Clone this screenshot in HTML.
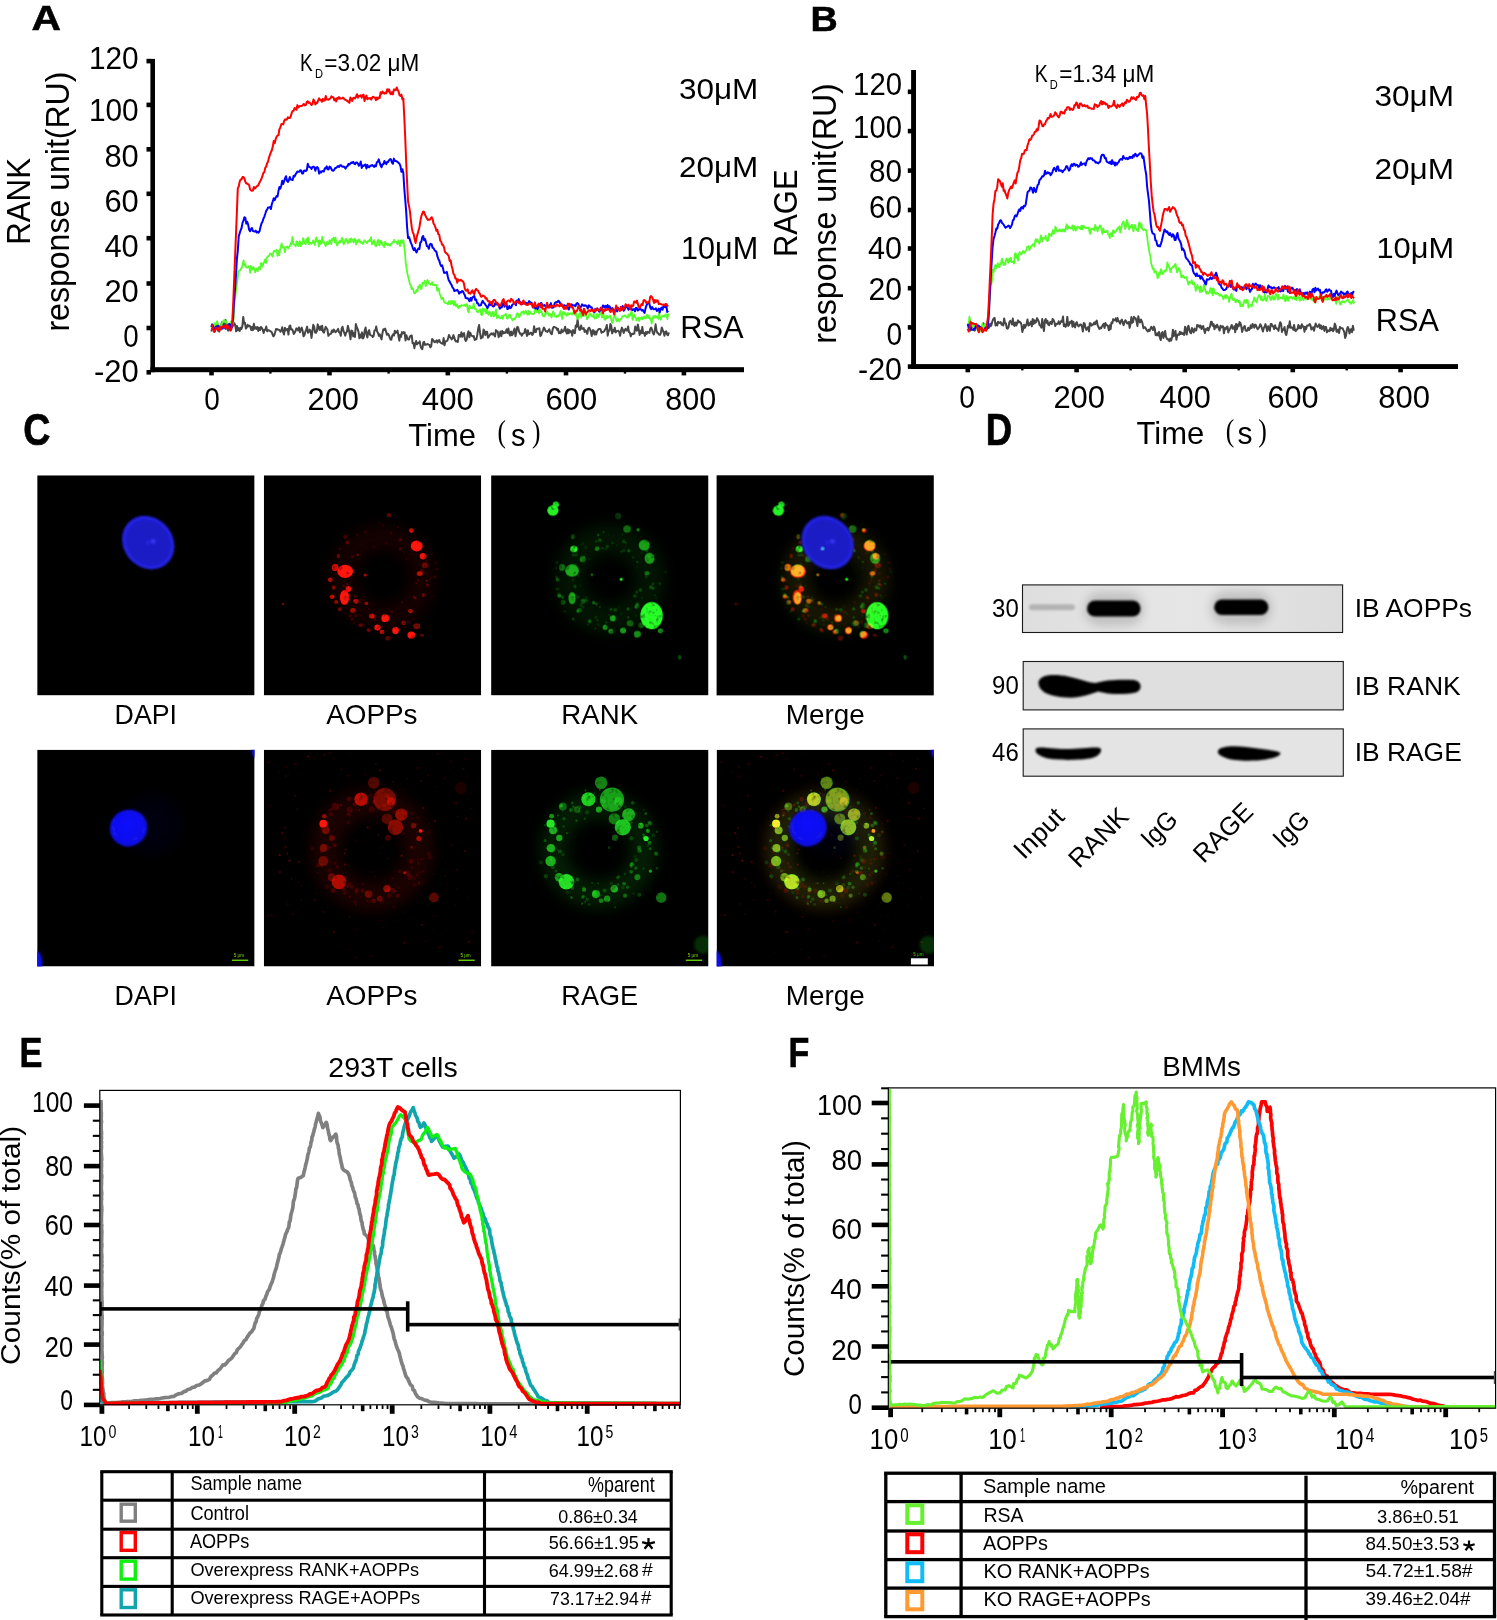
<!DOCTYPE html><html><head><meta charset="utf-8"><title>Figure</title><style>html,body{margin:0;padding:0;background:#fff}svg{display:block}body>svg{will-change:transform}text{white-space:pre}</style></head><body>
<svg width="1497" height="1620" viewBox="0 0 1497 1620" font-family="Liberation Sans, sans-serif">
<rect width="1497" height="1620" fill="#fff"/>
<defs>
<filter id="b1" x="-5%" y="-5%" width="110%" height="110%"><feGaussianBlur stdDeviation="0.7" result="bl"/><feTurbulence type="fractalNoise" baseFrequency="0.2" numOctaves="2" seed="4" result="tn"/><feColorMatrix in="tn" type="matrix" values="0 0 0 0 1 0 0 0 0 1 0 0 0 0 1 1.5 0 0 0 0.3" result="tm"/><feComposite in="bl" in2="tm" operator="in"/><feGaussianBlur stdDeviation="0.55"/></filter>
<filter id="b0" x="-30%" y="-30%" width="160%" height="160%"><feGaussianBlur stdDeviation="0.8"/></filter>
<filter id="b2" x="-50%" y="-50%" width="200%" height="200%"><feGaussianBlur stdDeviation="1.6"/></filter>
<filter id="b6" x="-50%" y="-50%" width="200%" height="200%"><feGaussianBlur stdDeviation="7"/></filter>
<filter id="bb" x="-20%" y="-40%" width="140%" height="180%"><feGaussianBlur stdDeviation="1.3"/></filter>
<filter id="bh" x="-30%" y="-80%" width="160%" height="260%"><feGaussianBlur stdDeviation="4"/></filter>
<radialGradient id="nu1" cx="50%" cy="50%" r="50%"><stop offset="0" stop-color="#2a2ae6"/><stop offset="0.12" stop-color="#1c1cc8"/><stop offset="0.8" stop-color="#1a1ac4"/><stop offset="0.95" stop-color="#2626ee"/><stop offset="1" stop-color="#1c1cd0"/></radialGradient>
<radialGradient id="nu2" cx="55%" cy="42%" r="60%"><stop offset="0" stop-color="#0a0aff"/><stop offset="0.7" stop-color="#1212f0"/><stop offset="1" stop-color="#1010e0"/></radialGradient>
<g id="r1c">
<circle cx="119" cy="102" r="40" fill="none" stroke="#ff1408" stroke-width="26" opacity="0.08" filter="url(#b6)"/>
<g filter="url(#b1)">
<ellipse cx="81.4" cy="96" rx="7.9" ry="6.6" fill="#ff1408" opacity="1"/>
<ellipse cx="71.4" cy="92.2" rx="3.4" ry="3.6" fill="#ff1408" opacity="0.8"/>
<ellipse cx="152.9" cy="70.7" rx="6" ry="5.4" fill="#ff1408" opacity="1"/>
<ellipse cx="159.3" cy="81" rx="3.4" ry="3.2" fill="#ff1408" opacity="0.95"/>
<ellipse cx="147.5" cy="55.3" rx="2.3" ry="2.3" fill="#ff1408" opacity="0.8"/>
<ellipse cx="125.2" cy="39.9" rx="2.3" ry="2.3" fill="#ff1408" opacity="0.35"/>
<ellipse cx="155.9" cy="98.3" rx="3" ry="2.4" fill="#ff1408" opacity="0.75"/>
<ellipse cx="80.7" cy="122.1" rx="4.6" ry="7.4" fill="#ff1408" opacity="1"/>
<ellipse cx="84.5" cy="113.7" rx="2.9" ry="2.9" fill="#ff1408" opacity="0.9"/>
<ellipse cx="66.5" cy="104.5" rx="2.3" ry="2.3" fill="#ff1408" opacity="0.75"/>
<ellipse cx="68.4" cy="121.4" rx="2.4" ry="2.2" fill="#ff1408" opacity="0.75"/>
<ellipse cx="72.2" cy="126.7" rx="2.2" ry="2" fill="#ff1408" opacity="0.6"/>
<ellipse cx="92.2" cy="126" rx="2.6" ry="2.4" fill="#ff1408" opacity="0.75"/>
<ellipse cx="89.1" cy="135.2" rx="2.7" ry="2.5" fill="#ff1408" opacity="0.65"/>
<ellipse cx="102.5" cy="128" rx="1.9" ry="1.9" fill="#ff1408" opacity="0.6"/>
<ellipse cx="101.4" cy="99.6" rx="1.5" ry="1.5" fill="#ff1408" opacity="0.8"/>
<ellipse cx="108" cy="140.6" rx="2.9" ry="2.5" fill="#ff1408" opacity="0.8"/>
<ellipse cx="121.4" cy="142.9" rx="3.9" ry="3.9" fill="#ff1408" opacity="1"/>
<ellipse cx="113.7" cy="152.1" rx="3.2" ry="3" fill="#ff1408" opacity="0.95"/>
<ellipse cx="118.3" cy="156.7" rx="2.3" ry="2.3" fill="#ff1408" opacity="0.8"/>
<ellipse cx="131.7" cy="155.2" rx="3.3" ry="3.7" fill="#ff1408" opacity="1"/>
<ellipse cx="147.5" cy="159.8" rx="3.9" ry="3.7" fill="#ff1408" opacity="1"/>
<ellipse cx="146.7" cy="135.7" rx="2.3" ry="2.3" fill="#ff1408" opacity="0.8"/>
<ellipse cx="139.8" cy="147.5" rx="2.4" ry="2.4" fill="#ff1408" opacity="0.45"/>
<ellipse cx="159.8" cy="119.8" rx="2" ry="2" fill="#ff1408" opacity="0.35"/>
<ellipse cx="163.6" cy="109.8" rx="1.7" ry="1.7" fill="#ff1408" opacity="0.3"/>
<ellipse cx="19.2" cy="128.6" rx="1.4" ry="1" fill="#ff1408" opacity="0.5"/>
<ellipse cx="74.5" cy="80.7" rx="1.7" ry="2.2" fill="#ff1408" opacity="0.35"/>
<ellipse cx="81.4" cy="61.5" rx="2" ry="2.4" fill="#ff1408" opacity="0.25"/>
<ellipse cx="153" cy="151" rx="3.5" ry="3" fill="#ff1408" opacity="0.45"/>
<ellipse cx="158" cy="160" rx="2.2" ry="1.8" fill="#ff1408" opacity="0.4"/>
<ellipse cx="70" cy="112" rx="2" ry="2" fill="#ff1408" opacity="0.45"/>
<ellipse cx="76" cy="134" rx="2" ry="2" fill="#ff1408" opacity="0.4"/>
<ellipse cx="97" cy="150" rx="2.5" ry="2" fill="#ff1408" opacity="0.3"/>
<ellipse cx="105" cy="155" rx="2" ry="2" fill="#ff1408" opacity="0.25"/>
<ellipse cx="124" cy="163" rx="3" ry="2.5" fill="#ff1408" opacity="0.3"/>
<ellipse cx="161" cy="90" rx="3" ry="3" fill="#ff1408" opacity="0.35"/>
<circle cx="83.69" cy="67.62" r="1.6" fill="#ff1408" opacity="0.24"/>
<circle cx="115.57" cy="48.13" r="0.83" fill="#ff1408" opacity="0.16"/>
<circle cx="162.93" cy="85.66" r="1.7" fill="#ff1408" opacity="0.1"/>
<circle cx="83.28" cy="109.03" r="1.34" fill="#ff1408" opacity="0.18"/>
<circle cx="154.51" cy="104.93" r="1.08" fill="#ff1408" opacity="0.24"/>
<circle cx="122.36" cy="68.02" r="1.6" fill="#ff1408" opacity="0.1"/>
<circle cx="94.37" cy="79.6" r="0.8" fill="#ff1408" opacity="0.23"/>
<circle cx="127.97" cy="136.45" r="1.78" fill="#ff1408" opacity="0.23"/>
<circle cx="105.56" cy="155.33" r="1.34" fill="#ff1408" opacity="0.2"/>
<circle cx="134.27" cy="154.28" r="1.49" fill="#ff1408" opacity="0.24"/>
<circle cx="148.66" cy="78.61" r="1.16" fill="#ff1408" opacity="0.11"/>
<circle cx="138.32" cy="127.13" r="1.1" fill="#ff1408" opacity="0.18"/>
<circle cx="166.62" cy="103.01" r="1.14" fill="#ff1408" opacity="0.13"/>
<circle cx="136.73" cy="63.38" r="1.12" fill="#ff1408" opacity="0.16"/>
<circle cx="110.15" cy="71.79" r="1.78" fill="#ff1408" opacity="0.08"/>
<circle cx="118.93" cy="50.03" r="0.82" fill="#ff1408" opacity="0.21"/>
<circle cx="88.97" cy="135.57" r="0.81" fill="#ff1408" opacity="0.09"/>
<circle cx="142.06" cy="151.75" r="1" fill="#ff1408" opacity="0.21"/>
<circle cx="168.25" cy="78.68" r="1.14" fill="#ff1408" opacity="0.14"/>
<circle cx="69.44" cy="94.25" r="0.91" fill="#ff1408" opacity="0.21"/>
<circle cx="134.3" cy="51.93" r="0.84" fill="#ff1408" opacity="0.24"/>
<circle cx="151.66" cy="123.06" r="1.41" fill="#ff1408" opacity="0.24"/>
<circle cx="90.06" cy="147.63" r="1.35" fill="#ff1408" opacity="0.13"/>
<circle cx="104.9" cy="133.61" r="0.88" fill="#ff1408" opacity="0.11"/>
<circle cx="98.14" cy="50.12" r="0.96" fill="#ff1408" opacity="0.09"/>
<circle cx="162.72" cy="98.33" r="1.21" fill="#ff1408" opacity="0.12"/>
<circle cx="76.23" cy="73.35" r="1.26" fill="#ff1408" opacity="0.15"/>
<circle cx="169.55" cy="120.45" r="0.83" fill="#ff1408" opacity="0.16"/>
<circle cx="136.61" cy="73.63" r="1.53" fill="#ff1408" opacity="0.24"/>
<circle cx="84.53" cy="65.11" r="0.91" fill="#ff1408" opacity="0.15"/>
<circle cx="149.74" cy="143.89" r="1.09" fill="#ff1408" opacity="0.16"/>
<circle cx="171.16" cy="101.76" r="1.78" fill="#ff1408" opacity="0.16"/>
<circle cx="70.17" cy="105.64" r="1.28" fill="#ff1408" opacity="0.13"/>
<circle cx="91.18" cy="121.22" r="1.18" fill="#ff1408" opacity="0.25"/>
<circle cx="163.83" cy="90.43" r="1.3" fill="#ff1408" opacity="0.14"/>
<circle cx="150.42" cy="121.7" r="1.58" fill="#ff1408" opacity="0.23"/>
<circle cx="86.53" cy="140.59" r="1.57" fill="#ff1408" opacity="0.2"/>
<circle cx="93.41" cy="59.34" r="1.16" fill="#ff1408" opacity="0.2"/>
<circle cx="110.79" cy="143.83" r="1.57" fill="#ff1408" opacity="0.2"/>
<circle cx="104.15" cy="154.53" r="1.45" fill="#ff1408" opacity="0.18"/>
<circle cx="163.1" cy="105.21" r="1.05" fill="#ff1408" opacity="0.19"/>
<circle cx="69.15" cy="113.83" r="1.45" fill="#ff1408" opacity="0.22"/>
<circle cx="92.03" cy="140.18" r="1.54" fill="#ff1408" opacity="0.22"/>
<circle cx="88.48" cy="143.99" r="1.67" fill="#ff1408" opacity="0.2"/>
<circle cx="173.25" cy="93.79" r="1.32" fill="#ff1408" opacity="0.17"/>
<circle cx="145.02" cy="146.74" r="1.74" fill="#ff1408" opacity="0.16"/>
<circle cx="101.47" cy="56.55" r="1.53" fill="#ff1408" opacity="0.11"/>
<circle cx="127.55" cy="57.72" r="1.47" fill="#ff1408" opacity="0.15"/>
<circle cx="83.26" cy="66.83" r="1.44" fill="#ff1408" opacity="0.2"/>
<circle cx="152.65" cy="107.9" r="1.24" fill="#ff1408" opacity="0.19"/>
<circle cx="128.25" cy="148.93" r="1.43" fill="#ff1408" opacity="0.09"/>
<circle cx="83.69" cy="108.38" r="0.85" fill="#ff1408" opacity="0.1"/>
<circle cx="104.74" cy="133.66" r="0.99" fill="#ff1408" opacity="0.09"/>
<circle cx="80.06" cy="110.62" r="1.41" fill="#ff1408" opacity="0.18"/>
<circle cx="123.08" cy="155.33" r="0.8" fill="#ff1408" opacity="0.15"/>
<circle cx="111.75" cy="142.01" r="0.92" fill="#ff1408" opacity="0.22"/>
<circle cx="97.28" cy="124.03" r="1.41" fill="#ff1408" opacity="0.1"/>
<circle cx="81.73" cy="91.12" r="1.38" fill="#ff1408" opacity="0.24"/>
<circle cx="136.06" cy="64.83" r="1.61" fill="#ff1408" opacity="0.19"/>
<circle cx="96.02" cy="126.64" r="1.4" fill="#ff1408" opacity="0.18"/>
<circle cx="172.18" cy="87.34" r="1.41" fill="#ff1408" opacity="0.14"/>
<circle cx="142.54" cy="83.37" r="0.91" fill="#ff1408" opacity="0.18"/>
<circle cx="93.77" cy="79.72" r="1.43" fill="#ff1408" opacity="0.23"/>
<circle cx="89.7" cy="131" r="1.03" fill="#ff1408" opacity="0.13"/>
<circle cx="158.28" cy="95.13" r="1.76" fill="#ff1408" opacity="0.24"/>
<circle cx="88.7" cy="81.19" r="1.78" fill="#ff1408" opacity="0.16"/>
<circle cx="85.98" cy="121.4" r="1.78" fill="#ff1408" opacity="0.16"/>
<circle cx="109.39" cy="143.3" r="0.92" fill="#ff1408" opacity="0.19"/>
<circle cx="83.73" cy="115.09" r="1.58" fill="#ff1408" opacity="0.22"/>
<circle cx="162.7" cy="105.63" r="1.07" fill="#ff1408" opacity="0.24"/>
</g></g>
<g id="g1c">
<circle cx="119" cy="104" r="40" fill="none" stroke="#28ff28" stroke-width="30" opacity="0.08" filter="url(#b6)"/>
<g filter="url(#b1)">
<ellipse cx="160.5" cy="140.3" rx="11.2" ry="13.6" fill="#28ff28" opacity="1"/>
<ellipse cx="61.8" cy="35.3" rx="5.6" ry="5.4" fill="#28ff28" opacity="0.95"/>
<ellipse cx="64.8" cy="29.2" rx="3.2" ry="3" fill="#28ff28" opacity="0.85"/>
<ellipse cx="82.8" cy="73.7" rx="3.6" ry="3.3" fill="#28ff28" opacity="0.95"/>
<ellipse cx="81" cy="95.3" rx="6.8" ry="6.2" fill="#28ff28" opacity="0.65"/>
<ellipse cx="71" cy="92.2" rx="3" ry="3.4" fill="#28ff28" opacity="0.4"/>
<ellipse cx="153.2" cy="69.9" rx="5.6" ry="5.4" fill="#28ff28" opacity="0.6"/>
<ellipse cx="158.5" cy="83" rx="5" ry="5.6" fill="#28ff28" opacity="0.6"/>
<ellipse cx="136" cy="53.8" rx="3.8" ry="3.8" fill="#28ff28" opacity="0.4"/>
<ellipse cx="147" cy="54.5" rx="1.7" ry="1.7" fill="#28ff28" opacity="0.45"/>
<ellipse cx="105.9" cy="73.3" rx="2.4" ry="2.4" fill="#28ff28" opacity="0.45"/>
<ellipse cx="130.1" cy="104" rx="1.6" ry="1.6" fill="#28ff28" opacity="0.95"/>
<ellipse cx="100.9" cy="99.4" rx="1.2" ry="1.2" fill="#28ff28" opacity="0.6"/>
<ellipse cx="91.7" cy="83.7" rx="3" ry="3.2" fill="#28ff28" opacity="0.35"/>
<ellipse cx="81" cy="122.9" rx="3.6" ry="6.2" fill="#28ff28" opacity="0.6"/>
<ellipse cx="68.4" cy="120.6" rx="2" ry="2" fill="#28ff28" opacity="0.4"/>
<ellipse cx="66.4" cy="104.5" rx="1.8" ry="1.8" fill="#28ff28" opacity="0.35"/>
<ellipse cx="121.7" cy="142.9" rx="3" ry="3" fill="#28ff28" opacity="0.6"/>
<ellipse cx="114" cy="152.1" rx="2.5" ry="2.5" fill="#28ff28" opacity="0.6"/>
<ellipse cx="119.7" cy="155.9" rx="2.5" ry="2.5" fill="#28ff28" opacity="0.55"/>
<ellipse cx="132" cy="155.2" rx="3" ry="3" fill="#28ff28" opacity="0.6"/>
<ellipse cx="146.3" cy="159" rx="3.6" ry="3.6" fill="#28ff28" opacity="0.55"/>
<ellipse cx="169.3" cy="155.6" rx="2.6" ry="2.4" fill="#28ff28" opacity="0.6"/>
<ellipse cx="155.9" cy="97.9" rx="2.6" ry="2.2" fill="#28ff28" opacity="0.4"/>
<ellipse cx="102.5" cy="127.5" rx="1.7" ry="1.7" fill="#28ff28" opacity="0.4"/>
<ellipse cx="88.3" cy="135.2" rx="2.4" ry="2.4" fill="#28ff28" opacity="0.3"/>
<ellipse cx="98.6" cy="146" rx="2" ry="2" fill="#28ff28" opacity="0.3"/>
<ellipse cx="81.7" cy="61.5" rx="2" ry="2.4" fill="#28ff28" opacity="0.3"/>
<ellipse cx="127" cy="40.7" rx="3.2" ry="3.2" fill="#28ff28" opacity="0.2"/>
<ellipse cx="188.5" cy="182" rx="1.8" ry="2.6" fill="#28ff28" opacity="0.3"/>
<ellipse cx="139" cy="148" rx="3.5" ry="3" fill="#28ff28" opacity="0.35"/>
<ellipse cx="150" cy="150" rx="3" ry="3" fill="#28ff28" opacity="0.3"/>
<ellipse cx="72" cy="127" rx="2.5" ry="2.5" fill="#28ff28" opacity="0.3"/>
<ellipse cx="92" cy="126" rx="2.5" ry="2.5" fill="#28ff28" opacity="0.3"/>
<ellipse cx="160" cy="112" rx="2" ry="2" fill="#28ff28" opacity="0.25"/>
<ellipse cx="146" cy="131" rx="2.5" ry="2.5" fill="#28ff28" opacity="0.25"/>
<circle cx="125.94" cy="69.82" r="1.12" fill="#28ff28" opacity="0.11"/>
<circle cx="155.12" cy="101.45" r="1.53" fill="#28ff28" opacity="0.17"/>
<circle cx="91.44" cy="68.54" r="1.69" fill="#28ff28" opacity="0.1"/>
<circle cx="121.37" cy="67.66" r="1.44" fill="#28ff28" opacity="0.15"/>
<circle cx="106.58" cy="145" r="1.36" fill="#28ff28" opacity="0.15"/>
<circle cx="117.6" cy="59.48" r="0.84" fill="#28ff28" opacity="0.13"/>
<circle cx="67.41" cy="118.78" r="1.87" fill="#28ff28" opacity="0.19"/>
<circle cx="168.59" cy="108.55" r="1.31" fill="#28ff28" opacity="0.2"/>
<circle cx="107.12" cy="59.87" r="1.38" fill="#28ff28" opacity="0.26"/>
<circle cx="89.69" cy="129.69" r="1.82" fill="#28ff28" opacity="0.12"/>
<circle cx="104.26" cy="153.07" r="0.88" fill="#28ff28" opacity="0.25"/>
<circle cx="105.32" cy="66.29" r="1.14" fill="#28ff28" opacity="0.24"/>
<circle cx="146.08" cy="86.97" r="1.37" fill="#28ff28" opacity="0.19"/>
<circle cx="81.74" cy="104.55" r="0.98" fill="#28ff28" opacity="0.2"/>
<circle cx="130.33" cy="76.31" r="1.08" fill="#28ff28" opacity="0.24"/>
<circle cx="131.07" cy="59.01" r="0.83" fill="#28ff28" opacity="0.22"/>
<circle cx="174.45" cy="96.52" r="1.64" fill="#28ff28" opacity="0.09"/>
<circle cx="137.66" cy="75.41" r="1.57" fill="#28ff28" opacity="0.27"/>
<circle cx="111.57" cy="73.11" r="1.15" fill="#28ff28" opacity="0.26"/>
<circle cx="145.57" cy="140.44" r="1.3" fill="#28ff28" opacity="0.11"/>
<circle cx="98" cy="83.68" r="0.93" fill="#28ff28" opacity="0.16"/>
<circle cx="145.63" cy="116.94" r="1.49" fill="#28ff28" opacity="0.23"/>
<circle cx="141.94" cy="82.03" r="1.32" fill="#28ff28" opacity="0.14"/>
<circle cx="85.29" cy="79.44" r="1.93" fill="#28ff28" opacity="0.15"/>
<circle cx="163.64" cy="120.31" r="0.98" fill="#28ff28" opacity="0.21"/>
<circle cx="65.54" cy="102.04" r="1.47" fill="#28ff28" opacity="0.2"/>
<circle cx="115.39" cy="147.3" r="1.11" fill="#28ff28" opacity="0.23"/>
<circle cx="87.43" cy="100.62" r="1.08" fill="#28ff28" opacity="0.15"/>
<circle cx="116.25" cy="71.09" r="1.66" fill="#28ff28" opacity="0.21"/>
<circle cx="159.16" cy="127.83" r="0.91" fill="#28ff28" opacity="0.1"/>
<circle cx="90.19" cy="84.7" r="1.85" fill="#28ff28" opacity="0.18"/>
<circle cx="96.65" cy="149.06" r="0.84" fill="#28ff28" opacity="0.23"/>
<circle cx="149.41" cy="114.66" r="1.94" fill="#28ff28" opacity="0.22"/>
<circle cx="124.26" cy="134.8" r="1.97" fill="#28ff28" opacity="0.21"/>
<circle cx="132.69" cy="75.17" r="1.55" fill="#28ff28" opacity="0.15"/>
<circle cx="122.51" cy="141.17" r="1.54" fill="#28ff28" opacity="0.15"/>
<circle cx="95.03" cy="124.93" r="1.8" fill="#28ff28" opacity="0.21"/>
<circle cx="132.47" cy="66.19" r="1.82" fill="#28ff28" opacity="0.18"/>
<circle cx="82.2" cy="79.79" r="1.69" fill="#28ff28" opacity="0.16"/>
<circle cx="142.72" cy="120.56" r="1.04" fill="#28ff28" opacity="0.09"/>
<circle cx="150.82" cy="77.41" r="1.71" fill="#28ff28" opacity="0.08"/>
<circle cx="67.01" cy="113.86" r="1.54" fill="#28ff28" opacity="0.17"/>
<circle cx="88.93" cy="110.61" r="0.99" fill="#28ff28" opacity="0.11"/>
<circle cx="91.63" cy="131.5" r="1.86" fill="#28ff28" opacity="0.11"/>
<circle cx="118.09" cy="139.76" r="0.99" fill="#28ff28" opacity="0.14"/>
<circle cx="122.86" cy="145.32" r="0.84" fill="#28ff28" opacity="0.26"/>
<circle cx="82.11" cy="143.8" r="1.63" fill="#28ff28" opacity="0.21"/>
<circle cx="65.39" cy="113.63" r="0.94" fill="#28ff28" opacity="0.21"/>
<circle cx="107.03" cy="149.33" r="1.68" fill="#28ff28" opacity="0.11"/>
<circle cx="127.69" cy="131.35" r="1.08" fill="#28ff28" opacity="0.1"/>
<circle cx="74.08" cy="136.18" r="1.24" fill="#28ff28" opacity="0.14"/>
<circle cx="83.79" cy="111.17" r="1.68" fill="#28ff28" opacity="0.22"/>
<circle cx="136.99" cy="133.71" r="1.61" fill="#28ff28" opacity="0.27"/>
<circle cx="94.62" cy="72.22" r="1.97" fill="#28ff28" opacity="0.08"/>
<circle cx="165.22" cy="122.59" r="1.29" fill="#28ff28" opacity="0.09"/>
<circle cx="65.85" cy="87.32" r="1.42" fill="#28ff28" opacity="0.15"/>
<circle cx="143.93" cy="120.67" r="1.88" fill="#28ff28" opacity="0.18"/>
<circle cx="146.13" cy="92.4" r="1.09" fill="#28ff28" opacity="0.09"/>
<circle cx="95.28" cy="121.85" r="1.11" fill="#28ff28" opacity="0.16"/>
<circle cx="108.86" cy="131.64" r="0.85" fill="#28ff28" opacity="0.27"/>
<circle cx="137.13" cy="142.15" r="1.28" fill="#28ff28" opacity="0.19"/>
<circle cx="150.74" cy="122.6" r="0.93" fill="#28ff28" opacity="0.19"/>
<circle cx="158.39" cy="82.76" r="1.83" fill="#28ff28" opacity="0.12"/>
<circle cx="161.85" cy="108.71" r="1.38" fill="#28ff28" opacity="0.19"/>
<circle cx="86.5" cy="135.85" r="1.67" fill="#28ff28" opacity="0.26"/>
<circle cx="104.63" cy="141.94" r="1.79" fill="#28ff28" opacity="0.12"/>
<circle cx="146.45" cy="128.41" r="0.91" fill="#28ff28" opacity="0.23"/>
<circle cx="134.53" cy="70.68" r="0.96" fill="#28ff28" opacity="0.1"/>
<circle cx="119.98" cy="134.35" r="1.31" fill="#28ff28" opacity="0.2"/>
<circle cx="119.86" cy="133.71" r="1.64" fill="#28ff28" opacity="0.09"/>
<circle cx="130.16" cy="138.24" r="1.25" fill="#28ff28" opacity="0.1"/>
<circle cx="86.7" cy="121.61" r="1.7" fill="#28ff28" opacity="0.19"/>
<circle cx="155.78" cy="75.86" r="1.71" fill="#28ff28" opacity="0.19"/>
<circle cx="71.45" cy="122.08" r="1.59" fill="#28ff28" opacity="0.27"/>
<circle cx="112.44" cy="56.82" r="1.12" fill="#28ff28" opacity="0.24"/>
<circle cx="95.61" cy="125.31" r="0.88" fill="#28ff28" opacity="0.11"/>
<circle cx="115.29" cy="150.78" r="1.14" fill="#28ff28" opacity="0.09"/>
<circle cx="122.77" cy="60.56" r="0.83" fill="#28ff28" opacity="0.09"/>
<circle cx="144.99" cy="131.72" r="1.83" fill="#28ff28" opacity="0.27"/>
<circle cx="92.72" cy="81.7" r="1.31" fill="#28ff28" opacity="0.15"/>
<circle cx="105.29" cy="128.81" r="1.5" fill="#28ff28" opacity="0.25"/>
<circle cx="114.55" cy="73.66" r="1.44" fill="#28ff28" opacity="0.11"/>
<circle cx="108.79" cy="64.82" r="1.93" fill="#28ff28" opacity="0.24"/>
<circle cx="146.17" cy="128.94" r="1.9" fill="#28ff28" opacity="0.17"/>
<circle cx="82.05" cy="120.23" r="1.72" fill="#28ff28" opacity="0.27"/>
<circle cx="65" cy="92.79" r="1.52" fill="#28ff28" opacity="0.1"/>
<circle cx="134.61" cy="67.45" r="0.86" fill="#28ff28" opacity="0.28"/>
<circle cx="162.22" cy="113.05" r="1.38" fill="#28ff28" opacity="0.26"/>
<circle cx="92.41" cy="125.25" r="1.13" fill="#28ff28" opacity="0.12"/>
<circle cx="83.89" cy="89.48" r="1.7" fill="#28ff28" opacity="0.13"/>
</g></g>
<g id="b1c"><g filter="url(#b0)"><ellipse cx="111" cy="67.3" rx="24.6" ry="28.2" transform="rotate(-40 111 67.3)" fill="url(#nu1)"/><circle cx="116" cy="66" r="2.2" fill="#4040ff" opacity=".8"/></g></g>
<g id="g1n"><g filter="url(#b1)"><circle cx="105.9" cy="73.3" r="2" fill="#30c0a0" opacity=".8"/></g></g>
<g id="r2c">
<circle cx="108" cy="100" r="47" fill="none" stroke="#ff1408" stroke-width="30" opacity="0.10" filter="url(#b6)"/>
<g filter="url(#b1)">
<circle cx="59.5" cy="74" r="3.9" fill="#ff1408" opacity="1"/>
<circle cx="60.5" cy="66.5" r="2.3" fill="#ff1408" opacity="0.55"/>
<circle cx="62" cy="80.5" r="3.8" fill="#ff1408" opacity="0.4"/>
<circle cx="97.3" cy="49.5" r="6.7" fill="#ff1408" opacity="0.7"/>
<circle cx="120.9" cy="49.9" r="11.5" fill="#ff1408" opacity="0.42"/>
<circle cx="127" cy="51.5" r="4" fill="#ff1408" opacity="0.55"/>
<circle cx="110" cy="33" r="6" fill="#ff1408" opacity="0.3"/>
<circle cx="107.9" cy="59.9" r="3" fill="#ff1408" opacity="0.15"/>
<circle cx="137.5" cy="65" r="6.2" fill="#ff1408" opacity="0.55"/>
<circle cx="131.7" cy="77.6" r="7.7" fill="#ff1408" opacity="0.5"/>
<circle cx="123.2" cy="69.1" r="5.4" fill="#ff1408" opacity="0.3"/>
<circle cx="156.8" cy="81.2" r="1.9" fill="#ff1408" opacity="1"/>
<circle cx="149.7" cy="76" r="2.7" fill="#ff1408" opacity="0.4"/>
<circle cx="155" cy="88.8" r="2.5" fill="#ff1408" opacity="0.6"/>
<circle cx="68.2" cy="88.3" r="3" fill="#ff1408" opacity="0.3"/>
<circle cx="59.8" cy="98.3" r="3.9" fill="#ff1408" opacity="0.4"/>
<circle cx="59.5" cy="111.4" r="5" fill="#ff1408" opacity="0.35"/>
<circle cx="75.2" cy="132.1" r="7.4" fill="#ff1408" opacity="0.65"/>
<circle cx="67.9" cy="127.5" r="4" fill="#ff1408" opacity="0.35"/>
<circle cx="123.2" cy="139" r="3.6" fill="#ff1408" opacity="0.65"/>
<circle cx="104.8" cy="144.4" r="3.9" fill="#ff1408" opacity="0.35"/>
<circle cx="116" cy="149" r="3" fill="#ff1408" opacity="0.3"/>
<circle cx="146.3" cy="127.5" r="2.8" fill="#ff1408" opacity="0.15"/>
<circle cx="170.1" cy="147.8" r="5" fill="#ff1408" opacity="0.35"/>
<circle cx="159.3" cy="121.4" r="1.6" fill="#ff1408" opacity="0.1"/>
<circle cx="71.7" cy="56.8" r="3.8" fill="#ff1408" opacity="0.2"/>
<circle cx="197" cy="38.4" r="6" fill="#ff1408" opacity="0.12"/>
<circle cx="141" cy="123" r="1.5" fill="#ff1408" opacity="0.7"/>
<circle cx="118" cy="98" r="1.3" fill="#ff1408" opacity="0.1"/>
<circle cx="93" cy="140" r="2" fill="#ff1408" opacity="0.2"/>
<circle cx="134" cy="146" r="2" fill="#ff1408" opacity="0.2"/>
<circle cx="86" cy="60" r="3" fill="#ff1408" opacity="0.2"/>
<circle cx="148" cy="98" r="2" fill="#ff1408" opacity="0.15"/>
<circle cx="165" cy="104" r="2" fill="#ff1408" opacity="0.15"/>
<circle cx="110" cy="151" r="2.2" fill="#ff1408" opacity="0.25"/>
<circle cx="124" cy="88" r="3" fill="#ff1408" opacity="0.25"/>
<circle cx="77.22" cy="55.38" r="1.29" fill="#ff1408" opacity="0.26"/>
<circle cx="182.32" cy="133.43" r="0.88" fill="#ff1408" opacity="0.11"/>
<circle cx="178.48" cy="106.41" r="0.63" fill="#ff1408" opacity="0.12"/>
<circle cx="23.83" cy="154.43" r="1.23" fill="#ff1408" opacity="0.12"/>
<circle cx="171.17" cy="71.38" r="1.08" fill="#ff1408" opacity="0.27"/>
<circle cx="134.47" cy="171.88" r="0.86" fill="#ff1408" opacity="0.08"/>
<circle cx="110.98" cy="126.79" r="0.73" fill="#ff1408" opacity="0.17"/>
<circle cx="69.94" cy="8.71" r="0.82" fill="#ff1408" opacity="0.16"/>
<circle cx="103.46" cy="151.41" r="0.88" fill="#ff1408" opacity="0.3"/>
<circle cx="175.08" cy="197.94" r="1.08" fill="#ff1408" opacity="0.23"/>
<circle cx="116.25" cy="171.52" r="0.85" fill="#ff1408" opacity="0.21"/>
<circle cx="146.37" cy="113.19" r="0.8" fill="#ff1408" opacity="0.1"/>
<circle cx="21.41" cy="78.09" r="1.01" fill="#ff1408" opacity="0.25"/>
<circle cx="153.75" cy="67.73" r="1.25" fill="#ff1408" opacity="0.14"/>
<circle cx="154.09" cy="18.2" r="1.13" fill="#ff1408" opacity="0.23"/>
<circle cx="204.91" cy="192.3" r="1.08" fill="#ff1408" opacity="0.26"/>
<circle cx="158.85" cy="131.92" r="0.75" fill="#ff1408" opacity="0.19"/>
<circle cx="192.08" cy="53.45" r="1.28" fill="#ff1408" opacity="0.2"/>
<circle cx="86.01" cy="3.62" r="0.87" fill="#ff1408" opacity="0.12"/>
<circle cx="140.8" cy="192.8" r="1.24" fill="#ff1408" opacity="0.21"/>
<circle cx="84.59" cy="25.98" r="1.08" fill="#ff1408" opacity="0.2"/>
<circle cx="153.92" cy="81.92" r="1.22" fill="#ff1408" opacity="0.13"/>
<circle cx="67.48" cy="59.48" r="1.04" fill="#ff1408" opacity="0.28"/>
<circle cx="38.33" cy="136.52" r="1.14" fill="#ff1408" opacity="0.13"/>
<circle cx="16.23" cy="122.4" r="1.18" fill="#ff1408" opacity="0.27"/>
<circle cx="156.62" cy="90.96" r="0.9" fill="#ff1408" opacity="0.2"/>
<circle cx="193.9" cy="66.79" r="0.8" fill="#ff1408" opacity="0.21"/>
<circle cx="206.95" cy="42.51" r="0.62" fill="#ff1408" opacity="0.11"/>
<circle cx="121.7" cy="130.33" r="0.73" fill="#ff1408" opacity="0.12"/>
<circle cx="128.44" cy="139.38" r="1.08" fill="#ff1408" opacity="0.24"/>
<circle cx="15.95" cy="105.27" r="1.18" fill="#ff1408" opacity="0.29"/>
<circle cx="70.19" cy="182.42" r="1.05" fill="#ff1408" opacity="0.28"/>
<circle cx="51.33" cy="150.03" r="1.19" fill="#ff1408" opacity="0.18"/>
<circle cx="24.27" cy="43.83" r="0.71" fill="#ff1408" opacity="0.1"/>
<circle cx="35.06" cy="132.92" r="0.67" fill="#ff1408" opacity="0.25"/>
<circle cx="158.34" cy="175.25" r="1.16" fill="#ff1408" opacity="0.24"/>
<circle cx="197.98" cy="204.91" r="1.04" fill="#ff1408" opacity="0.29"/>
<circle cx="24.8" cy="24.71" r="0.65" fill="#ff1408" opacity="0.13"/>
<circle cx="82.01" cy="99.78" r="1.08" fill="#ff1408" opacity="0.24"/>
<circle cx="20.68" cy="88.09" r="0.98" fill="#ff1408" opacity="0.16"/>
<circle cx="27.8" cy="128.99" r="0.86" fill="#ff1408" opacity="0.23"/>
<circle cx="107.55" cy="206.13" r="1.26" fill="#ff1408" opacity="0.1"/>
<circle cx="163.32" cy="155.18" r="0.81" fill="#ff1408" opacity="0.11"/>
<circle cx="104.07" cy="77.72" r="1.12" fill="#ff1408" opacity="0.28"/>
<circle cx="83.62" cy="64.31" r="0.95" fill="#ff1408" opacity="0.23"/>
<circle cx="169.48" cy="124.47" r="0.81" fill="#ff1408" opacity="0.15"/>
<circle cx="181.93" cy="112.56" r="0.64" fill="#ff1408" opacity="0.17"/>
<circle cx="53.18" cy="143.57" r="0.65" fill="#ff1408" opacity="0.14"/>
<circle cx="23.26" cy="103.76" r="1.29" fill="#ff1408" opacity="0.2"/>
<circle cx="84.51" cy="200.06" r="0.66" fill="#ff1408" opacity="0.16"/>
<circle cx="174.07" cy="4.08" r="1.14" fill="#ff1408" opacity="0.16"/>
<circle cx="6.46" cy="55.93" r="0.92" fill="#ff1408" opacity="0.16"/>
<circle cx="112.04" cy="14.21" r="0.75" fill="#ff1408" opacity="0.29"/>
<circle cx="96.4" cy="102.57" r="0.66" fill="#ff1408" opacity="0.14"/>
<circle cx="204.45" cy="147.97" r="0.96" fill="#ff1408" opacity="0.09"/>
<circle cx="85.86" cy="167.25" r="0.9" fill="#ff1408" opacity="0.21"/>
<circle cx="193.4" cy="139.12" r="1.05" fill="#ff1408" opacity="0.09"/>
<circle cx="8.03" cy="165.38" r="0.89" fill="#ff1408" opacity="0.27"/>
<circle cx="177.22" cy="196.14" r="0.86" fill="#ff1408" opacity="0.3"/>
<circle cx="162.57" cy="191.17" r="0.7" fill="#ff1408" opacity="0.25"/>
<circle cx="92.07" cy="208.11" r="1.3" fill="#ff1408" opacity="0.13"/>
<circle cx="91.92" cy="60.16" r="0.93" fill="#ff1408" opacity="0.14"/>
<circle cx="143.63" cy="29.02" r="0.72" fill="#ff1408" opacity="0.18"/>
<circle cx="18.59" cy="83.43" r="1.23" fill="#ff1408" opacity="0.27"/>
<circle cx="44.47" cy="6.9" r="1.18" fill="#ff1408" opacity="0.29"/>
<circle cx="129.37" cy="31.77" r="0.77" fill="#ff1408" opacity="0.28"/>
<circle cx="200.83" cy="9.56" r="0.73" fill="#ff1408" opacity="0.17"/>
<circle cx="59.27" cy="162.07" r="0.86" fill="#ff1408" opacity="0.25"/>
<circle cx="35.07" cy="112.37" r="1.28" fill="#ff1408" opacity="0.23"/>
<circle cx="22" cy="26.42" r="1.05" fill="#ff1408" opacity="0.16"/>
<circle cx="80.8" cy="103.79" r="1.01" fill="#ff1408" opacity="0.29"/>
<circle cx="53.83" cy="122.99" r="0.78" fill="#ff1408" opacity="0.2"/>
<circle cx="157.34" cy="31.19" r="0.94" fill="#ff1408" opacity="0.24"/>
<circle cx="4.72" cy="165.71" r="0.89" fill="#ff1408" opacity="0.19"/>
<circle cx="131.82" cy="170.3" r="0.64" fill="#ff1408" opacity="0.19"/>
<circle cx="11.08" cy="84.34" r="0.84" fill="#ff1408" opacity="0.08"/>
<circle cx="65.82" cy="97.95" r="1.06" fill="#ff1408" opacity="0.28"/>
<circle cx="81.17" cy="114.84" r="1.1" fill="#ff1408" opacity="0.29"/>
<circle cx="203.38" cy="211.47" r="0.81" fill="#ff1408" opacity="0.12"/>
<circle cx="199.63" cy="19.33" r="0.91" fill="#ff1408" opacity="0.24"/>
<circle cx="114.56" cy="85.03" r="1.25" fill="#ff1408" opacity="0.15"/>
<circle cx="119.41" cy="178.06" r="0.7" fill="#ff1408" opacity="0.16"/>
<circle cx="107.29" cy="122.41" r="0.75" fill="#ff1408" opacity="0.18"/>
<circle cx="15.62" cy="21.55" r="0.84" fill="#ff1408" opacity="0.11"/>
<circle cx="207.15" cy="58.56" r="0.79" fill="#ff1408" opacity="0.25"/>
<circle cx="159.38" cy="58.3" r="1.18" fill="#ff1408" opacity="0.22"/>
<circle cx="85" cy="135.68" r="0.77" fill="#ff1408" opacity="0.14"/>
<circle cx="187.95" cy="95.55" r="1.23" fill="#ff1408" opacity="0.12"/>
<circle cx="31.97" cy="13.96" r="1.12" fill="#ff1408" opacity="0.2"/>
<circle cx="5.04" cy="12.13" r="1.18" fill="#ff1408" opacity="0.19"/>
<circle cx="186.85" cy="11.39" r="1.01" fill="#ff1408" opacity="0.11"/>
<circle cx="155.16" cy="131.99" r="1.03" fill="#ff1408" opacity="0.13"/>
<circle cx="203.24" cy="26.43" r="0.64" fill="#ff1408" opacity="0.23"/>
<circle cx="22.58" cy="17.1" r="0.92" fill="#ff1408" opacity="0.22"/>
<circle cx="191.23" cy="155.1" r="0.65" fill="#ff1408" opacity="0.22"/>
<circle cx="181.01" cy="28.43" r="1.13" fill="#ff1408" opacity="0.14"/>
<circle cx="66.01" cy="3.32" r="1.13" fill="#ff1408" opacity="0.19"/>
<circle cx="193.31" cy="101.23" r="0.71" fill="#ff1408" opacity="0.13"/>
<circle cx="58.57" cy="202.77" r="0.74" fill="#ff1408" opacity="0.1"/>
<circle cx="77.43" cy="19.69" r="0.9" fill="#ff1408" opacity="0.22"/>
<circle cx="140.28" cy="39.88" r="0.7" fill="#ff1408" opacity="0.19"/>
<circle cx="148" cy="97.35" r="1" fill="#ff1408" opacity="0.28"/>
<circle cx="33.61" cy="59.51" r="0.95" fill="#ff1408" opacity="0.2"/>
<circle cx="192.94" cy="120.17" r="1.06" fill="#ff1408" opacity="0.17"/>
<circle cx="168.48" cy="179.38" r="0.81" fill="#ff1408" opacity="0.1"/>
<circle cx="57.69" cy="78.45" r="1.22" fill="#ff1408" opacity="0.14"/>
<circle cx="135.8" cy="138.17" r="1.27" fill="#ff1408" opacity="0.11"/>
<circle cx="165.45" cy="73.98" r="0.67" fill="#ff1408" opacity="0.22"/>
<circle cx="181.16" cy="125.9" r="0.63" fill="#ff1408" opacity="0.29"/>
<circle cx="84.05" cy="137.26" r="1.11" fill="#ff1408" opacity="0.14"/>
<circle cx="89.16" cy="72.48" r="0.67" fill="#ff1408" opacity="0.09"/>
<circle cx="154.26" cy="89.62" r="1.21" fill="#ff1408" opacity="0.09"/>
<circle cx="66.6" cy="41.01" r="1.26" fill="#ff1408" opacity="0.25"/>
<circle cx="192.13" cy="109.85" r="0.67" fill="#ff1408" opacity="0.17"/>
<circle cx="50.73" cy="8.67" r="1" fill="#ff1408" opacity="0.14"/>
<circle cx="25.76" cy="110.94" r="1.25" fill="#ff1408" opacity="0.29"/>
<circle cx="101.35" cy="24.68" r="1.14" fill="#ff1408" opacity="0.11"/>
<circle cx="116.39" cy="20.66" r="1.29" fill="#ff1408" opacity="0.2"/>
<circle cx="95.31" cy="60.43" r="0.99" fill="#ff1408" opacity="0.29"/>
<circle cx="93.28" cy="47.15" r="0.96" fill="#ff1408" opacity="0.28"/>
<circle cx="83.55" cy="136.74" r="1.24" fill="#ff1408" opacity="0.15"/>
<circle cx="174.1" cy="114.62" r="0.7" fill="#ff1408" opacity="0.09"/>
<circle cx="201.13" cy="101.32" r="0.91" fill="#ff1408" opacity="0.28"/>
<circle cx="124.11" cy="108.54" r="0.8" fill="#ff1408" opacity="0.24"/>
<circle cx="57.07" cy="102.28" r="1.13" fill="#ff1408" opacity="0.21"/>
<circle cx="31.32" cy="45.77" r="1.09" fill="#ff1408" opacity="0.24"/>
<circle cx="24.65" cy="213.48" r="0.69" fill="#ff1408" opacity="0.12"/>
<circle cx="21.93" cy="97.19" r="1.03" fill="#ff1408" opacity="0.27"/>
<circle cx="37.43" cy="150.43" r="0.67" fill="#ff1408" opacity="0.21"/>
<circle cx="56.15" cy="78.17" r="0.64" fill="#ff1408" opacity="0.24"/>
<circle cx="28.8" cy="164.24" r="0.84" fill="#ff1408" opacity="0.21"/>
<circle cx="137.85" cy="106.12" r="1.21" fill="#ff1408" opacity="0.28"/>
<circle cx="62.52" cy="73.43" r="1.21" fill="#ff1408" opacity="0.11"/>
<circle cx="91.63" cy="90.49" r="1.28" fill="#ff1408" opacity="0.11"/>
<circle cx="141.22" cy="162.73" r="1.11" fill="#ff1408" opacity="0.08"/>
<circle cx="202.11" cy="68.93" r="1.2" fill="#ff1408" opacity="0.23"/>
<circle cx="91.79" cy="179.75" r="1.07" fill="#ff1408" opacity="0.15"/>
<circle cx="157.42" cy="109.59" r="1.1" fill="#ff1408" opacity="0.22"/>
<circle cx="170.96" cy="36.61" r="0.95" fill="#ff1408" opacity="0.08"/>
<circle cx="169.86" cy="165.79" r="1.19" fill="#ff1408" opacity="0.09"/>
<circle cx="115.93" cy="103.98" r="0.68" fill="#ff1408" opacity="0.12"/>
<circle cx="208.59" cy="182.91" r="0.77" fill="#ff1408" opacity="0.26"/>
<circle cx="140.36" cy="84.21" r="1.05" fill="#ff1408" opacity="0.13"/>
<circle cx="60.76" cy="5.13" r="1.06" fill="#ff1408" opacity="0.21"/>
<circle cx="159.86" cy="109.3" r="0.9" fill="#ff1408" opacity="0.15"/>
<circle cx="158.15" cy="81.66" r="1.02" fill="#ff1408" opacity="0.25"/>
<circle cx="96.8" cy="147.78" r="0.64" fill="#ff1408" opacity="0.14"/>
<circle cx="180.37" cy="34.11" r="0.64" fill="#ff1408" opacity="0.08"/>
<circle cx="164.65" cy="25.43" r="0.92" fill="#ff1408" opacity="0.18"/>
<circle cx="172.41" cy="103.57" r="0.97" fill="#ff1408" opacity="0.09"/>
<circle cx="123.63" cy="46.52" r="1.94" fill="#ff1408" opacity="0.2"/>
<circle cx="67.03" cy="64.31" r="2.28" fill="#ff1408" opacity="0.17"/>
<circle cx="166.4" cy="107.48" r="2.48" fill="#ff1408" opacity="0.11"/>
<circle cx="148.43" cy="117.82" r="1.15" fill="#ff1408" opacity="0.13"/>
<circle cx="142.68" cy="121.76" r="1" fill="#ff1408" opacity="0.14"/>
<circle cx="91.1" cy="152" r="1.58" fill="#ff1408" opacity="0.1"/>
<circle cx="164.63" cy="82.92" r="2.03" fill="#ff1408" opacity="0.11"/>
<circle cx="69.38" cy="127.1" r="1.61" fill="#ff1408" opacity="0.08"/>
<circle cx="54.42" cy="115.31" r="2.04" fill="#ff1408" opacity="0.2"/>
<circle cx="85.25" cy="49.27" r="2.31" fill="#ff1408" opacity="0.21"/>
<circle cx="120.35" cy="55.44" r="1.99" fill="#ff1408" opacity="0.17"/>
<circle cx="148.18" cy="63.53" r="1.67" fill="#ff1408" opacity="0.11"/>
<circle cx="88.47" cy="136.91" r="2.02" fill="#ff1408" opacity="0.19"/>
<circle cx="125.59" cy="146.17" r="2.26" fill="#ff1408" opacity="0.13"/>
<circle cx="150.53" cy="128.78" r="1.54" fill="#ff1408" opacity="0.1"/>
<circle cx="99.68" cy="134.19" r="1.22" fill="#ff1408" opacity="0.14"/>
<circle cx="135.79" cy="121.54" r="1.82" fill="#ff1408" opacity="0.21"/>
<circle cx="130.06" cy="62.15" r="2.39" fill="#ff1408" opacity="0.09"/>
<circle cx="128.61" cy="128.52" r="1.09" fill="#ff1408" opacity="0.16"/>
<circle cx="110.09" cy="52.15" r="2.2" fill="#ff1408" opacity="0.14"/>
<circle cx="152.85" cy="74.86" r="1.81" fill="#ff1408" opacity="0.1"/>
<circle cx="66.02" cy="120.89" r="2.23" fill="#ff1408" opacity="0.11"/>
<circle cx="92.21" cy="154.82" r="1.11" fill="#ff1408" opacity="0.16"/>
<circle cx="118.05" cy="152" r="1.89" fill="#ff1408" opacity="0.09"/>
<circle cx="102.3" cy="54.36" r="1.48" fill="#ff1408" opacity="0.2"/>
<circle cx="115.78" cy="57.35" r="2.02" fill="#ff1408" opacity="0.1"/>
<circle cx="71.03" cy="95.6" r="1.96" fill="#ff1408" opacity="0.21"/>
<circle cx="84.35" cy="72.73" r="1.77" fill="#ff1408" opacity="0.15"/>
<circle cx="71.4" cy="113.69" r="1.42" fill="#ff1408" opacity="0.14"/>
<circle cx="155.98" cy="122.99" r="1.37" fill="#ff1408" opacity="0.12"/>
<circle cx="144.33" cy="123.32" r="2.4" fill="#ff1408" opacity="0.12"/>
<circle cx="144.52" cy="125.14" r="2.42" fill="#ff1408" opacity="0.09"/>
<circle cx="85.69" cy="133.98" r="2.02" fill="#ff1408" opacity="0.14"/>
<circle cx="155.51" cy="133.75" r="1.49" fill="#ff1408" opacity="0.18"/>
<circle cx="52.02" cy="117.1" r="1.09" fill="#ff1408" opacity="0.11"/>
<circle cx="98.65" cy="141.09" r="2.23" fill="#ff1408" opacity="0.15"/>
<circle cx="80.2" cy="139.97" r="2.27" fill="#ff1408" opacity="0.16"/>
<circle cx="57.7" cy="115.84" r="1.92" fill="#ff1408" opacity="0.14"/>
<circle cx="73.5" cy="117.22" r="1.66" fill="#ff1408" opacity="0.2"/>
<circle cx="92.54" cy="142.11" r="1.9" fill="#ff1408" opacity="0.16"/>
<circle cx="129.26" cy="141.96" r="2.1" fill="#ff1408" opacity="0.09"/>
<circle cx="150.96" cy="134.98" r="2.36" fill="#ff1408" opacity="0.09"/>
<circle cx="153.27" cy="125.42" r="1.43" fill="#ff1408" opacity="0.17"/>
<circle cx="154.24" cy="110.1" r="1.24" fill="#ff1408" opacity="0.13"/>
<circle cx="91.05" cy="54.27" r="2.28" fill="#ff1408" opacity="0.2"/>
<circle cx="65.65" cy="60.54" r="1.27" fill="#ff1408" opacity="0.15"/>
<circle cx="86.05" cy="147" r="1.17" fill="#ff1408" opacity="0.2"/>
<circle cx="69.43" cy="140.82" r="2.41" fill="#ff1408" opacity="0.21"/>
<circle cx="63.16" cy="137" r="2.5" fill="#ff1408" opacity="0.1"/>
<circle cx="107.12" cy="45.37" r="1.69" fill="#ff1408" opacity="0.12"/>
<circle cx="129.35" cy="140.87" r="2.4" fill="#ff1408" opacity="0.14"/>
<circle cx="106.26" cy="151.7" r="1.66" fill="#ff1408" opacity="0.17"/>
<circle cx="67" cy="112.06" r="1.05" fill="#ff1408" opacity="0.19"/>
<circle cx="85.49" cy="65.04" r="1.75" fill="#ff1408" opacity="0.16"/>
<circle cx="48.69" cy="98.67" r="2.17" fill="#ff1408" opacity="0.12"/>
<circle cx="80.75" cy="143.72" r="1.24" fill="#ff1408" opacity="0.21"/>
<circle cx="154.53" cy="113.65" r="1.41" fill="#ff1408" opacity="0.15"/>
<circle cx="147.38" cy="111.6" r="2.48" fill="#ff1408" opacity="0.19"/>
<circle cx="116.57" cy="146.53" r="1.05" fill="#ff1408" opacity="0.1"/>
<circle cx="130.01" cy="157.51" r="1.47" fill="#ff1408" opacity="0.11"/>
</g></g>
<g id="g2c">
<circle cx="108" cy="100" r="45" fill="none" stroke="#28ff28" stroke-width="28" opacity="0.11" filter="url(#b6)"/>
<circle cx="212" cy="195" r="9" fill="#28ff28" opacity="0.18" filter="url(#b2)"/>
<g filter="url(#b1)">
<circle cx="59.5" cy="74" r="4.09" fill="#28ff28" opacity="0.9"/>
<circle cx="60.5" cy="66.5" r="2.42" fill="#28ff28" opacity="0.55"/>
<circle cx="62" cy="80.5" r="3.99" fill="#28ff28" opacity="0.65"/>
<circle cx="97.3" cy="49.5" r="7.04" fill="#28ff28" opacity="0.8"/>
<circle cx="120.9" cy="49.9" r="12.08" fill="#28ff28" opacity="0.6"/>
<circle cx="127" cy="51.5" r="4.2" fill="#28ff28" opacity="0.35"/>
<circle cx="110" cy="33" r="6.3" fill="#28ff28" opacity="0.5"/>
<circle cx="107.9" cy="59.9" r="3.15" fill="#28ff28" opacity="0.6"/>
<circle cx="137.5" cy="65" r="6.51" fill="#28ff28" opacity="0.65"/>
<circle cx="131.7" cy="77.6" r="8.09" fill="#28ff28" opacity="0.75"/>
<circle cx="123.2" cy="69.1" r="5.67" fill="#28ff28" opacity="0.45"/>
<circle cx="156.8" cy="81.2" r="1.99" fill="#28ff28" opacity="0.5"/>
<circle cx="149.7" cy="76" r="2.84" fill="#28ff28" opacity="0.6"/>
<circle cx="155" cy="88.8" r="2.62" fill="#28ff28" opacity="0.95"/>
<circle cx="68.2" cy="88.3" r="3.15" fill="#28ff28" opacity="0.6"/>
<circle cx="59.8" cy="98.3" r="4.09" fill="#28ff28" opacity="0.65"/>
<circle cx="59.5" cy="111.4" r="5.25" fill="#28ff28" opacity="0.65"/>
<circle cx="75.2" cy="132.1" r="7.77" fill="#28ff28" opacity="0.85"/>
<circle cx="67.9" cy="127.5" r="4.2" fill="#28ff28" opacity="0.6"/>
<circle cx="123.2" cy="139" r="3.78" fill="#28ff28" opacity="0.65"/>
<circle cx="104.8" cy="144.4" r="4.09" fill="#28ff28" opacity="0.6"/>
<circle cx="116" cy="149" r="3.15" fill="#28ff28" opacity="0.5"/>
<circle cx="146.3" cy="127.5" r="2.94" fill="#28ff28" opacity="0.45"/>
<circle cx="170.1" cy="147.8" r="5.25" fill="#28ff28" opacity="0.45"/>
<circle cx="159.3" cy="121.4" r="1.68" fill="#28ff28" opacity="0.6"/>
<circle cx="71.7" cy="56.8" r="3.99" fill="#28ff28" opacity="0.35"/>
<circle cx="141" cy="123" r="1.58" fill="#28ff28" opacity="0.1"/>
<circle cx="118" cy="98" r="1.37" fill="#28ff28" opacity="0.3"/>
<circle cx="93" cy="140" r="2.1" fill="#28ff28" opacity="0.45"/>
<circle cx="134" cy="146" r="2.1" fill="#28ff28" opacity="0.35"/>
<circle cx="86" cy="60" r="3.15" fill="#28ff28" opacity="0.3"/>
<circle cx="148" cy="98" r="2.1" fill="#28ff28" opacity="0.3"/>
<circle cx="165" cy="104" r="2.1" fill="#28ff28" opacity="0.3"/>
<circle cx="110" cy="151" r="2.31" fill="#28ff28" opacity="0.45"/>
<circle cx="124" cy="88" r="3.15" fill="#28ff28" opacity="0.35"/>
<circle cx="141.18" cy="114.44" r="2.19" fill="#28ff28" opacity="0.29"/>
<circle cx="158.21" cy="72.53" r="1.9" fill="#28ff28" opacity="0.16"/>
<circle cx="127.87" cy="135.67" r="0.89" fill="#28ff28" opacity="0.14"/>
<circle cx="99.11" cy="53.6" r="0.81" fill="#28ff28" opacity="0.18"/>
<circle cx="141.76" cy="53.24" r="1.82" fill="#28ff28" opacity="0.28"/>
<circle cx="149.79" cy="74.11" r="1.34" fill="#28ff28" opacity="0.24"/>
<circle cx="101.11" cy="133.35" r="1.16" fill="#28ff28" opacity="0.21"/>
<circle cx="133.74" cy="124.22" r="1.15" fill="#28ff28" opacity="0.19"/>
<circle cx="153.42" cy="87.44" r="1.97" fill="#28ff28" opacity="0.29"/>
<circle cx="72.59" cy="76.78" r="1.35" fill="#28ff28" opacity="0.18"/>
<circle cx="69.59" cy="56.81" r="1.91" fill="#28ff28" opacity="0.17"/>
<circle cx="127.63" cy="126.85" r="1.62" fill="#28ff28" opacity="0.16"/>
<circle cx="149.73" cy="101.45" r="1.12" fill="#28ff28" opacity="0.15"/>
<circle cx="82.4" cy="57.11" r="1.19" fill="#28ff28" opacity="0.28"/>
<circle cx="124.13" cy="157.5" r="0.97" fill="#28ff28" opacity="0.25"/>
<circle cx="92.83" cy="47.93" r="1.48" fill="#28ff28" opacity="0.32"/>
<circle cx="71.48" cy="61.54" r="0.91" fill="#28ff28" opacity="0.15"/>
<circle cx="60.31" cy="110.42" r="0.93" fill="#28ff28" opacity="0.29"/>
<circle cx="81.33" cy="138.43" r="1.53" fill="#28ff28" opacity="0.31"/>
<circle cx="92.17" cy="146.62" r="1.65" fill="#28ff28" opacity="0.26"/>
<circle cx="92.35" cy="138" r="1.46" fill="#28ff28" opacity="0.25"/>
<circle cx="85.33" cy="70.91" r="1.42" fill="#28ff28" opacity="0.24"/>
<circle cx="120.24" cy="133.82" r="2.1" fill="#28ff28" opacity="0.11"/>
<circle cx="66.46" cy="100.36" r="0.84" fill="#28ff28" opacity="0.17"/>
<circle cx="131.56" cy="137.87" r="2.07" fill="#28ff28" opacity="0.12"/>
<circle cx="76.31" cy="142.67" r="1.67" fill="#28ff28" opacity="0.11"/>
<circle cx="113.47" cy="140.79" r="2.05" fill="#28ff28" opacity="0.21"/>
<circle cx="105.78" cy="146.87" r="1.48" fill="#28ff28" opacity="0.14"/>
<circle cx="81.16" cy="53.25" r="1.47" fill="#28ff28" opacity="0.23"/>
<circle cx="115.81" cy="39.77" r="1.66" fill="#28ff28" opacity="0.11"/>
<circle cx="55.82" cy="98.33" r="1.26" fill="#28ff28" opacity="0.27"/>
<circle cx="73.69" cy="137.57" r="1.66" fill="#28ff28" opacity="0.27"/>
<circle cx="155.76" cy="75.83" r="1.79" fill="#28ff28" opacity="0.28"/>
<circle cx="114.18" cy="150.43" r="1.67" fill="#28ff28" opacity="0.12"/>
<circle cx="109.06" cy="60.44" r="1.49" fill="#28ff28" opacity="0.23"/>
<circle cx="98.41" cy="45.65" r="1.46" fill="#28ff28" opacity="0.33"/>
<circle cx="61.71" cy="117.33" r="2.19" fill="#28ff28" opacity="0.18"/>
<circle cx="94.38" cy="40.81" r="0.92" fill="#28ff28" opacity="0.29"/>
<circle cx="79.86" cy="60.31" r="1.91" fill="#28ff28" opacity="0.31"/>
<circle cx="136.49" cy="137.52" r="1.66" fill="#28ff28" opacity="0.27"/>
<circle cx="162.37" cy="85.46" r="1.96" fill="#28ff28" opacity="0.12"/>
<circle cx="54.77" cy="126.57" r="2.12" fill="#28ff28" opacity="0.29"/>
<circle cx="80.25" cy="147.86" r="1.54" fill="#28ff28" opacity="0.27"/>
<circle cx="70.26" cy="55.84" r="1.8" fill="#28ff28" opacity="0.34"/>
<circle cx="60.73" cy="101.92" r="1.72" fill="#28ff28" opacity="0.24"/>
<circle cx="165.95" cy="118.46" r="1.25" fill="#28ff28" opacity="0.22"/>
<circle cx="145.16" cy="110.13" r="2.1" fill="#28ff28" opacity="0.17"/>
<circle cx="91" cy="153.93" r="1.14" fill="#28ff28" opacity="0.27"/>
<circle cx="54.36" cy="75.43" r="1.47" fill="#28ff28" opacity="0.18"/>
<circle cx="105.52" cy="143.48" r="0.8" fill="#28ff28" opacity="0.13"/>
<circle cx="133.02" cy="133.89" r="1.88" fill="#28ff28" opacity="0.34"/>
<circle cx="83.48" cy="131.91" r="1.21" fill="#28ff28" opacity="0.26"/>
<circle cx="71.92" cy="104.86" r="1.53" fill="#28ff28" opacity="0.17"/>
<circle cx="142.45" cy="143.86" r="0.95" fill="#28ff28" opacity="0.21"/>
<circle cx="112.87" cy="51.5" r="2.02" fill="#28ff28" opacity="0.18"/>
<circle cx="140.33" cy="88.65" r="2.05" fill="#28ff28" opacity="0.21"/>
<circle cx="148.52" cy="100.79" r="2.18" fill="#28ff28" opacity="0.28"/>
<circle cx="103.47" cy="43.66" r="0.81" fill="#28ff28" opacity="0.18"/>
<circle cx="50.01" cy="112.7" r="2.07" fill="#28ff28" opacity="0.14"/>
<circle cx="156.92" cy="96.09" r="1.23" fill="#28ff28" opacity="0.12"/>
<circle cx="64.91" cy="121.38" r="1.43" fill="#28ff28" opacity="0.18"/>
<circle cx="152.29" cy="84.91" r="1.23" fill="#28ff28" opacity="0.29"/>
<circle cx="109.62" cy="145.23" r="0.95" fill="#28ff28" opacity="0.16"/>
<circle cx="159.01" cy="99.03" r="1.53" fill="#28ff28" opacity="0.27"/>
<circle cx="85.39" cy="57.52" r="1.31" fill="#28ff28" opacity="0.14"/>
<circle cx="143.88" cy="106.71" r="1.37" fill="#28ff28" opacity="0.1"/>
<circle cx="88.48" cy="61.93" r="1.13" fill="#28ff28" opacity="0.18"/>
<circle cx="68.96" cy="101.76" r="1.99" fill="#28ff28" opacity="0.22"/>
<circle cx="140.22" cy="114.82" r="2.05" fill="#28ff28" opacity="0.24"/>
<circle cx="94.22" cy="151.88" r="0.86" fill="#28ff28" opacity="0.32"/>
<circle cx="156.16" cy="79.69" r="0.87" fill="#28ff28" opacity="0.21"/>
<circle cx="134.05" cy="57.08" r="1.09" fill="#28ff28" opacity="0.16"/>
<circle cx="152.33" cy="118.74" r="1.05" fill="#28ff28" opacity="0.21"/>
<circle cx="154.84" cy="63.93" r="1.49" fill="#28ff28" opacity="0.3"/>
<circle cx="148.27" cy="145.13" r="2.01" fill="#28ff28" opacity="0.22"/>
<circle cx="139.39" cy="72.67" r="2.17" fill="#28ff28" opacity="0.18"/>
<circle cx="158.92" cy="73.78" r="2.11" fill="#28ff28" opacity="0.28"/>
<circle cx="144.82" cy="118.28" r="1.72" fill="#28ff28" opacity="0.33"/>
<circle cx="93.64" cy="69.04" r="1.29" fill="#28ff28" opacity="0.19"/>
<circle cx="126.78" cy="134.78" r="1.52" fill="#28ff28" opacity="0.19"/>
<circle cx="103.2" cy="144.69" r="2.13" fill="#28ff28" opacity="0.25"/>
<circle cx="108.7" cy="39.96" r="0.84" fill="#28ff28" opacity="0.32"/>
<circle cx="139.98" cy="121.78" r="1.84" fill="#28ff28" opacity="0.29"/>
<circle cx="72.85" cy="69.09" r="1.81" fill="#28ff28" opacity="0.21"/>
<circle cx="121.48" cy="136.99" r="0.96" fill="#28ff28" opacity="0.11"/>
<circle cx="165.82" cy="81.99" r="1.29" fill="#28ff28" opacity="0.2"/>
<circle cx="97.98" cy="154.75" r="1.49" fill="#28ff28" opacity="0.14"/>
<circle cx="152.74" cy="60.12" r="0.87" fill="#28ff28" opacity="0.21"/>
<circle cx="117.35" cy="150.68" r="1.3" fill="#28ff28" opacity="0.17"/>
<circle cx="91.64" cy="147.89" r="1.5" fill="#28ff28" opacity="0.22"/>
<circle cx="88.26" cy="57.65" r="2.13" fill="#28ff28" opacity="0.21"/>
<circle cx="123.53" cy="42.06" r="1.67" fill="#28ff28" opacity="0.25"/>
<circle cx="121.24" cy="48.02" r="1.07" fill="#28ff28" opacity="0.2"/>
<circle cx="126.56" cy="128.02" r="1.76" fill="#28ff28" opacity="0.18"/>
<circle cx="106.99" cy="133.74" r="0.83" fill="#28ff28" opacity="0.27"/>
<circle cx="79.38" cy="135.56" r="1.75" fill="#28ff28" opacity="0.33"/>
<circle cx="96.06" cy="62.5" r="2.18" fill="#28ff28" opacity="0.15"/>
<circle cx="62.83" cy="74.9" r="1.2" fill="#28ff28" opacity="0.32"/>
<circle cx="66.7" cy="65.85" r="0.99" fill="#28ff28" opacity="0.31"/>
<circle cx="96.18" cy="149.53" r="1.83" fill="#28ff28" opacity="0.18"/>
<circle cx="103.93" cy="142.39" r="2.17" fill="#28ff28" opacity="0.26"/>
<circle cx="59.51" cy="108.86" r="1.72" fill="#28ff28" opacity="0.17"/>
<circle cx="140.13" cy="116.59" r="1.61" fill="#28ff28" opacity="0.25"/>
<circle cx="158.52" cy="92.95" r="1.99" fill="#28ff28" opacity="0.35"/>
<circle cx="62.78" cy="101.02" r="1.46" fill="#28ff28" opacity="0.19"/>
<circle cx="111.15" cy="50.42" r="0.97" fill="#28ff28" opacity="0.34"/>
<circle cx="54.04" cy="90.96" r="1.57" fill="#28ff28" opacity="0.25"/>
<circle cx="75.75" cy="83.28" r="0.98" fill="#28ff28" opacity="0.28"/>
<circle cx="86.49" cy="129.78" r="1.94" fill="#28ff28" opacity="0.29"/>
<circle cx="111.84" cy="55.94" r="0.98" fill="#28ff28" opacity="0.29"/>
</g></g>
<g id="b2c"><g filter="url(#b0)"><ellipse cx="91.4" cy="78.4" rx="18.9" ry="18.2" transform="rotate(-30 91.4 78.4)" fill="url(#nu2)"/><ellipse cx="-1" cy="214" rx="6" ry="13" fill="#1010f0"/><ellipse cx="219" cy="0" rx="4.6" ry="8.5" fill="#1010f0"/></g>
<circle cx="115" cy="75" r="30" fill="#1010c0" opacity="0.07" filter="url(#b6)"/></g>
<g id="sbar"><rect x="194.7" y="209.9" width="16.3" height="1.3" fill="#6fe000"/><text x="196.6" y="207.6" font-family="Liberation Sans" font-size="4.6" fill="#7adf00">5 μm</text></g>
</defs>
<rect x="150.4" y="58.9" width="4.6" height="313.3" fill="#000"/>
<rect x="150.4" y="367.2" width="593.6" height="5" fill="#000"/>
<rect x="146.5" y="58.8" width="4.5" height="4.6" fill="#000"/>
<rect x="146.5" y="102.6" width="4.5" height="4.6" fill="#000"/>
<rect x="146.5" y="147" width="4.5" height="4.6" fill="#000"/>
<rect x="146.5" y="191.5" width="4.5" height="4.6" fill="#000"/>
<rect x="146.5" y="235.9" width="4.5" height="4.6" fill="#000"/>
<rect x="146.5" y="281.2" width="4.5" height="4.6" fill="#000"/>
<rect x="146.5" y="325.7" width="4.5" height="4.6" fill="#000"/>
<rect x="146.5" y="370" width="4.5" height="4.6" fill="#000"/>
<rect x="209.2" y="372" width="4.6" height="3.4" fill="#000"/>
<rect x="327.2" y="372" width="4.6" height="3.4" fill="#000"/>
<rect x="445.5" y="372" width="4.6" height="3.4" fill="#000"/>
<rect x="563.7" y="372" width="4.6" height="3.4" fill="#000"/>
<rect x="681.6" y="372" width="4.6" height="3.4" fill="#000"/>
<rect x="269.2" y="372" width="2.4" height="1.6" fill="#000"/>
<rect x="387.4" y="372" width="2.4" height="1.6" fill="#000"/>
<rect x="505.7" y="372" width="2.4" height="1.6" fill="#000"/>
<rect x="623.8" y="372" width="2.4" height="1.6" fill="#000"/>
<path d="M211.3 331.4 L212.19 327.89 L213.07 325.06 L213.96 328.34 L214.85 331.53 L215.73 328.93 L216.62 326.58 L217.51 324.09 L218.39 329.71 L219.28 331.55 L220.17 326.5 L221.05 325.57 L221.94 322.29 L222.83 322.78 L223.72 325.93 L224.6 327.36 L225.49 319.9 L226.38 325.59 L227.26 328.68 L228.15 330.59 L229.04 327.73 L229.92 326.74 L230.81 327.8 L231.7 327.34 L232.58 326.27 L233.47 324.78 L234.36 323.21 L235.24 325.18 L236.13 331.24 L237.02 326.09 L237.9 330.37 L238.79 328.13 L239.68 331.02 L240.56 327.73 L241.45 328.85 L242.34 326.37 L243.22 317.01 L244.11 323.43 L245 322.83 L245.89 328.6 L246.77 327.4 L247.66 324.76 L248.55 326.3 L249.43 325.71 L250.32 326.5 L251.21 330.05 L252.09 327 L252.98 330.13 L253.87 323.86 L254.75 328.8 L255.64 327.21 L256.53 328.87 L257.41 326.96 L258.3 330.94 L259.19 327.81 L260.07 330.08 L260.96 327.03 L261.85 328.01 L262.73 329.76 L263.62 332.96 L264.51 329.74 L265.39 329.72 L266.28 326.57 L267.17 331.35 L268.06 330.31 L268.94 330.25 L269.83 330.97 L270.72 331.51 L271.6 331.86 L272.49 334.25 L273.38 336.24 L274.26 335.23 L275.15 332.31 L276.04 329 L276.92 329.43 L277.81 329.27 L278.7 329.93 L279.58 330.29 L280.47 331.77 L281.36 330.52 L282.24 327.31 L283.13 332.11 L284.02 334.51 L284.9 327.81 L285.79 330.5 L286.68 329.24 L287.56 329.07 L288.45 334.54 L289.34 326.21 L290.23 325.48 L291.11 329.64 L292 329.24 L292.89 330.79 L293.77 334 L294.66 332.77 L295.55 330.99 L296.43 328.34 L297.32 328.61 L298.21 330.44 L299.09 327.34 L299.98 332.22 L300.87 329.4 L301.75 327.66 L302.64 331.04 L303.53 336.21 L304.41 335.31 L305.3 331.87 L306.19 330.03 L307.07 326.64 L307.96 332.71 L308.85 331.74 L309.73 329.65 L310.62 331.26 L311.51 337.89 L312.4 331.06 L313.28 324.83 L314.17 326.59 L315.06 332.45 L315.94 332.81 L316.83 331.16 L317.72 324.37 L318.6 327.53 L319.49 329.87 L320.38 326.57 L321.26 330.13 L322.15 325.8 L323.04 331.57 L323.92 332.72 L324.81 329.75 L325.7 326.9 L326.58 328.19 L327.47 329.55 L328.36 335.85 L329.24 334.66 L330.13 334.05 L331.02 333.67 L331.9 330.48 L332.79 332.1 L333.68 329.49 L334.57 330.69 L335.45 332.23 L336.34 331.46 L337.23 330.39 L338.11 328.9 L339 332.19 L339.89 332.51 L340.77 335.77 L341.66 328.54 L342.55 326.82 L343.43 330.85 L344.32 332.91 L345.21 335.66 L346.09 332.6 L346.98 331.61 L347.87 325.85 L348.75 329.52 L349.64 333.48 L350.53 339.32 L351.41 330.4 L352.3 331.13 L353.19 336.37 L354.07 333 L354.96 336.97 L355.85 324.07 L356.74 326.77 L357.62 329.12 L358.51 331.92 L359.4 338.24 L360.28 334.57 L361.17 337.46 L362.06 332.38 L362.94 338.47 L363.83 336.9 L364.72 330.55 L365.6 327.49 L366.49 334.44 L367.38 337.52 L368.26 331.78 L369.15 330.15 L370.04 334.79 L370.92 335.39 L371.81 335.6 L372.7 337.05 L373.58 336.1 L374.47 330.48 L375.36 330.38 L376.24 326.57 L377.13 331.4 L378.02 333.01 L378.91 335.87 L379.79 334.37 L380.68 337.24 L381.57 339.41 L382.45 333.22 L383.34 329.33 L384.23 329.85 L385.11 328.66 L386 331.32 L386.89 334.84 L387.77 333.68 L388.66 334.64 L389.55 337.07 L390.43 339.49 L391.32 339.71 L392.21 335.76 L393.09 334.22 L393.98 335.57 L394.87 330.77 L395.75 332.87 L396.64 332.46 L397.53 330.65 L398.41 335.84 L399.3 340.67 L400.19 334.64 L401.08 336.91 L401.96 332.12 L402.85 333.46 L403.74 332.08 L404.62 332.42 L405.51 340.5 L406.4 335.22 L407.28 338.03 L408.17 339.49 L409.06 339.43 L409.94 336.46 L410.83 335.63 L411.72 335.42 L412.6 343.16 L413.49 342.9 L414.38 348.16 L415.26 343.82 L416.15 341.02 L417.04 344.4 L417.92 343.04 L418.81 343.1 L419.7 341.39 L420.58 346.39 L421.47 348.34 L422.36 349.17 L423.25 342.54 L424.13 341.93 L425.02 344.86 L425.91 344.5 L426.79 344.45 L427.68 343.92 L428.57 344.65 L429.45 344.95 L430.34 347.34 L431.23 346.09 L432.11 339.1 L433 339.83 L433.89 341.22 L434.77 342.23 L435.66 341.59 L436.55 340.41 L437.43 342.66 L438.32 340.81 L439.21 339.96 L440.09 342.27 L440.98 342.9 L441.87 343.5 L442.75 343.68 L443.64 338.13 L444.53 345.31 L445.42 341.48 L446.3 341.11 L447.19 340.84 L448.08 338.64 L448.96 335.05 L449.85 336.8 L450.74 337.84 L451.62 339.37 L452.51 338.39 L453.4 335.12 L454.28 337.67 L455.17 340.43 L456.06 341.5 L456.94 341.29 L457.83 341.92 L458.72 335.11 L459.6 335.05 L460.49 336.58 L461.38 332.24 L462.26 336.72 L463.15 334.06 L464.04 333.04 L464.92 339.15 L465.81 340.93 L466.7 339.62 L467.59 334.05 L468.47 331.2 L469.36 337.26 L470.25 332.67 L471.13 335.18 L472.02 335.87 L472.91 336.51 L473.79 336.04 L474.68 340.01 L475.57 338.9 L476.45 339.19 L477.34 334.45 L478.23 328.57 L479.11 324.98 L480 332.39 L480.89 338.43 L481.77 336.56 L482.66 337.44 L483.55 329.57 L484.43 331.09 L485.32 335.12 L486.21 331.68 L487.09 331.73 L487.98 337.71 L488.87 336.43 L489.76 335.21 L490.64 334.09 L491.53 333.41 L492.42 334.49 L493.3 333.31 L494.19 335.08 L495.08 336.44 L495.96 330.12 L496.85 331.4 L497.74 331.53 L498.62 337.18 L499.51 334.88 L500.4 331.43 L501.28 336.22 L502.17 330.99 L503.06 333.52 L503.94 332.05 L504.83 333.06 L505.72 332.36 L506.6 329.38 L507.49 332.92 L508.38 328.48 L509.26 333.63 L510.15 335.56 L511.04 331.55 L511.93 335.25 L512.81 334.39 L513.7 330.56 L514.59 328.54 L515.47 336.18 L516.36 332.12 L517.25 327.04 L518.13 327.4 L519.02 331.46 L519.91 333.64 L520.79 333.44 L521.68 335.73 L522.57 333.94 L523.45 333.16 L524.34 332.79 L525.23 328.97 L526.11 331.73 L527 335.94 L527.89 330.22 L528.77 334.38 L529.66 333.87 L530.55 332.83 L531.43 333.08 L532.32 334.96 L533.21 333.41 L534.1 326.17 L534.98 331.72 L535.87 332.06 L536.76 328.65 L537.64 328.65 L538.53 328.58 L539.42 328.27 L540.3 336.01 L541.19 335.24 L542.08 332.24 L542.96 330.29 L543.85 327.48 L544.74 328.9 L545.62 331.27 L546.51 331.19 L547.4 331.84 L548.28 330.74 L549.17 329.21 L550.06 331.54 L550.94 333.53 L551.83 334.23 L552.72 329 L553.6 326.9 L554.49 327.05 L555.38 327.45 L556.27 327.61 L557.15 329.96 L558.04 328.79 L558.93 333.18 L559.81 332.12 L560.7 333.26 L561.59 329.52 L562.47 332.01 L563.36 331.43 L564.25 329.82 L565.13 326.67 L566.02 331.66 L566.91 333.54 L567.79 329.21 L568.68 333.23 L569.57 330.09 L570.45 331.96 L571.34 331.22 L572.23 335.73 L573.11 330.03 L574 331.67 L574.89 333.25 L575.77 325.44 L576.66 326.87 L577.55 319.51 L578.44 325.89 L579.32 329.88 L580.21 329.79 L581.1 325.58 L581.98 328.83 L582.87 328.46 L583.76 328.15 L584.64 331.99 L585.53 330.24 L586.42 331.45 L587.3 333.85 L588.19 328.67 L589.08 327.67 L589.96 328.99 L590.85 332.09 L591.74 336.05 L592.62 330.3 L593.51 330.22 L594.4 334.61 L595.28 331.43 L596.17 334.54 L597.06 331.34 L597.94 329.92 L598.83 328.91 L599.72 329.01 L600.61 329.17 L601.49 332.87 L602.38 331.89 L603.27 331.96 L604.15 331.23 L605.04 329.62 L605.93 328.18 L606.81 324.94 L607.7 335.64 L608.59 330.62 L609.47 330.79 L610.36 323.99 L611.25 325.68 L612.13 333.38 L613.02 330 L613.91 331.55 L614.79 327.83 L615.68 332.41 L616.57 331.14 L617.45 330.86 L618.34 330.69 L619.23 332 L620.11 335.88 L621 330.68 L621.89 327.64 L622.78 329.7 L623.66 332.96 L624.55 330.56 L625.44 328.85 L626.32 330.4 L627.21 330.43 L628.1 326.5 L628.98 332.35 L629.87 332.56 L630.76 336.37 L631.64 334.18 L632.53 333.64 L633.42 334.1 L634.3 333.51 L635.19 326.44 L636.08 329.85 L636.96 330.66 L637.85 324.5 L638.74 328.93 L639.62 334.91 L640.51 330.79 L641.4 333.28 L642.28 326.89 L643.17 332.99 L644.06 332.98 L644.95 335.84 L645.83 331.98 L646.72 333.92 L647.61 331.88 L648.49 332.14 L649.38 332.88 L650.27 328.8 L651.15 327.61 L652.04 329.68 L652.93 332.99 L653.81 334.46 L654.7 331.2 L655.59 324.34 L656.47 330.2 L657.36 332.88 L658.25 333.45 L659.13 334.73 L660.02 334.79 L660.91 332.69 L661.79 327.52 L662.68 329.96 L663.57 332.12 L664.45 335.84 L665.34 331.9 L666.23 331.39 L667.12 334.58 L668 335.16 L668.89 332.45" fill="none" stroke="#464646" stroke-width="2" stroke-linejoin="round"/>
<path d="M211.3 327.88 L212.13 325.16 L212.96 325.51 L213.78 326.1 L214.61 323.1 L215.44 324.23 L216.27 325.36 L217.09 321.11 L217.92 324.98 L218.75 327.87 L219.58 329.02 L220.4 327.51 L221.23 324.47 L222.06 323.15 L222.89 322.16 L223.72 320.3 L224.54 320.07 L225.37 322.37 L226.2 321.56 L227.03 322.84 L227.85 325.96 L228.68 323.82 L229.51 324.91 L230.34 325.86 L231.16 321.18 L231.99 321.63 L232.82 323.95 L233.65 318.02 L234.48 302.83 L235.3 297.22 L236.13 289.18 L236.96 283.16 L237.79 277.39 L238.61 271.29 L239.44 270.72 L240.27 270.15 L241.1 268.43 L241.92 267.48 L242.75 263.71 L243.58 260.49 L244.41 265.53 L245.23 264.01 L246.06 267.19 L246.89 267.7 L247.72 267.04 L248.55 266.26 L249.37 267.46 L250.2 272.91 L251.03 265.8 L251.86 267.65 L252.68 269.26 L253.51 267.02 L254.34 269.47 L255.17 272.32 L255.99 269.09 L256.82 268.53 L257.65 271.4 L258.48 267.67 L259.31 266.9 L260.13 269.41 L260.96 263.02 L261.79 263.79 L262.62 266.53 L263.44 263.14 L264.27 262.2 L265.1 259.37 L265.93 263.1 L266.75 258.2 L267.58 256.54 L268.41 256.12 L269.24 255.69 L270.07 253.5 L270.89 253.7 L271.72 254.61 L272.55 256.57 L273.38 252.29 L274.2 250.81 L275.03 251.42 L275.86 251.45 L276.69 249.69 L277.51 255.97 L278.34 251 L279.17 255.36 L280 250.02 L280.83 246.55 L281.65 243.46 L282.48 247.69 L283.31 246.77 L284.14 247.46 L284.96 252.35 L285.79 247 L286.62 246.91 L287.45 246.53 L288.27 248.52 L289.1 246.93 L289.93 246.01 L290.76 242.87 L291.58 243.98 L292.41 236.96 L293.24 243.46 L294.07 244.92 L294.9 244.72 L295.72 246.22 L296.55 241.38 L297.38 241.79 L298.21 246.15 L299.03 244.26 L299.86 241.26 L300.69 246.06 L301.52 243.88 L302.34 244.01 L303.17 238.17 L304 240.66 L304.83 243.17 L305.66 244.18 L306.48 238.88 L307.31 242.5 L308.14 237.31 L308.97 244.33 L309.79 243.26 L310.62 242.96 L311.45 243.83 L312.28 242.89 L313.1 240.49 L313.93 242.74 L314.76 245.05 L315.59 239.41 L316.42 237.35 L317.24 241.5 L318.07 240.48 L318.9 246.67 L319.73 240.39 L320.55 243.85 L321.38 243.14 L322.21 236.81 L323.04 242.62 L323.86 241.47 L324.69 243.58 L325.52 245.97 L326.35 245.15 L327.18 241.67 L328 244.18 L328.83 243.31 L329.66 240.09 L330.49 241.12 L331.31 244.02 L332.14 238.57 L332.97 240.04 L333.8 237.58 L334.62 242.37 L335.45 237.65 L336.28 243.06 L337.11 245.58 L337.94 243.37 L338.76 242.58 L339.59 240.92 L340.42 242.27 L341.25 239.99 L342.07 237.73 L342.9 241.52 L343.73 244.29 L344.56 242.93 L345.38 239.77 L346.21 238.83 L347.04 241.17 L347.87 243.31 L348.69 241.77 L349.52 239.1 L350.35 242.07 L351.18 238.44 L352.01 239.82 L352.83 240.13 L353.66 242.32 L354.49 238.55 L355.32 240.42 L356.14 244.47 L356.97 240.53 L357.8 242.17 L358.63 239.33 L359.45 240.57 L360.28 242.76 L361.11 241.67 L361.94 242.87 L362.77 244.02 L363.59 242.5 L364.42 240.25 L365.25 241.33 L366.08 242.05 L366.9 243.36 L367.73 241.25 L368.56 241.33 L369.39 239.86 L370.21 240.78 L371.04 237.13 L371.87 244.4 L372.7 243.2 L373.53 241.56 L374.35 240.29 L375.18 245.42 L376.01 246.29 L376.84 243.94 L377.66 240.81 L378.49 239.81 L379.32 245.43 L380.15 243.45 L380.97 240.55 L381.8 242.3 L382.63 245.24 L383.46 245.45 L384.29 246.94 L385.11 241.66 L385.94 243.3 L386.77 244.14 L387.6 245.36 L388.42 244.04 L389.25 245.34 L390.08 245.85 L390.91 243.86 L391.73 243.66 L392.56 242.02 L393.39 242.19 L394.22 239.88 L395.04 241.91 L395.87 241.8 L396.7 241.81 L397.53 244.1 L398.36 240.27 L399.18 243.02 L400.01 246.1 L400.84 240.64 L401.67 240.3 L402.49 242.9 L403.32 240.24 L404.15 245.97 L404.98 252.86 L405.8 263.72 L406.63 268.52 L407.46 274.28 L408.29 277.3 L409.12 280.41 L409.94 284.31 L410.77 284.79 L411.6 289.07 L412.43 287.96 L413.25 289.65 L414.08 292.92 L414.91 293.17 L415.74 292.54 L416.56 289.88 L417.39 291.39 L418.22 286.54 L419.05 286.86 L419.88 284.62 L420.7 288.94 L421.53 288.76 L422.36 282.78 L423.19 283.37 L424.01 282.39 L424.84 280.66 L425.67 286.23 L426.5 283.81 L427.32 279.9 L428.15 281.44 L428.98 283.65 L429.81 283.41 L430.64 284.74 L431.46 283.58 L432.29 282.21 L433.12 285.38 L433.95 284.69 L434.77 285.25 L435.6 284.67 L436.43 285.44 L437.26 290.81 L438.08 288.28 L438.91 289.07 L439.74 294.56 L440.57 295.27 L441.4 298.98 L442.22 298.34 L443.05 297.64 L443.88 301.63 L444.71 302.49 L445.53 303.01 L446.36 302.96 L447.19 303.33 L448.02 304.31 L448.84 301.14 L449.67 302.15 L450.5 304.02 L451.33 300.74 L452.15 303.43 L452.98 301.18 L453.81 305.48 L454.64 301.06 L455.47 304.09 L456.29 306.32 L457.12 304.16 L457.95 307.63 L458.78 308.3 L459.6 305.76 L460.43 306.76 L461.26 305.2 L462.09 305.44 L462.91 305.39 L463.74 305.77 L464.57 304.72 L465.4 306.12 L466.23 304.2 L467.05 304.11 L467.88 310.72 L468.71 312.36 L469.54 305.58 L470.36 308.14 L471.19 307.64 L472.02 308.28 L472.85 307.76 L473.67 303.43 L474.5 308.78 L475.33 308.81 L476.16 309.09 L476.99 311.75 L477.81 312.22 L478.64 311.16 L479.47 310.42 L480.3 309.44 L481.12 314.53 L481.95 315.32 L482.78 308.52 L483.61 310.71 L484.43 309.27 L485.26 311.76 L486.09 313.29 L486.92 307.59 L487.75 313.5 L488.57 314.69 L489.4 311.65 L490.23 312.35 L491.06 316.41 L491.88 313.8 L492.71 311.84 L493.54 316.43 L494.37 315.79 L495.19 312.74 L496.02 309.46 L496.85 318.16 L497.68 317.36 L498.5 315.75 L499.33 317.59 L500.16 318.36 L500.99 317.91 L501.82 315.74 L502.64 318.85 L503.47 315.69 L504.3 315.05 L505.13 315.05 L505.95 313.75 L506.78 318.17 L507.61 318.68 L508.44 316.45 L509.26 314.88 L510.09 314.93 L510.92 317.84 L511.75 318.59 L512.58 320.46 L513.4 318.85 L514.23 319.18 L515.06 318.17 L515.89 317.42 L516.71 314.29 L517.54 313.09 L518.37 314.55 L519.2 317.21 L520.02 315.38 L520.85 313.54 L521.68 311.84 L522.51 312.57 L523.34 311.25 L524.16 313.91 L524.99 311.59 L525.82 310.81 L526.65 313.03 L527.47 314.61 L528.3 310.67 L529.13 314.47 L529.96 311.88 L530.78 313.25 L531.61 313.85 L532.44 313.84 L533.27 314.27 L534.1 313.52 L534.92 309.27 L535.75 308.74 L536.58 312.13 L537.41 311.82 L538.23 310.77 L539.06 313.44 L539.89 309.22 L540.72 311.99 L541.54 311.53 L542.37 314.92 L543.2 316.32 L544.03 316.49 L544.86 315.77 L545.68 311.84 L546.51 313.68 L547.34 311.58 L548.17 313.87 L548.99 315.76 L549.82 313.85 L550.65 314.55 L551.48 317.59 L552.3 314.72 L553.13 311.35 L553.96 313.45 L554.79 316.31 L555.61 316.2 L556.44 317.19 L557.27 315.35 L558.1 316.39 L558.93 314.86 L559.75 313.78 L560.58 310.91 L561.41 315.59 L562.24 319 L563.06 311.87 L563.89 312.4 L564.72 314.34 L565.55 313.01 L566.37 315.82 L567.2 315.37 L568.03 312.99 L568.86 314.51 L569.69 314 L570.51 313.2 L571.34 313.7 L572.17 314.68 L573 313.33 L573.82 311.15 L574.65 310.64 L575.48 315.3 L576.31 313.08 L577.13 318.37 L577.96 318.9 L578.79 315.05 L579.62 313.62 L580.45 311.38 L581.27 317.6 L582.1 313.27 L582.93 315.61 L583.76 316.17 L584.58 314.34 L585.41 311.69 L586.24 316.13 L587.07 319.21 L587.89 317.69 L588.72 316.2 L589.55 312.86 L590.38 313.73 L591.21 315.5 L592.03 316.52 L592.86 316.76 L593.69 313.69 L594.52 318.63 L595.34 318 L596.17 318.24 L597 313.9 L597.83 314.85 L598.65 316.94 L599.48 314.43 L600.31 311.04 L601.14 312.12 L601.96 317.64 L602.79 316.89 L603.62 313.71 L604.45 319.33 L605.28 319.74 L606.1 318.1 L606.93 315.56 L607.76 317.81 L608.59 316.36 L609.41 316.64 L610.24 315.69 L611.07 318.81 L611.9 322.04 L612.72 322.88 L613.55 318.03 L614.38 314.8 L615.21 314.96 L616.04 319.67 L616.86 321.38 L617.69 318.67 L618.52 319.25 L619.35 321.47 L620.17 319.35 L621 319.19 L621.83 317.64 L622.66 316.07 L623.48 316.03 L624.31 316.03 L625.14 315.27 L625.97 316.44 L626.8 317.56 L627.62 317.66 L628.45 314.3 L629.28 316.54 L630.11 314.8 L630.93 312.39 L631.76 311.48 L632.59 319.84 L633.42 317.25 L634.24 314.63 L635.07 317.02 L635.9 318.31 L636.73 320.3 L637.56 319.22 L638.38 317.4 L639.21 321.03 L640.04 317.97 L640.87 318.89 L641.69 317.26 L642.52 319.22 L643.35 317.22 L644.18 316.44 L645 318.11 L645.83 318.56 L646.66 315.1 L647.49 314.77 L648.32 317.8 L649.14 316.01 L649.97 319 L650.8 318.49 L651.63 323.67 L652.45 319.99 L653.28 316.13 L654.11 317.57 L654.94 315.6 L655.76 317.75 L656.59 316.29 L657.42 316.86 L658.25 318.87 L659.07 312.65 L659.9 317.31 L660.73 319.82 L661.56 317.3 L662.39 315.78 L663.21 315.61 L664.04 316.56 L664.87 315.58 L665.7 314.25 L666.52 314.54 L667.35 319.07 L668.18 313.54" fill="none" stroke="#55ff2a" stroke-width="1.8" stroke-linejoin="round"/>
<path d="M211.3 327.04 L212.25 324.32 L213.19 327.08 L214.14 330.25 L215.08 328.2 L216.03 326.52 L216.98 326.13 L217.92 325.71 L218.87 326.63 L219.81 327.96 L220.76 328.92 L221.71 328.47 L222.65 328.55 L223.6 326.27 L224.54 325.71 L225.49 328.8 L226.43 326.87 L227.38 327.23 L228.33 325.39 L229.27 323.8 L230.22 324.72 L231.16 329.2 L232.11 324.32 L233.06 319.09 L234 301.48 L234.95 289.92 L235.89 276.56 L236.84 259.54 L237.79 250.72 L238.73 236.35 L239.68 233.18 L240.62 230.28 L241.57 228 L242.52 222.86 L243.46 220.72 L244.41 217.15 L245.35 218.04 L246.3 223.65 L247.24 221.8 L248.19 224.76 L249.14 229.71 L250.08 231.26 L251.03 229.05 L251.97 228.06 L252.92 230.94 L253.87 231.29 L254.81 231.56 L255.76 230.6 L256.7 232.57 L257.65 231.88 L258.6 232.59 L259.54 231.27 L260.49 226.93 L261.43 223.48 L262.38 221.96 L263.33 218.85 L264.27 216.83 L265.22 213.99 L266.16 210.93 L267.11 209.61 L268.06 207.44 L269 207.6 L269.95 207.01 L270.89 209.01 L271.84 204.05 L272.78 201.3 L273.73 198.17 L274.68 200.21 L275.62 197.9 L276.57 196.05 L277.51 196.56 L278.46 191.09 L279.41 186.95 L280.35 188.58 L281.3 185.46 L282.24 180.76 L283.19 183.92 L284.14 181.2 L285.08 178.44 L286.03 176.23 L286.97 180.67 L287.92 182.03 L288.87 180.09 L289.81 176.99 L290.76 179.6 L291.7 179.66 L292.65 180.04 L293.6 175.89 L294.54 176.51 L295.49 174.46 L296.43 173.2 L297.38 171.45 L298.32 171.72 L299.27 171.81 L300.22 170.16 L301.16 170.38 L302.11 173.45 L303.05 173.47 L304 170.66 L304.95 170.46 L305.89 171.05 L306.84 170.06 L307.78 163.78 L308.73 166.57 L309.68 167.11 L310.62 167.44 L311.57 168.9 L312.51 166.96 L313.46 166.58 L314.41 167.21 L315.35 170.69 L316.3 167.66 L317.24 167.03 L318.19 168.24 L319.13 173.59 L320.08 171.44 L321.03 172.46 L321.97 171.16 L322.92 171 L323.86 171.49 L324.81 168.36 L325.76 168.41 L326.7 166.38 L327.65 169.36 L328.59 169.42 L329.54 166.6 L330.49 167.06 L331.43 169.2 L332.38 170.55 L333.32 170.66 L334.27 169.78 L335.22 167.91 L336.16 167.95 L337.11 166.84 L338.05 166.11 L339 167.05 L339.95 165.36 L340.89 165.09 L341.84 166.39 L342.78 166.76 L343.73 166.44 L344.67 167.36 L345.62 168.68 L346.57 166.58 L347.51 166.3 L348.46 163.91 L349.4 164.64 L350.35 163.5 L351.3 162.5 L352.24 162.99 L353.19 161.78 L354.13 163.56 L355.08 164.14 L356.03 162.43 L356.97 162.55 L357.92 163.57 L358.86 165.74 L359.81 164.35 L360.76 161.52 L361.7 167.95 L362.65 165.51 L363.59 166.05 L364.54 164.94 L365.48 164.5 L366.43 168.49 L367.38 164.99 L368.32 167.14 L369.27 167.35 L370.21 165.63 L371.16 165.82 L372.11 165.04 L373.05 165.84 L374 166.96 L374.94 165.36 L375.89 166.34 L376.84 162.16 L377.78 161.83 L378.73 159.32 L379.67 162.66 L380.62 165.61 L381.57 167.22 L382.51 164.32 L383.46 164.29 L384.4 161.03 L385.35 163.16 L386.3 164.19 L387.24 161.77 L388.19 161.9 L389.13 160.1 L390.08 159.07 L391.02 159.48 L391.97 162.66 L392.92 163.71 L393.86 158.62 L394.81 160.73 L395.75 160.94 L396.7 161.45 L397.65 162.08 L398.59 162.76 L399.54 163.92 L400.48 166.11 L401.43 171.79 L402.38 169.3 L403.32 172.67 L404.27 188.3 L405.21 199.35 L406.16 211.17 L407.11 227.49 L408.05 237.97 L409 237.14 L409.94 239.89 L410.89 242.92 L411.84 244.84 L412.78 248.08 L413.73 250.1 L414.67 248.13 L415.62 250.86 L416.56 252.49 L417.51 249.85 L418.46 248.42 L419.4 248.98 L420.35 242.53 L421.29 241.85 L422.24 237.09 L423.19 236.01 L424.13 240.3 L425.08 239.05 L426.02 242.4 L426.97 246.16 L427.92 246.59 L428.86 248.8 L429.81 244.56 L430.75 243.8 L431.7 244.37 L432.65 247.89 L433.59 248.12 L434.54 250.12 L435.48 251.13 L436.43 251.88 L437.37 256.1 L438.32 259.07 L439.27 260.62 L440.21 264.11 L441.16 266.05 L442.1 265.34 L443.05 268.6 L444 272.88 L444.94 272.82 L445.89 272.79 L446.83 271.89 L447.78 276.53 L448.73 280.36 L449.67 281.5 L450.62 283.65 L451.56 284.82 L452.51 287.51 L453.46 288.39 L454.4 291.09 L455.35 290.43 L456.29 290.56 L457.24 289.85 L458.19 291.22 L459.13 293.6 L460.08 292.12 L461.02 292.53 L461.97 291.12 L462.91 291.13 L463.86 293.43 L464.81 295.08 L465.75 298.1 L466.7 298.36 L467.64 298.27 L468.59 299.32 L469.54 301.22 L470.48 298.04 L471.43 300.62 L472.37 297.38 L473.32 296.78 L474.27 295.99 L475.21 300.08 L476.16 299.62 L477.1 303.2 L478.05 303.29 L479 305.61 L479.94 305.49 L480.89 305.17 L481.83 302.51 L482.78 300.86 L483.72 302.68 L484.67 303.46 L485.62 305.06 L486.56 306.25 L487.51 308.03 L488.45 306.11 L489.4 303.71 L490.35 305 L491.29 303.62 L492.24 305.69 L493.18 306.49 L494.13 306.06 L495.08 303.31 L496.02 304.51 L496.97 302.8 L497.91 303.99 L498.86 305.97 L499.81 308.61 L500.75 307.18 L501.7 307.37 L502.64 304.13 L503.59 303.37 L504.54 306.76 L505.48 304.01 L506.43 303.22 L507.37 309.04 L508.32 308.61 L509.26 306.06 L510.21 308.09 L511.16 307.55 L512.1 305.04 L513.05 304.27 L513.99 303.52 L514.94 302.86 L515.89 305.21 L516.83 300.51 L517.78 301.52 L518.72 299.11 L519.67 302.23 L520.62 302.31 L521.56 302.74 L522.51 303.84 L523.45 303.56 L524.4 303.52 L525.35 302.5 L526.29 302.88 L527.24 303.54 L528.18 303.1 L529.13 301.16 L530.08 302.65 L531.02 302.44 L531.97 303.17 L532.91 307.31 L533.86 307.47 L534.8 307.58 L535.75 308.49 L536.7 307.56 L537.64 309.14 L538.59 306.3 L539.53 306.31 L540.48 303.17 L541.43 303.11 L542.37 306.04 L543.32 305.62 L544.26 304.94 L545.21 305.94 L546.16 305.89 L547.1 307.18 L548.05 307.22 L548.99 305.46 L549.94 305.69 L550.89 303.08 L551.83 307.73 L552.78 307.72 L553.72 306.98 L554.67 303.33 L555.61 302.18 L556.56 302.27 L557.51 301.94 L558.45 300.7 L559.4 301.74 L560.34 303.9 L561.29 304.27 L562.24 306.08 L563.18 306.13 L564.13 305.11 L565.07 306.18 L566.02 305.66 L566.97 306.38 L567.91 308.33 L568.86 309.55 L569.8 306.39 L570.75 306.01 L571.7 304.42 L572.64 305.31 L573.59 305.61 L574.53 305.29 L575.48 306.23 L576.43 303.67 L577.37 303.08 L578.32 303.89 L579.26 306.88 L580.21 307.49 L581.15 306.5 L582.1 304.34 L583.05 305.41 L583.99 305.95 L584.94 305.27 L585.88 305.67 L586.83 306.38 L587.78 308.48 L588.72 305.38 L589.67 306.12 L590.61 307.34 L591.56 307.24 L592.51 309.38 L593.45 311.09 L594.4 312.14 L595.34 308.86 L596.29 310.24 L597.24 308.4 L598.18 309.8 L599.13 311.56 L600.07 310.4 L601.02 310.05 L601.96 309.8 L602.91 305.4 L603.86 305.93 L604.8 307.61 L605.75 305.87 L606.69 307.13 L607.64 305.05 L608.59 308.95 L609.53 306.22 L610.48 308.71 L611.42 309.35 L612.37 308.03 L613.32 309.64 L614.26 311.47 L615.21 310.19 L616.15 309.4 L617.1 311.4 L618.05 307.76 L618.99 309.15 L619.94 309.51 L620.88 309.01 L621.83 308.27 L622.78 306.13 L623.72 310.77 L624.67 309.27 L625.61 306.98 L626.56 306.99 L627.5 307.57 L628.45 309.72 L629.4 308.23 L630.34 308.96 L631.29 308.24 L632.23 310.01 L633.18 309.59 L634.13 309.09 L635.07 311.23 L636.02 307.85 L636.96 308.22 L637.91 310.49 L638.86 309.8 L639.8 308.79 L640.75 309.14 L641.69 310.57 L642.64 309.86 L643.59 311.54 L644.53 312.94 L645.48 308.62 L646.42 305.54 L647.37 303.73 L648.32 302.14 L649.26 302.97 L650.21 307.47 L651.15 309.09 L652.1 306.95 L653.04 308.7 L653.99 309.37 L654.94 309.14 L655.88 308.26 L656.83 311.01 L657.77 309.93 L658.72 308.59 L659.67 312.45 L660.61 308.76 L661.56 307.56 L662.5 309.8 L663.45 306.23 L664.4 306.98 L665.34 307.26 L666.29 305.53 L667.23 312 L668.18 310.66" fill="none" stroke="#0000ff" stroke-width="2" stroke-linejoin="round"/>
<path d="M211.3 325.83 L212.25 325.2 L213.19 329.03 L214.14 331.96 L215.08 330.16 L216.03 327.73 L216.98 328.12 L217.92 330.65 L218.87 330.21 L219.81 326.56 L220.76 329.73 L221.71 327 L222.65 326.57 L223.6 326.43 L224.54 325.85 L225.49 327.9 L226.43 328.16 L227.38 324.88 L228.33 327.12 L229.27 328.31 L230.22 330.64 L231.16 329.89 L232.11 323.23 L233.06 307.15 L234 283.48 L234.95 259.82 L235.89 236.23 L236.84 213.03 L237.79 188.39 L238.73 186.49 L239.68 181.66 L240.62 179.52 L241.57 179.43 L242.52 177.08 L243.46 176.93 L244.41 178.6 L245.35 181.7 L246.3 183.4 L247.24 183.6 L248.19 184.38 L249.14 185 L250.08 189.36 L251.03 190.37 L251.97 190.75 L252.92 190.61 L253.87 186.96 L254.81 188.41 L255.76 187.63 L256.7 186.25 L257.65 185.91 L258.6 184.44 L259.54 182.54 L260.49 180.64 L261.43 178.71 L262.38 176.23 L263.33 172.92 L264.27 172.4 L265.22 167.9 L266.16 166.61 L267.11 163.18 L268.06 161.63 L269 157.48 L269.95 154.93 L270.89 152.15 L271.84 150.3 L272.78 146.57 L273.73 141.04 L274.68 143.29 L275.62 139.31 L276.57 136.76 L277.51 135.49 L278.46 135.35 L279.41 129.25 L280.35 127.56 L281.3 124.25 L282.24 123.92 L283.19 124.47 L284.14 121.02 L285.08 119.38 L286.03 119.86 L286.97 119.43 L287.92 117.25 L288.87 118.12 L289.81 118.1 L290.76 116.2 L291.7 112.91 L292.65 111.01 L293.6 110.72 L294.54 108.04 L295.49 108.79 L296.43 109.77 L297.38 105.11 L298.32 107.47 L299.27 106.52 L300.22 105.88 L301.16 106.08 L302.11 105.76 L303.05 104.55 L304 103.96 L304.95 105.39 L305.89 104.86 L306.84 101.96 L307.78 101.41 L308.73 102.91 L309.68 102.57 L310.62 103.98 L311.57 104.97 L312.51 103.91 L313.46 99.5 L314.41 101.29 L315.35 104.48 L316.3 102.81 L317.24 102.93 L318.19 100.48 L319.13 98.36 L320.08 99.97 L321.03 99.96 L321.97 101.66 L322.92 98.84 L323.86 100.74 L324.81 100.34 L325.76 96.04 L326.7 99.57 L327.65 99.39 L328.59 99.65 L329.54 98.84 L330.49 98.39 L331.43 96.37 L332.38 97.04 L333.32 97.14 L334.27 100.33 L335.22 99.05 L336.16 101.37 L337.11 98.09 L338.05 98.61 L339 97.05 L339.95 98.77 L340.89 98.39 L341.84 98.44 L342.78 97.65 L343.73 98.38 L344.67 99.57 L345.62 99.79 L346.57 100.36 L347.51 101.11 L348.46 101.98 L349.4 102.83 L350.35 97.46 L351.3 99.31 L352.24 100.86 L353.19 98 L354.13 97.78 L355.08 98.38 L356.03 96.48 L356.97 94.27 L357.92 97.84 L358.86 95.69 L359.81 96.07 L360.76 95.23 L361.7 97.73 L362.65 95.15 L363.59 94.74 L364.54 101.02 L365.48 97.47 L366.43 95.56 L367.38 99.31 L368.32 98.2 L369.27 98.53 L370.21 97.99 L371.16 99.58 L372.11 97.76 L373.05 96.69 L374 97.36 L374.94 97.45 L375.89 100.19 L376.84 97.48 L377.78 99.11 L378.73 97.52 L379.67 97.99 L380.62 92.17 L381.57 93.6 L382.51 91.5 L383.46 93.02 L384.4 93.62 L385.35 92.49 L386.3 93.12 L387.24 89.22 L388.19 91.49 L389.13 89.38 L390.08 93.07 L391.02 94.3 L391.97 92.09 L392.92 94.37 L393.86 89.59 L394.81 89.57 L395.75 90.2 L396.7 87.46 L397.65 89.94 L398.59 91.45 L399.54 95.29 L400.48 95.94 L401.43 94.52 L402.38 99.39 L403.32 98.41 L404.27 116.79 L405.21 137.27 L406.16 161.49 L407.11 182.65 L408.05 201.24 L409 205.85 L409.94 211.44 L410.89 220.25 L411.84 227.99 L412.78 232.38 L413.73 234.17 L414.67 239.31 L415.62 243.03 L416.56 237.72 L417.51 234.1 L418.46 230.88 L419.4 227.26 L420.35 221.33 L421.29 216.39 L422.24 213.67 L423.19 211.52 L424.13 212 L425.08 215.02 L426.02 216.75 L426.97 218.66 L427.92 219.92 L428.86 219.61 L429.81 219.8 L430.75 218.21 L431.7 217.25 L432.65 219.19 L433.59 223.72 L434.54 225 L435.48 227.58 L436.43 230.85 L437.37 229.81 L438.32 234.38 L439.27 234.61 L440.21 240.57 L441.16 241.41 L442.1 244.84 L443.05 244.95 L444 247.29 L444.94 251.83 L445.89 252.92 L446.83 253.54 L447.78 254.69 L448.73 256.1 L449.67 261.1 L450.62 260.29 L451.56 265.78 L452.51 268.83 L453.46 273.85 L454.4 274.87 L455.35 278.48 L456.29 278.49 L457.24 282.72 L458.19 279.43 L459.13 280.56 L460.08 280.55 L461.02 279.83 L461.97 280.96 L462.91 281.38 L463.86 283.29 L464.81 288.53 L465.75 290.55 L466.7 290.82 L467.64 289.25 L468.59 293.18 L469.54 293.02 L470.48 293.68 L471.43 291.54 L472.37 290.36 L473.32 292.87 L474.27 294.22 L475.21 290.24 L476.16 288.91 L477.1 290.24 L478.05 290.63 L479 292.81 L479.94 293.8 L480.89 296.44 L481.83 296.74 L482.78 295.53 L483.72 295.93 L484.67 296.51 L485.62 298.57 L486.56 298.17 L487.51 300.48 L488.45 301.45 L489.4 301.2 L490.35 303.3 L491.29 302.14 L492.24 304.98 L493.18 300.53 L494.13 299.75 L495.08 300.37 L496.02 302.49 L496.97 303.41 L497.91 303.57 L498.86 305.92 L499.81 304.97 L500.75 305.41 L501.7 302.57 L502.64 300.33 L503.59 299.06 L504.54 303.42 L505.48 305.69 L506.43 301.92 L507.37 301.22 L508.32 300.43 L509.26 300.75 L510.21 301.7 L511.16 298.87 L512.1 299.7 L513.05 300.49 L513.99 303.88 L514.94 303.56 L515.89 301.34 L516.83 301.64 L517.78 301.2 L518.72 302.97 L519.67 302.29 L520.62 304.24 L521.56 304.57 L522.51 302.55 L523.45 300.46 L524.4 303.02 L525.35 304.15 L526.29 304.77 L527.24 305.04 L528.18 304.82 L529.13 303.24 L530.08 303.42 L531.02 304.17 L531.97 303.77 L532.91 307.53 L533.86 306.58 L534.8 302.37 L535.75 305.61 L536.7 306.48 L537.64 305.45 L538.59 303.66 L539.53 305.03 L540.48 307.15 L541.43 303.65 L542.37 308.79 L543.32 308.86 L544.26 308.67 L545.21 311.43 L546.16 306.33 L547.1 302.77 L548.05 307.18 L548.99 307.49 L549.94 307.41 L550.89 305.73 L551.83 306.52 L552.78 305.6 L553.72 305.37 L554.67 306.38 L555.61 306.6 L556.56 304.36 L557.51 305.46 L558.45 305.22 L559.4 306.35 L560.34 305.65 L561.29 303.73 L562.24 305.54 L563.18 307.51 L564.13 309 L565.07 306.68 L566.02 308.74 L566.97 307.61 L567.91 303.44 L568.86 305.51 L569.8 303.79 L570.75 306.14 L571.7 307.53 L572.64 307.09 L573.59 309.51 L574.53 313.53 L575.48 311.36 L576.43 311.52 L577.37 309.99 L578.32 306.16 L579.26 306.67 L580.21 310.8 L581.15 309.44 L582.1 312.73 L583.05 315.13 L583.99 308.7 L584.94 310.99 L585.88 314.45 L586.83 312.44 L587.78 311.7 L588.72 310.2 L589.67 310.62 L590.61 310.94 L591.56 309.27 L592.51 310.28 L593.45 311.68 L594.4 310.35 L595.34 311.29 L596.29 308.76 L597.24 309.32 L598.18 309.94 L599.13 310.65 L600.07 309.1 L601.02 307.55 L601.96 309.06 L602.91 313.2 L603.86 309.86 L604.8 310.9 L605.75 308.9 L606.69 310.05 L607.64 308.75 L608.59 309.23 L609.53 310.41 L610.48 311.86 L611.42 310.36 L612.37 309.12 L613.32 311.66 L614.26 314.29 L615.21 310.73 L616.15 305.47 L617.1 308.14 L618.05 308.45 L618.99 310.03 L619.94 311.11 L620.88 306.64 L621.83 309.98 L622.78 308.21 L623.72 309.04 L624.67 307.03 L625.61 304.21 L626.56 305.29 L627.5 306.61 L628.45 304.7 L629.4 306.1 L630.34 309.5 L631.29 305.31 L632.23 306.46 L633.18 305.6 L634.13 301.44 L635.07 301.58 L636.02 302.66 L636.96 300.65 L637.91 304.15 L638.86 307.2 L639.8 307.65 L640.75 305.55 L641.69 304.16 L642.64 304.99 L643.59 300.19 L644.53 300.08 L645.48 301.05 L646.42 303.03 L647.37 302.76 L648.32 301.88 L649.26 302.52 L650.21 296.85 L651.15 296.04 L652.1 297.41 L653.04 299.15 L653.99 303.07 L654.94 300.02 L655.88 302.1 L656.83 300.18 L657.77 300.57 L658.72 304.11 L659.67 303.61 L660.61 303.99 L661.56 304.45 L662.5 304.63 L663.45 304.58 L664.4 305.32 L665.34 304.01 L666.29 304.06 L667.23 305.55 L668.18 306.48" fill="none" stroke="#ff0000" stroke-width="2" stroke-linejoin="round"/>
<text transform="translate(31.5,29.9) scale(0.20417,0.17391)" font-family="Liberation Sans" font-size="200" font-weight="bold" stroke="#000" stroke-width="3" fill="#000">A</text>
<text transform="translate(88.9,69.1) scale(0.14910,0.15857)" font-family="Liberation Sans" font-size="200" fill="#000">120</text>
<text transform="translate(88.9,120.9) scale(0.14910,0.15857)" font-family="Liberation Sans" font-size="200" fill="#000">100</text>
<text transform="translate(104.4,166.6) scale(0.15450,0.15857)" font-family="Liberation Sans" font-size="200" fill="#000">80</text>
<text transform="translate(104.4,211.8) scale(0.15450,0.15857)" font-family="Liberation Sans" font-size="200" fill="#000">60</text>
<text transform="translate(104.4,256.5) scale(0.15450,0.15857)" font-family="Liberation Sans" font-size="200" fill="#000">40</text>
<text transform="translate(104.4,301.7) scale(0.15450,0.15857)" font-family="Liberation Sans" font-size="200" fill="#000">20</text>
<text transform="translate(123.3,346.8) scale(0.13874,0.15857)" font-family="Liberation Sans" font-size="200" fill="#000">0</text>
<text transform="translate(93.9,382) scale(0.15502,0.15857)" font-family="Liberation Sans" font-size="200" fill="#000">-20</text>
<text transform="translate(204.3,409.7) scale(0.13964,0.15857)" font-family="Liberation Sans" font-size="200" fill="#000">0</text>
<text transform="translate(307.5,409.7) scale(0.15419,0.15857)" font-family="Liberation Sans" font-size="200" fill="#000">200</text>
<text transform="translate(421.8,409.7) scale(0.15599,0.15857)" font-family="Liberation Sans" font-size="200" fill="#000">400</text>
<text transform="translate(545.6,409.7) scale(0.15509,0.15857)" font-family="Liberation Sans" font-size="200" fill="#000">600</text>
<text transform="translate(665.3,409.7) scale(0.15269,0.15857)" font-family="Liberation Sans" font-size="200" fill="#000">800</text>
<text transform="translate(408.3,445.5) scale(0.15469,0.16014)" font-family="Liberation Sans" font-size="200" fill="#000">Time</text>
<text transform="translate(510.9,445.5) scale(0.14500,0.15514)" font-family="Liberation Sans" font-size="200" fill="#000">s</text>
<text transform="translate(497.5,442.38) scale(0.12687,0.16099)" font-family="Liberation Serif" font-size="200" fill="#000">(</text>
<text transform="translate(531.9,442.38) scale(0.12687,0.16099)" font-family="Liberation Serif" font-size="200" fill="#000">)</text>
<text transform="translate(679,98.9) scale(0.15734,0.14929)" font-family="Liberation Sans" font-size="200" fill="#000">30μM</text>
<text transform="translate(679,176.6) scale(0.15734,0.15143)" font-family="Liberation Sans" font-size="200" fill="#000">20μM</text>
<text transform="translate(681.1,259.3) scale(0.15298,0.15571)" font-family="Liberation Sans" font-size="200" fill="#000">10μM</text>
<text transform="translate(680.2,337.6) scale(0.15437,0.15942)" font-family="Liberation Sans" font-size="200" fill="#000">RSA</text>
<text transform="translate(29.5,244.8) rotate(-90) scale(0.15629,0.16377)" font-family="Liberation Sans" font-size="200" fill="#000">RANK</text>
<text transform="translate(68.81,331.6) rotate(-90) scale(0.16026,0.16631)" font-family="Liberation Sans" font-size="200" fill="#000">response unit(RU)</text>
<text transform="translate(300,70.5) scale(0.09549,0.11884)" font-family="Liberation Sans" font-size="200" fill="#000">K</text>
<text transform="translate(315,78.3) scale(0.05556,0.06014)" font-family="Liberation Sans" font-size="200" fill="#000">D</text>
<text transform="translate(324.3,70.5) scale(0.11281,0.11884)" font-family="Liberation Sans" font-size="200" fill="#000">=3.02 μM</text>
<rect x="911.1" y="70" width="4.9" height="299" fill="#000"/>
<rect x="911.1" y="364.1" width="546.9" height="4.9" fill="#000"/>
<rect x="907.8" y="89.5" width="4.2" height="4.6" fill="#000"/>
<rect x="907.8" y="128.8" width="4.2" height="4.6" fill="#000"/>
<rect x="907.8" y="168.3" width="4.2" height="4.6" fill="#000"/>
<rect x="907.8" y="207.7" width="4.2" height="4.6" fill="#000"/>
<rect x="907.8" y="246.2" width="4.2" height="4.6" fill="#000"/>
<rect x="907.8" y="285.9" width="4.2" height="4.6" fill="#000"/>
<rect x="907.8" y="325.1" width="4.2" height="4.6" fill="#000"/>
<rect x="907.8" y="364.3" width="4.2" height="4.6" fill="#000"/>
<rect x="965.5" y="368.6" width="4.6" height="3.7" fill="#000"/>
<rect x="1074.3" y="368.6" width="4.6" height="3.7" fill="#000"/>
<rect x="1182.4" y="368.6" width="4.6" height="3.7" fill="#000"/>
<rect x="1290.5" y="368.6" width="4.6" height="3.7" fill="#000"/>
<rect x="1398.3" y="368.6" width="4.6" height="3.7" fill="#000"/>
<rect x="1021.1" y="368.6" width="2.4" height="1.8" fill="#000"/>
<rect x="1129.4" y="368.6" width="2.4" height="1.8" fill="#000"/>
<rect x="1237.5" y="368.6" width="2.4" height="1.8" fill="#000"/>
<rect x="1345.5" y="368.6" width="2.4" height="1.8" fill="#000"/>
<path d="M967.8 325.76 L968.67 323.63 L969.53 328.7 L970.4 330.5 L971.26 327.64 L972.13 323.05 L972.99 325.27 L973.86 330.19 L974.72 330.61 L975.59 328.78 L976.45 325.51 L977.32 327.13 L978.19 328.57 L979.05 328.63 L979.92 327.58 L980.78 329.73 L981.65 328.36 L982.51 327.23 L983.38 323.19 L984.24 326.56 L985.11 324.81 L985.97 329.66 L986.84 325.98 L987.71 326.34 L988.57 328.05 L989.44 326.88 L990.3 323.74 L991.17 325.81 L992.03 322.49 L992.9 319.87 L993.76 318.52 L994.63 317.82 L995.49 325.41 L996.36 323.34 L997.22 325.46 L998.09 321.68 L998.96 322.88 L999.82 322.81 L1000.69 322.12 L1001.55 324.74 L1002.42 323.64 L1003.28 325.5 L1004.15 318.47 L1005.01 323.19 L1005.88 323.3 L1006.74 328.12 L1007.61 328.77 L1008.48 327.22 L1009.34 322.32 L1010.21 320.9 L1011.07 321.77 L1011.94 324.5 L1012.8 318.57 L1013.67 324.53 L1014.53 325.84 L1015.4 322.59 L1016.26 325.59 L1017.13 323.06 L1018 320.38 L1018.86 322.36 L1019.73 321.65 L1020.59 322.4 L1021.46 324.54 L1022.32 331.92 L1023.19 328.88 L1024.05 324.69 L1024.92 327.87 L1025.78 325.91 L1026.65 323.24 L1027.52 319.4 L1028.38 325.56 L1029.25 325.15 L1030.11 322.99 L1030.98 321.54 L1031.84 326.27 L1032.71 318.92 L1033.57 323.98 L1034.44 320.34 L1035.3 322.74 L1036.17 321.82 L1037.04 318.14 L1037.9 319.64 L1038.77 321.66 L1039.63 325.36 L1040.5 325.52 L1041.36 327.67 L1042.23 318.97 L1043.09 326.07 L1043.96 330.98 L1044.82 321 L1045.69 319.01 L1046.56 322.87 L1047.42 320.78 L1048.29 324.67 L1049.15 325.17 L1050.02 322.4 L1050.88 321.87 L1051.75 324.03 L1052.61 319.03 L1053.48 319.94 L1054.34 321.85 L1055.21 326.03 L1056.07 323.7 L1056.94 324.24 L1057.81 323.75 L1058.67 321.23 L1059.54 324.22 L1060.4 322.84 L1061.27 320.98 L1062.13 321.64 L1063 316.55 L1063.86 326.04 L1064.73 324.32 L1065.59 326.86 L1066.46 324.59 L1067.33 316.87 L1068.19 325.89 L1069.06 324.93 L1069.92 322.07 L1070.79 322.75 L1071.65 320.72 L1072.52 326.86 L1073.38 321.8 L1074.25 325.56 L1075.11 327.41 L1075.98 323.11 L1076.85 322.16 L1077.71 325.24 L1078.58 326.47 L1079.44 325.23 L1080.31 324.41 L1081.17 324.67 L1082.04 327.12 L1082.9 331.5 L1083.77 322.96 L1084.63 323.58 L1085.5 327.7 L1086.37 329.91 L1087.23 328.25 L1088.1 327.06 L1088.96 331.46 L1089.83 323.21 L1090.69 323.47 L1091.56 325.66 L1092.42 324.55 L1093.29 324.61 L1094.15 322.43 L1095.02 324.33 L1095.89 321.94 L1096.75 320.52 L1097.62 325.24 L1098.48 327.11 L1099.35 328.92 L1100.21 327.62 L1101.08 328.41 L1101.94 326.52 L1102.81 325.02 L1103.67 323.81 L1104.54 327.96 L1105.4 322.96 L1106.27 325.15 L1107.14 325.14 L1108 326.11 L1108.87 330.35 L1109.73 325.33 L1110.6 329.25 L1111.46 322.42 L1112.33 323.17 L1113.19 319.11 L1114.06 320.26 L1114.92 320.34 L1115.79 318.33 L1116.66 321.55 L1117.52 318.07 L1118.39 321.46 L1119.25 321.31 L1120.12 323.69 L1120.98 320.95 L1121.85 319.65 L1122.71 322.35 L1123.58 325.17 L1124.44 322.49 L1125.31 320.3 L1126.18 321.11 L1127.04 323.47 L1127.91 323.36 L1128.77 321.96 L1129.64 327.87 L1130.5 323.94 L1131.37 317.1 L1132.23 322.75 L1133.1 321.91 L1133.96 316.74 L1134.83 318.17 L1135.7 318.33 L1136.56 321.6 L1137.43 326.12 L1138.29 316.26 L1139.16 320.66 L1140.02 322.46 L1140.89 319.46 L1141.75 321.14 L1142.62 324.01 L1143.48 328.35 L1144.35 327.36 L1145.22 327.35 L1146.08 329.1 L1146.95 330.45 L1147.81 331.53 L1148.68 329.76 L1149.54 330.85 L1150.41 328.76 L1151.27 326.79 L1152.14 328.43 L1153 330.04 L1153.87 326.63 L1154.74 328.41 L1155.6 335.1 L1156.47 335.34 L1157.33 333.17 L1158.2 335.52 L1159.06 331.86 L1159.93 337.76 L1160.79 340.09 L1161.66 333 L1162.52 332.09 L1163.39 337.91 L1164.25 335.2 L1165.12 331.03 L1165.99 336.64 L1166.85 338.65 L1167.72 339.45 L1168.58 339.18 L1169.45 341.28 L1170.31 338.61 L1171.18 340.58 L1172.04 336.91 L1172.91 329.66 L1173.77 336.33 L1174.64 332.82 L1175.51 330.9 L1176.37 339.7 L1177.24 335.56 L1178.1 334.5 L1178.97 334.92 L1179.83 331.79 L1180.7 334.09 L1181.56 332.46 L1182.43 333.85 L1183.29 333.42 L1184.16 334.92 L1185.03 326.84 L1185.89 330.64 L1186.76 334.55 L1187.62 327.16 L1188.49 325.82 L1189.35 330.12 L1190.22 332.51 L1191.08 333.3 L1191.95 327.99 L1192.81 330.54 L1193.68 332.36 L1194.55 328.61 L1195.41 330.48 L1196.28 330.41 L1197.14 324.9 L1198.01 326.14 L1198.87 325.43 L1199.74 327.44 L1200.6 325.62 L1201.47 329.02 L1202.33 326.9 L1203.2 325.99 L1204.07 329.67 L1204.93 333.13 L1205.8 329.13 L1206.66 329.69 L1207.53 327.82 L1208.39 330.53 L1209.26 328.2 L1210.12 326.28 L1210.99 321.81 L1211.85 322.02 L1212.72 325.86 L1213.58 324.11 L1214.45 329.19 L1215.32 325.74 L1216.18 327.5 L1217.05 324.72 L1217.91 326.58 L1218.78 328.64 L1219.64 330.53 L1220.51 325.67 L1221.37 327.45 L1222.24 326.15 L1223.1 326.35 L1223.97 333.29 L1224.84 328.07 L1225.7 329.14 L1226.57 327.32 L1227.43 326.49 L1228.3 332.47 L1229.16 330.14 L1230.03 328.7 L1230.89 326.99 L1231.76 324.93 L1232.62 328.72 L1233.49 328.63 L1234.36 326.26 L1235.22 332.27 L1236.09 323.97 L1236.95 329.15 L1237.82 324.5 L1238.68 326.31 L1239.55 322.09 L1240.41 323.12 L1241.28 326.38 L1242.14 331.9 L1243.01 328.55 L1243.88 327.01 L1244.74 325.94 L1245.61 330.56 L1246.47 330.75 L1247.34 330.68 L1248.2 327.75 L1249.07 330.01 L1249.93 328.63 L1250.8 325.35 L1251.66 328.05 L1252.53 324.03 L1253.4 325.69 L1254.26 327.67 L1255.13 324.59 L1255.99 325.3 L1256.86 327.65 L1257.72 329.17 L1258.59 328.14 L1259.45 326.76 L1260.32 324.16 L1261.18 325.76 L1262.05 328.67 L1262.92 331.48 L1263.78 327.99 L1264.65 326.56 L1265.51 324.1 L1266.38 327.91 L1267.24 331.14 L1268.11 326.27 L1268.97 327.57 L1269.84 330.81 L1270.7 323.92 L1271.57 323.95 L1272.43 326.21 L1273.3 326.3 L1274.17 329.12 L1275.03 325.22 L1275.9 327.93 L1276.76 328.79 L1277.63 328.63 L1278.49 330.87 L1279.36 325.62 L1280.22 322.29 L1281.09 323.76 L1281.95 331.9 L1282.82 329.56 L1283.69 329.76 L1284.55 327.05 L1285.42 333.11 L1286.28 334.96 L1287.15 330.88 L1288.01 325.71 L1288.88 327.35 L1289.74 321.3 L1290.61 327.82 L1291.47 327.35 L1292.34 327.72 L1293.21 329.72 L1294.07 325.02 L1294.94 330.27 L1295.8 331.13 L1296.67 329.51 L1297.53 329.35 L1298.4 324.91 L1299.26 328.13 L1300.13 326.29 L1300.99 328.39 L1301.86 324.27 L1302.73 326.58 L1303.59 326.53 L1304.46 331.7 L1305.32 326.87 L1306.19 329.12 L1307.05 325.62 L1307.92 325.62 L1308.78 325.54 L1309.65 323.93 L1310.51 325.51 L1311.38 329.42 L1312.25 327.78 L1313.11 327.26 L1313.98 330.8 L1314.84 326.98 L1315.71 323.51 L1316.57 325.83 L1317.44 326.89 L1318.3 326.27 L1319.17 324.35 L1320.03 328.27 L1320.9 325.37 L1321.76 329.15 L1322.63 326.81 L1323.5 326.16 L1324.36 330.9 L1325.23 327.03 L1326.09 327.08 L1326.96 332.26 L1327.82 330.5 L1328.69 330.47 L1329.55 331.19 L1330.42 327.85 L1331.28 330.15 L1332.15 328.56 L1333.02 331.2 L1333.88 329.76 L1334.75 323.62 L1335.61 325.66 L1336.48 331.65 L1337.34 331.78 L1338.21 329.65 L1339.07 333.08 L1339.94 327.01 L1340.8 327.98 L1341.67 328.36 L1342.54 328.16 L1343.4 330.11 L1344.27 331.97 L1345.13 337.91 L1346 335.64 L1346.86 329.9 L1347.73 326.97 L1348.59 328.47 L1349.46 333.43 L1350.32 330.85 L1351.19 329.06 L1352.06 332.17 L1352.92 325.84 L1353.79 330.76" fill="none" stroke="#464646" stroke-width="2" stroke-linejoin="round"/>
<path d="M967.8 323.7 L968.61 324.96 L969.42 316.56 L970.23 321.27 L971.05 323.5 L971.86 323.58 L972.67 325.99 L973.48 327.25 L974.29 324.57 L975.1 326.21 L975.91 323.64 L976.72 325.42 L977.54 329.86 L978.35 330.07 L979.16 329.03 L979.97 331.54 L980.78 327.61 L981.59 326.98 L982.4 323.79 L983.22 327.31 L984.03 326.83 L984.84 324.73 L985.65 323.72 L986.46 327.8 L987.27 321.43 L988.08 323.24 L988.9 309.69 L989.71 298.08 L990.52 284.89 L991.33 284.36 L992.14 279.4 L992.95 269.66 L993.76 272.18 L994.57 266.29 L995.39 265.03 L996.2 268.45 L997.01 265.3 L997.82 263.23 L998.63 266.34 L999.44 267.38 L1000.25 263.16 L1001.07 263.33 L1001.88 258.55 L1002.69 260.84 L1003.5 265 L1004.31 263.07 L1005.12 264.84 L1005.93 260.13 L1006.74 258.47 L1007.56 260.9 L1008.37 262.81 L1009.18 258.97 L1009.99 260.97 L1010.8 257.61 L1011.61 262.05 L1012.42 261.64 L1013.24 262.18 L1014.05 263.57 L1014.86 253.92 L1015.67 253.08 L1016.48 258.01 L1017.29 255.44 L1018.1 260.56 L1018.92 254.01 L1019.73 251.93 L1020.54 254.31 L1021.35 254.52 L1022.16 252.57 L1022.97 250.93 L1023.78 251.94 L1024.59 252.93 L1025.41 251.23 L1026.22 250.61 L1027.03 246.89 L1027.84 246.97 L1028.65 246.09 L1029.46 250.01 L1030.27 247.48 L1031.09 246.22 L1031.9 245.81 L1032.71 244.39 L1033.52 244.09 L1034.33 246.69 L1035.14 241.04 L1035.95 239.07 L1036.76 241.7 L1037.58 239.33 L1038.39 242.14 L1039.2 243.47 L1040.01 240.92 L1040.82 235.47 L1041.63 237.6 L1042.44 241.45 L1043.26 237.88 L1044.07 238.49 L1044.88 238.7 L1045.69 235.78 L1046.5 239.83 L1047.31 241.02 L1048.12 240.36 L1048.93 233.67 L1049.75 233.92 L1050.56 235.55 L1051.37 236.03 L1052.18 232.67 L1052.99 230 L1053.8 233.91 L1054.61 232.44 L1055.43 226.61 L1056.24 229.02 L1057.05 231.87 L1057.86 230.89 L1058.67 230.97 L1059.48 229.42 L1060.29 229.55 L1061.11 231.5 L1061.92 230.96 L1062.73 229.39 L1063.54 231.36 L1064.35 229.89 L1065.16 231.7 L1065.97 226.73 L1066.78 224.26 L1067.6 229.34 L1068.41 226.42 L1069.22 227.27 L1070.03 227.69 L1070.84 228.64 L1071.65 227.61 L1072.46 225.45 L1073.28 230.29 L1074.09 226.17 L1074.9 228.08 L1075.71 230.68 L1076.52 228.84 L1077.33 226.56 L1078.14 227.65 L1078.95 227 L1079.77 228.34 L1080.58 229.21 L1081.39 225.64 L1082.2 229.32 L1083.01 225.63 L1083.82 226.12 L1084.63 227.76 L1085.45 228.1 L1086.26 228.33 L1087.07 227.75 L1087.88 227.57 L1088.69 227.72 L1089.5 232.17 L1090.31 233.9 L1091.13 228.35 L1091.94 229.05 L1092.75 229.08 L1093.56 228.26 L1094.37 230.57 L1095.18 224.95 L1095.99 227.27 L1096.8 228.6 L1097.62 231.37 L1098.43 227.64 L1099.24 227.12 L1100.05 225.3 L1100.86 226.41 L1101.67 231.15 L1102.48 233.88 L1103.3 228.45 L1104.11 232.04 L1104.92 231.93 L1105.73 232.22 L1106.54 230.9 L1107.35 230.59 L1108.16 234.58 L1108.97 235.03 L1109.79 238.04 L1110.6 233.36 L1111.41 233.12 L1112.22 236.38 L1113.03 230.29 L1113.84 230.57 L1114.65 232.76 L1115.47 231.55 L1116.28 231.22 L1117.09 229.03 L1117.9 227.73 L1118.71 228.84 L1119.52 226.33 L1120.33 232.56 L1121.15 228.53 L1121.96 224.5 L1122.77 222.15 L1123.58 221.41 L1124.39 226.01 L1125.2 229.07 L1126.01 226.81 L1126.82 219.86 L1127.64 222.78 L1128.45 226.21 L1129.26 229.62 L1130.07 226.32 L1130.88 226.88 L1131.69 224.85 L1132.5 225.09 L1133.32 231.43 L1134.13 228.04 L1134.94 224.92 L1135.75 227.44 L1136.56 229.78 L1137.37 230.49 L1138.18 231.22 L1138.99 223 L1139.81 222.53 L1140.62 227.4 L1141.43 224.16 L1142.24 229.2 L1143.05 229.56 L1143.86 230.27 L1144.67 229.23 L1145.49 230.02 L1146.3 230.28 L1147.11 236.5 L1147.92 243.43 L1148.73 247.87 L1149.54 253.2 L1150.35 256.4 L1151.17 263.42 L1151.98 265.86 L1152.79 269.16 L1153.6 268.31 L1154.41 272.55 L1155.22 271.08 L1156.03 271.26 L1156.84 274.24 L1157.66 278.22 L1158.47 276.26 L1159.28 272.5 L1160.09 274.45 L1160.9 269.07 L1161.71 270.93 L1162.52 274.19 L1163.34 273.27 L1164.15 271.25 L1164.96 270.2 L1165.77 271.22 L1166.58 269.46 L1167.39 262.49 L1168.2 264.94 L1169.01 267.09 L1169.83 268.88 L1170.64 272.18 L1171.45 268.05 L1172.26 267.83 L1173.07 266.49 L1173.88 266.91 L1174.69 264.61 L1175.51 264.04 L1176.32 268.86 L1177.13 272.64 L1177.94 270.43 L1178.75 267.9 L1179.56 270.21 L1180.37 271.44 L1181.19 277.06 L1182 277.42 L1182.81 275.52 L1183.62 276.18 L1184.43 278 L1185.24 277.5 L1186.05 276.94 L1186.86 278.95 L1187.68 281.8 L1188.49 284.66 L1189.3 281.96 L1190.11 282.39 L1190.92 282.87 L1191.73 280.25 L1192.54 284.03 L1193.36 284.57 L1194.17 282.84 L1194.98 286.35 L1195.79 290.76 L1196.6 288.57 L1197.41 284.98 L1198.22 287.62 L1199.03 287.89 L1199.85 292.16 L1200.66 286.46 L1201.47 291.91 L1202.28 291.12 L1203.09 289.89 L1203.9 284.61 L1204.71 287.59 L1205.53 290.65 L1206.34 293.6 L1207.15 291.82 L1207.96 293.66 L1208.77 292.93 L1209.58 291.28 L1210.39 288.16 L1211.2 292.96 L1212.02 288.66 L1212.83 295.47 L1213.64 288.39 L1214.45 292.63 L1215.26 293.42 L1216.07 294.07 L1216.88 292.75 L1217.7 293.22 L1218.51 294.19 L1219.32 295.53 L1220.13 295.75 L1220.94 294.54 L1221.75 295.77 L1222.56 296.82 L1223.38 299.22 L1224.19 296.72 L1225 295.14 L1225.81 298.56 L1226.62 295.05 L1227.43 296.75 L1228.24 297.21 L1229.05 301.95 L1229.87 298.11 L1230.68 295.71 L1231.49 293.65 L1232.3 299.41 L1233.11 300.09 L1233.92 298.67 L1234.73 299.03 L1235.55 302.21 L1236.36 301.78 L1237.17 299.75 L1237.98 300.42 L1238.79 302.37 L1239.6 300.62 L1240.41 306.41 L1241.22 303.85 L1242.04 305.97 L1242.85 306.19 L1243.66 303.31 L1244.47 299.99 L1245.28 301.88 L1246.09 303.05 L1246.9 299.61 L1247.72 300.52 L1248.53 307.67 L1249.34 305.83 L1250.15 305.24 L1250.96 304.91 L1251.77 306.59 L1252.58 301.83 L1253.4 301.35 L1254.21 297.31 L1255.02 300.72 L1255.83 300.62 L1256.64 302.47 L1257.45 298.66 L1258.26 296.76 L1259.07 295.03 L1259.89 295.9 L1260.7 299.77 L1261.51 296.51 L1262.32 300.38 L1263.13 300.67 L1263.94 299.57 L1264.75 293.81 L1265.57 298.72 L1266.38 300.87 L1267.19 298.61 L1268 295.68 L1268.81 296.28 L1269.62 296.49 L1270.43 299.83 L1271.24 299.77 L1272.06 295.81 L1272.87 297.39 L1273.68 299.64 L1274.49 299.61 L1275.3 295.61 L1276.11 293.52 L1276.92 295.98 L1277.74 299.61 L1278.55 294.84 L1279.36 298.85 L1280.17 298.29 L1280.98 297.38 L1281.79 298.11 L1282.6 298.72 L1283.42 294.69 L1284.23 296.53 L1285.04 301.2 L1285.85 300.62 L1286.66 295.96 L1287.47 298.07 L1288.28 300.7 L1289.09 296.93 L1289.91 296.81 L1290.72 297.81 L1291.53 296.88 L1292.34 298.82 L1293.15 298.09 L1293.96 296.93 L1294.77 299.26 L1295.59 295.72 L1296.4 300.05 L1297.21 294.01 L1298.02 296.9 L1298.83 297.05 L1299.64 300.83 L1300.45 297.27 L1301.26 300.01 L1302.08 297.71 L1302.89 298.14 L1303.7 300.21 L1304.51 294.77 L1305.32 296.9 L1306.13 299.14 L1306.94 299.45 L1307.76 297.94 L1308.57 298.12 L1309.38 296.29 L1310.19 299.08 L1311 298.07 L1311.81 299.42 L1312.62 300.36 L1313.44 297.13 L1314.25 300 L1315.06 302.81 L1315.87 298.33 L1316.68 299.77 L1317.49 297.71 L1318.3 297.21 L1319.11 297.14 L1319.93 298.15 L1320.74 295.04 L1321.55 300.23 L1322.36 296.64 L1323.17 298.66 L1323.98 298.27 L1324.79 299.87 L1325.61 297.37 L1326.42 297.54 L1327.23 299.8 L1328.04 299.34 L1328.85 298.23 L1329.66 299.39 L1330.47 293.66 L1331.28 296.43 L1332.1 299.53 L1332.91 297.21 L1333.72 298.3 L1334.53 300.49 L1335.34 300.77 L1336.15 303.82 L1336.96 299.27 L1337.78 296.17 L1338.59 299 L1339.4 301.56 L1340.21 304.52 L1341.02 304.26 L1341.83 301.38 L1342.64 302.04 L1343.46 301.15 L1344.27 302.5 L1345.08 301.36 L1345.89 301.21 L1346.7 300.25 L1347.51 300.2 L1348.32 299.99 L1349.13 302.3 L1349.95 301.8 L1350.76 303.86 L1351.57 302.85 L1352.38 301.49 L1353.19 300.03 L1354 303.76" fill="none" stroke="#55ff2a" stroke-width="1.8" stroke-linejoin="round"/>
<path d="M967.8 324.06 L968.72 327.94 L969.64 327.34 L970.56 328.08 L971.48 329.55 L972.4 329.74 L973.32 329.74 L974.24 328.99 L975.16 327.76 L976.08 326.04 L977 326.62 L977.91 325.34 L978.83 325.88 L979.75 326.77 L980.67 327.8 L981.59 329.64 L982.51 331.64 L983.43 330 L984.35 329.33 L985.27 328.15 L986.19 327.54 L987.11 328.86 L988.03 324.2 L988.95 312.8 L989.87 293.27 L990.79 277.35 L991.71 260.85 L992.63 246.28 L993.55 238.84 L994.47 235.97 L995.39 232.49 L996.31 228.57 L997.22 228.83 L998.14 224.48 L999.06 223.15 L999.98 220.67 L1000.9 220.2 L1001.82 222.7 L1002.74 223.66 L1003.66 224.66 L1004.58 226.17 L1005.5 227.8 L1006.42 226.94 L1007.34 226.58 L1008.26 225.56 L1009.18 225.99 L1010.1 227.98 L1011.02 226.7 L1011.94 224.65 L1012.86 220.54 L1013.78 219.55 L1014.7 216.45 L1015.62 215.2 L1016.54 216.37 L1017.45 214.07 L1018.37 211.26 L1019.29 209.36 L1020.21 210.94 L1021.13 207.64 L1022.05 206.99 L1022.97 208.56 L1023.89 205.9 L1024.81 206.25 L1025.73 204.45 L1026.65 198.05 L1027.57 192.31 L1028.49 191.12 L1029.41 190.86 L1030.33 187.41 L1031.25 187.64 L1032.17 189.66 L1033.09 192.71 L1034.01 187.81 L1034.93 190.32 L1035.85 192.08 L1036.76 188.55 L1037.68 184.97 L1038.6 184.25 L1039.52 180 L1040.44 179.29 L1041.36 177.86 L1042.28 176.18 L1043.2 176.58 L1044.12 175.14 L1045.04 170.66 L1045.96 173.91 L1046.88 173.38 L1047.8 172.25 L1048.72 173.33 L1049.64 172.78 L1050.56 175.2 L1051.48 173.95 L1052.4 172.25 L1053.32 169.29 L1054.24 167.88 L1055.16 169.62 L1056.07 171.2 L1056.99 166.87 L1057.91 166.26 L1058.83 170.79 L1059.75 170.2 L1060.67 170.8 L1061.59 170.49 L1062.51 172.2 L1063.43 170.67 L1064.35 169.99 L1065.27 169.06 L1066.19 166.26 L1067.11 166.2 L1068.03 168.62 L1068.95 170.65 L1069.87 169.45 L1070.79 165.8 L1071.71 164.24 L1072.63 166.07 L1073.55 163.81 L1074.47 163.87 L1075.39 165.64 L1076.3 164.6 L1077.22 164.88 L1078.14 166.77 L1079.06 166.41 L1079.98 165.09 L1080.9 162.29 L1081.82 164.91 L1082.74 163.86 L1083.66 163.6 L1084.58 163.48 L1085.5 165.38 L1086.42 161.83 L1087.34 159.87 L1088.26 158.24 L1089.18 159.31 L1090.1 157.94 L1091.02 158.81 L1091.94 158.32 L1092.86 160.31 L1093.78 160.21 L1094.7 161.02 L1095.61 162.6 L1096.53 162.18 L1097.45 163.07 L1098.37 163.39 L1099.29 162.16 L1100.21 161.8 L1101.13 156.77 L1102.05 154.66 L1102.97 154.73 L1103.89 155.15 L1104.81 158.18 L1105.73 157.81 L1106.65 161.45 L1107.57 162.22 L1108.49 162.74 L1109.41 163.19 L1110.33 161.63 L1111.25 164.17 L1112.17 160.14 L1113.09 163.72 L1114.01 162.24 L1114.92 165.59 L1115.84 162.61 L1116.76 164.7 L1117.68 162.98 L1118.6 162.25 L1119.52 160.19 L1120.44 159.3 L1121.36 159.03 L1122.28 159.62 L1123.2 155.94 L1124.12 158.18 L1125.04 158.22 L1125.96 158.88 L1126.88 157.9 L1127.8 159.14 L1128.72 158.55 L1129.64 156.77 L1130.56 157.93 L1131.48 156.69 L1132.4 157.97 L1133.32 155.08 L1134.23 156.43 L1135.15 153.78 L1136.07 154.74 L1136.99 156.37 L1137.91 155.3 L1138.83 154.42 L1139.75 153.37 L1140.67 153.13 L1141.59 153.93 L1142.51 158.04 L1143.43 156.39 L1144.35 162.97 L1145.27 169.38 L1146.19 174.46 L1147.11 186.53 L1148.03 193.96 L1148.95 200.65 L1149.87 212.15 L1150.79 224.31 L1151.71 230.79 L1152.63 233.4 L1153.55 233.85 L1154.46 234.41 L1155.38 240.31 L1156.3 240.69 L1157.22 244.85 L1158.14 246.17 L1159.06 245.19 L1159.98 246.42 L1160.9 243.86 L1161.82 240.74 L1162.74 236.45 L1163.66 232.87 L1164.58 229.55 L1165.5 230.57 L1166.42 232.31 L1167.34 231.42 L1168.26 233.56 L1169.18 234.83 L1170.1 233.08 L1171.02 235.17 L1171.94 236.71 L1172.86 234.17 L1173.77 235.29 L1174.69 240.05 L1175.61 240.11 L1176.53 235.63 L1177.45 232.96 L1178.37 238.2 L1179.29 239.91 L1180.21 241.55 L1181.13 243.99 L1182.05 249.87 L1182.97 248.65 L1183.89 250.19 L1184.81 252.74 L1185.73 257.33 L1186.65 258.73 L1187.57 259.44 L1188.49 261.13 L1189.41 262.12 L1190.33 264.69 L1191.25 264.51 L1192.17 266.08 L1193.08 271.02 L1194 273.51 L1194.92 273.92 L1195.84 276.05 L1196.76 273.51 L1197.68 275.92 L1198.6 275.96 L1199.52 275.57 L1200.44 278.69 L1201.36 276.26 L1202.28 277.86 L1203.2 279.78 L1204.12 280.94 L1205.04 283.53 L1205.96 284.47 L1206.88 279.29 L1207.8 279.42 L1208.72 279.58 L1209.64 278.65 L1210.56 277.34 L1211.48 278.95 L1212.39 278.54 L1213.31 277.31 L1214.23 275.22 L1215.15 275.35 L1216.07 272.75 L1216.99 275.61 L1217.91 279.02 L1218.83 283.65 L1219.75 284.62 L1220.67 284.94 L1221.59 287.73 L1222.51 288.54 L1223.43 290.04 L1224.35 290.08 L1225.27 289.83 L1226.19 289.06 L1227.11 286.6 L1228.03 286.35 L1228.95 285.49 L1229.87 284.58 L1230.79 287.01 L1231.71 285.02 L1232.62 286.3 L1233.54 289.33 L1234.46 289.57 L1235.38 288.76 L1236.3 290.9 L1237.22 285.15 L1238.14 286.43 L1239.06 285.45 L1239.98 288.6 L1240.9 287.84 L1241.82 287.16 L1242.74 288.62 L1243.66 287.53 L1244.58 287.42 L1245.5 286.68 L1246.42 289.1 L1247.34 287.24 L1248.26 287.71 L1249.18 288.94 L1250.1 291.91 L1251.02 289.84 L1251.93 289.1 L1252.85 283.85 L1253.77 287.55 L1254.69 284.61 L1255.61 283.55 L1256.53 284.48 L1257.45 285.22 L1258.37 285.13 L1259.29 288.6 L1260.21 285.28 L1261.13 286.74 L1262.05 288.24 L1262.97 287.72 L1263.89 292.35 L1264.81 292.19 L1265.73 291.88 L1266.65 292.45 L1267.57 288.96 L1268.49 285.45 L1269.41 286.54 L1270.33 287.71 L1271.24 287.19 L1272.16 288.43 L1273.08 287.96 L1274 287.27 L1274.92 288.09 L1275.84 288.85 L1276.76 288.42 L1277.68 288.25 L1278.6 287.11 L1279.52 290.45 L1280.44 291.46 L1281.36 290.88 L1282.28 288.91 L1283.2 291.1 L1284.12 287.81 L1285.04 285.79 L1285.96 288.67 L1286.88 286.86 L1287.8 291.66 L1288.72 290.58 L1289.64 292.75 L1290.56 289.12 L1291.47 287.74 L1292.39 287.69 L1293.31 289.63 L1294.23 291.61 L1295.15 289.9 L1296.07 290.72 L1296.99 289.07 L1297.91 292.3 L1298.83 290.37 L1299.75 289.28 L1300.67 293.71 L1301.59 294.19 L1302.51 293.47 L1303.43 292.96 L1304.35 294.73 L1305.27 292.57 L1306.19 293.55 L1307.11 292.22 L1308.03 294.69 L1308.95 294.81 L1309.87 291.59 L1310.78 294.28 L1311.7 292.68 L1312.62 289.29 L1313.54 288.76 L1314.46 292.29 L1315.38 287.82 L1316.3 290.53 L1317.22 289.28 L1318.14 288.64 L1319.06 290.61 L1319.98 289.94 L1320.9 295.64 L1321.82 293.48 L1322.74 292.31 L1323.66 292.65 L1324.58 292.02 L1325.5 290.07 L1326.42 289.34 L1327.34 291.78 L1328.26 290.53 L1329.18 289.25 L1330.09 290.52 L1331.01 290.7 L1331.93 295.84 L1332.85 296.89 L1333.77 294 L1334.69 295.91 L1335.61 292.73 L1336.53 290.62 L1337.45 293.4 L1338.37 295.14 L1339.29 294.33 L1340.21 293.21 L1341.13 291.62 L1342.05 292.72 L1342.97 292.83 L1343.89 294.74 L1344.81 293.46 L1345.73 294.73 L1346.65 292.25 L1347.57 291.57 L1348.49 295.41 L1349.4 293.85 L1350.32 295.65 L1351.24 292.93 L1352.16 295.14 L1353.08 292.21 L1354 291.13" fill="none" stroke="#0000ff" stroke-width="2" stroke-linejoin="round"/>
<path d="M967.8 328.69 L968.72 331.59 L969.64 327.15 L970.56 321.77 L971.48 323.93 L972.4 323.44 L973.32 323.17 L974.24 323.91 L975.16 324.3 L976.08 323.84 L977 326.35 L977.91 330.1 L978.83 332.31 L979.75 328.83 L980.67 327.49 L981.59 327.76 L982.51 332.26 L983.43 330.55 L984.35 329.36 L985.27 330.54 L986.19 330.69 L987.11 323.72 L988.03 316.32 L988.95 300.27 L989.87 279.33 L990.79 259.24 L991.71 237.97 L992.63 214.24 L993.55 203.68 L994.47 199.2 L995.39 191.18 L996.31 190.63 L997.22 187.2 L998.14 179.21 L999.06 180.15 L999.98 181.24 L1000.9 183.97 L1001.82 186.69 L1002.74 183.24 L1003.66 190.8 L1004.58 190.35 L1005.5 193.46 L1006.42 195.5 L1007.34 198.45 L1008.26 192.91 L1009.18 189.95 L1010.1 188.29 L1011.02 186.44 L1011.94 188.17 L1012.86 185.32 L1013.78 182.53 L1014.7 180.39 L1015.62 183.5 L1016.54 177.66 L1017.45 172.79 L1018.37 171.22 L1019.29 166.62 L1020.21 160.41 L1021.13 158.46 L1022.05 153.83 L1022.97 154.18 L1023.89 153.66 L1024.81 150.41 L1025.73 149.93 L1026.65 150.17 L1027.57 145.3 L1028.49 142.44 L1029.41 139.24 L1030.33 139.93 L1031.25 138.74 L1032.17 135.66 L1033.09 135.32 L1034.01 133.93 L1034.93 131.68 L1035.85 131.76 L1036.76 129.18 L1037.68 130.51 L1038.6 126.68 L1039.52 120.46 L1040.44 121.02 L1041.36 123 L1042.28 126.02 L1043.2 126.32 L1044.12 124.46 L1045.04 124.15 L1045.96 121.21 L1046.88 120.1 L1047.8 118.02 L1048.72 118.57 L1049.64 116.54 L1050.56 114.1 L1051.48 116.95 L1052.4 116.51 L1053.32 116.02 L1054.24 115.36 L1055.16 112.33 L1056.07 113.36 L1056.99 114.98 L1057.91 116.51 L1058.83 117.4 L1059.75 115.05 L1060.67 111.83 L1061.59 111.7 L1062.51 113.14 L1063.43 112.5 L1064.35 113.47 L1065.27 110.11 L1066.19 110 L1067.11 107.23 L1068.03 107.24 L1068.95 107.18 L1069.87 110.02 L1070.79 108.52 L1071.71 109.34 L1072.63 109.93 L1073.55 108.67 L1074.47 105.13 L1075.39 105.38 L1076.3 102.44 L1077.22 103.41 L1078.14 107.67 L1079.06 108.04 L1079.98 103.46 L1080.9 103.55 L1081.82 104.67 L1082.74 106.26 L1083.66 105.85 L1084.58 105.16 L1085.5 106.42 L1086.42 106.35 L1087.34 105.68 L1088.26 107.94 L1089.18 107.48 L1090.1 108.16 L1091.02 108.31 L1091.94 108.88 L1092.86 108.65 L1093.78 108.91 L1094.7 104.16 L1095.61 105.43 L1096.53 105.03 L1097.45 107.04 L1098.37 106.28 L1099.29 105.31 L1100.21 102.65 L1101.13 101.04 L1102.05 104.36 L1102.97 101.8 L1103.89 103.75 L1104.81 102.56 L1105.73 104.39 L1106.65 103.81 L1107.57 105.06 L1108.49 108.08 L1109.41 105.93 L1110.33 106.53 L1111.25 106.47 L1112.17 105.73 L1113.09 104.87 L1114.01 100.72 L1114.92 105.33 L1115.84 106.58 L1116.76 108.03 L1117.68 104.62 L1118.6 105.82 L1119.52 106.99 L1120.44 105.18 L1121.36 104.65 L1122.28 103.24 L1123.2 106.06 L1124.12 104.37 L1125.04 102.17 L1125.96 103 L1126.88 99.77 L1127.8 100.45 L1128.72 101.85 L1129.64 101.64 L1130.56 99.54 L1131.48 97.3 L1132.4 98.81 L1133.32 97.36 L1134.23 98.12 L1135.15 99.32 L1136.07 99.85 L1136.99 96.68 L1137.91 97.39 L1138.83 96.53 L1139.75 93.24 L1140.67 92.73 L1141.59 95.04 L1142.51 95.87 L1143.43 95.19 L1144.35 99.21 L1145.27 95.98 L1146.19 105.61 L1147.11 113.87 L1148.03 130.07 L1148.95 148.48 L1149.87 164.64 L1150.79 182.18 L1151.71 195.68 L1152.63 204.2 L1153.55 211.48 L1154.46 213.97 L1155.38 219.76 L1156.3 225.08 L1157.22 226.98 L1158.14 227.05 L1159.06 229.53 L1159.98 230.88 L1160.9 226.09 L1161.82 221.41 L1162.74 215.95 L1163.66 211.99 L1164.58 209.02 L1165.5 208.98 L1166.42 209.19 L1167.34 210.5 L1168.26 208.46 L1169.18 207.1 L1170.1 211.84 L1171.02 209.96 L1171.94 208.65 L1172.86 207.09 L1173.77 207.99 L1174.69 208.33 L1175.61 210.33 L1176.53 213.79 L1177.45 216.16 L1178.37 218.07 L1179.29 222 L1180.21 222.97 L1181.13 222.28 L1182.05 225.34 L1182.97 224.86 L1183.89 229.49 L1184.81 230.51 L1185.73 235.93 L1186.65 237.02 L1187.57 240.05 L1188.49 242.93 L1189.41 246.49 L1190.33 250.67 L1191.25 253.46 L1192.17 256.33 L1193.08 263.23 L1194 262.53 L1194.92 262.12 L1195.84 267.82 L1196.76 264.86 L1197.68 266.37 L1198.6 265.72 L1199.52 268.53 L1200.44 269.7 L1201.36 272.07 L1202.28 272.19 L1203.2 274.88 L1204.12 272.98 L1205.04 273.39 L1205.96 274.24 L1206.88 274.98 L1207.8 275.94 L1208.72 274.81 L1209.64 274.56 L1210.56 274.95 L1211.48 272.19 L1212.39 275.52 L1213.31 276.12 L1214.23 278.24 L1215.15 277.49 L1216.07 277.12 L1216.99 280.33 L1217.91 278.47 L1218.83 282.41 L1219.75 281.96 L1220.67 281.67 L1221.59 283.83 L1222.51 280.34 L1223.43 281.23 L1224.35 284.85 L1225.27 283.9 L1226.19 283.81 L1227.11 285.94 L1228.03 287.28 L1228.95 284.66 L1229.87 280.85 L1230.79 282.88 L1231.71 280.41 L1232.62 286.43 L1233.54 289.37 L1234.46 287.66 L1235.38 288.22 L1236.3 286.9 L1237.22 283.3 L1238.14 286.97 L1239.06 286.1 L1239.98 286.61 L1240.9 289.29 L1241.82 288.69 L1242.74 290.15 L1243.66 289.28 L1244.58 285.67 L1245.5 284.72 L1246.42 284.27 L1247.34 285.85 L1248.26 287.92 L1249.18 284.11 L1250.1 286.09 L1251.02 286.32 L1251.93 285.31 L1252.85 287.08 L1253.77 286.83 L1254.69 287.7 L1255.61 287.45 L1256.53 286.31 L1257.45 289.99 L1258.37 289.17 L1259.29 289.97 L1260.21 289.78 L1261.13 288.65 L1262.05 286.03 L1262.97 291.46 L1263.89 287.07 L1264.81 289.22 L1265.73 290.81 L1266.65 291.42 L1267.57 290.06 L1268.49 289.46 L1269.41 292.8 L1270.33 294.26 L1271.24 290.13 L1272.16 290.14 L1273.08 293.57 L1274 292.2 L1274.92 291.63 L1275.84 287.98 L1276.76 290.53 L1277.68 291.41 L1278.6 291.58 L1279.52 290.23 L1280.44 289.35 L1281.36 288.66 L1282.28 286.27 L1283.2 288.6 L1284.12 286.6 L1285.04 288.43 L1285.96 288.13 L1286.88 287.78 L1287.8 286.12 L1288.72 290.59 L1289.64 286.88 L1290.56 292.95 L1291.47 292.75 L1292.39 292.77 L1293.31 292.61 L1294.23 289.93 L1295.15 294.53 L1296.07 295.91 L1296.99 292.72 L1297.91 289.75 L1298.83 293.69 L1299.75 294.77 L1300.67 293.09 L1301.59 292.4 L1302.51 296.24 L1303.43 295.57 L1304.35 296.14 L1305.27 297.73 L1306.19 296.74 L1307.11 297.52 L1308.03 298.91 L1308.95 293 L1309.87 295.42 L1310.78 297.63 L1311.7 293.38 L1312.62 295.56 L1313.54 296.87 L1314.46 301.56 L1315.38 302.18 L1316.3 296.9 L1317.22 298.68 L1318.14 298.88 L1319.06 298.67 L1319.98 297.87 L1320.9 294.28 L1321.82 299.29 L1322.74 301.87 L1323.66 297.2 L1324.58 296.58 L1325.5 296.24 L1326.42 294.93 L1327.34 296.89 L1328.26 296.37 L1329.18 295.4 L1330.09 294.22 L1331.01 295.96 L1331.93 299.46 L1332.85 300.37 L1333.77 299.86 L1334.69 299.95 L1335.61 297.06 L1336.53 299.87 L1337.45 298.24 L1338.37 299.23 L1339.29 298.53 L1340.21 295.77 L1341.13 295.17 L1342.05 297.97 L1342.97 298.22 L1343.89 296.51 L1344.81 297.45 L1345.73 296.01 L1346.65 294.74 L1347.57 297.36 L1348.49 296.84 L1349.4 293.97 L1350.32 295.01 L1351.24 298.07 L1352.16 295.72 L1353.08 297.16 L1354 298.31" fill="none" stroke="#ff0000" stroke-width="2" stroke-linejoin="round"/>
<text transform="translate(810.6,30.9) scale(0.18889,0.17899)" font-family="Liberation Sans" font-size="200" font-weight="bold" stroke="#000" stroke-width="3" fill="#000">B</text>
<text transform="translate(853.1,94.9) scale(0.14641,0.15857)" font-family="Liberation Sans" font-size="200" fill="#000">120</text>
<text transform="translate(853.1,137.6) scale(0.14641,0.15857)" font-family="Liberation Sans" font-size="200" fill="#000">100</text>
<text transform="translate(869,182.1) scale(0.14865,0.15857)" font-family="Liberation Sans" font-size="200" fill="#000">80</text>
<text transform="translate(869,217.6) scale(0.14865,0.15857)" font-family="Liberation Sans" font-size="200" fill="#000">60</text>
<text transform="translate(868.1,259.3) scale(0.15270,0.15857)" font-family="Liberation Sans" font-size="200" fill="#000">40</text>
<text transform="translate(868.6,299.9) scale(0.15045,0.15857)" font-family="Liberation Sans" font-size="200" fill="#000">20</text>
<text transform="translate(886.4,345.4) scale(0.14054,0.15857)" font-family="Liberation Sans" font-size="200" fill="#000">0</text>
<text transform="translate(858,380.4) scale(0.15225,0.15857)" font-family="Liberation Sans" font-size="200" fill="#000">-20</text>
<text transform="translate(959.2,408.1) scale(0.14144,0.15643)" font-family="Liberation Sans" font-size="200" fill="#000">0</text>
<text transform="translate(1053.4,408.1) scale(0.15479,0.15643)" font-family="Liberation Sans" font-size="200" fill="#000">200</text>
<text transform="translate(1159.6,408.1) scale(0.15329,0.15643)" font-family="Liberation Sans" font-size="200" fill="#000">400</text>
<text transform="translate(1267.4,408.1) scale(0.15389,0.15643)" font-family="Liberation Sans" font-size="200" fill="#000">600</text>
<text transform="translate(1378.3,408.1) scale(0.15509,0.15643)" font-family="Liberation Sans" font-size="200" fill="#000">800</text>
<text transform="translate(1136.6,443.5) scale(0.15492,0.16014)" font-family="Liberation Sans" font-size="200" fill="#000">Time</text>
<text transform="translate(1237.5,443.5) scale(0.15000,0.15514)" font-family="Liberation Sans" font-size="200" fill="#000">s</text>
<text transform="translate(1225.8,441.32) scale(0.12836,0.15989)" font-family="Liberation Serif" font-size="200" fill="#000">(</text>
<text transform="translate(1258.2,441.32) scale(0.12836,0.15989)" font-family="Liberation Serif" font-size="200" fill="#000">)</text>
<text transform="translate(1374.5,106.3) scale(0.15774,0.15143)" font-family="Liberation Sans" font-size="200" fill="#000">30μM</text>
<text transform="translate(1374.5,179.2) scale(0.15774,0.15143)" font-family="Liberation Sans" font-size="200" fill="#000">20μM</text>
<text transform="translate(1376.4,258) scale(0.15397,0.15143)" font-family="Liberation Sans" font-size="200" fill="#000">10μM</text>
<text transform="translate(1375.8,331.4) scale(0.15340,0.15507)" font-family="Liberation Sans" font-size="200" fill="#000">RSA</text>
<text transform="translate(797.17,257.1) rotate(-90) scale(0.15467,0.16479)" font-family="Liberation Sans" font-size="200" fill="#000">RAGE</text>
<text transform="translate(836.01,343.8) rotate(-90) scale(0.16063,0.16631)" font-family="Liberation Sans" font-size="200" fill="#000">response unit(RU)</text>
<text transform="translate(1034.7,81.9) scale(0.09774,0.11884)" font-family="Liberation Sans" font-size="200" fill="#000">K</text>
<text transform="translate(1049.7,89.4) scale(0.05556,0.05942)" font-family="Liberation Sans" font-size="200" fill="#000">D</text>
<text transform="translate(1059.3,81.9) scale(0.11281,0.11884)" font-family="Liberation Sans" font-size="200" fill="#000">=1.34 μM</text>
<svg x="37.2" y="475.3" width="217.4" height="220.1" viewBox="0 0 217.4 220.1" preserveAspectRatio="none" style="isolation:isolate">
<rect width="217.4" height="220.1" fill="#000"/>
<use href="#b1c"/>

</svg>
<svg x="263.8" y="475.3" width="217.4" height="220.1" viewBox="0 0 217.4 220.1" preserveAspectRatio="none" style="isolation:isolate">
<rect width="217.4" height="220.1" fill="#000"/>
<use href="#r1c"/>

</svg>
<svg x="491.1" y="475.3" width="217.4" height="220.1" viewBox="0 0 217.4 220.1" preserveAspectRatio="none" style="isolation:isolate">
<rect width="217.4" height="220.1" fill="#000"/>
<use href="#g1c"/>

</svg>
<svg x="716.6" y="475.3" width="217.4" height="220.1" viewBox="0 0 217.4 220.1" preserveAspectRatio="none" style="isolation:isolate">
<rect width="217.4" height="220.1" fill="#000"/>
<use href="#r1c" style="mix-blend-mode:screen"/>
<use href="#g1c" style="mix-blend-mode:screen"/>
<use href="#b1c"/>
<use href="#g1n" style="mix-blend-mode:screen"/>

</svg>
<svg x="37.2" y="749.7" width="217.4" height="216.8" viewBox="0 0 217.4 216.8" preserveAspectRatio="none" style="isolation:isolate">
<rect width="217.4" height="216.8" fill="#000"/>
<use href="#b2c"/>
<use href="#sbar"/>

</svg>
<svg x="263.8" y="749.7" width="217.4" height="216.8" viewBox="0 0 217.4 216.8" preserveAspectRatio="none" style="isolation:isolate">
<rect width="217.4" height="216.8" fill="#000"/>
<use href="#r2c"/>
<use href="#sbar"/>

</svg>
<svg x="491.1" y="749.7" width="217.4" height="216.8" viewBox="0 0 217.4 216.8" preserveAspectRatio="none" style="isolation:isolate">
<rect width="217.4" height="216.8" fill="#000"/>
<use href="#g2c"/>
<use href="#sbar"/>

</svg>
<svg x="716.6" y="749.7" width="217.4" height="216.8" viewBox="0 0 217.4 216.8" preserveAspectRatio="none" style="isolation:isolate">
<rect width="217.4" height="216.8" fill="#000"/>
<use href="#r2c" style="mix-blend-mode:screen"/>
<use href="#g2c" style="mix-blend-mode:screen"/>
<use href="#b2c"/>
<rect x="194.3" y="208.6" width="16.9" height="6.2" fill="#fff"/><text x="196.6" y="206.6" font-family="Liberation Sans" font-size="4.6" fill="#30d000">5 μm</text>
</svg>
<text transform="translate(23.2,445.25) scale(0.18819,0.22324)" font-family="Liberation Sans" font-size="200" font-weight="bold" stroke="#000" stroke-width="3" fill="#000">C</text>
<text transform="translate(114.6,724.4) scale(0.13383,0.14058)" font-family="Liberation Sans" font-size="200" fill="#000">DAPI</text>
<text transform="translate(326.2,724.4) scale(0.13933,0.14058)" font-family="Liberation Sans" font-size="200" fill="#000">AOPPs</text>
<text transform="translate(561.3,724.4) scale(0.13831,0.14058)" font-family="Liberation Sans" font-size="200" fill="#000">RANK</text>
<text transform="translate(785.8,724.4) scale(0.13915,0.14058)" font-family="Liberation Sans" font-size="200" fill="#000">Merge</text>
<text transform="translate(114.6,1004.6) scale(0.13383,0.14058)" font-family="Liberation Sans" font-size="200" fill="#000">DAPI</text>
<text transform="translate(326.2,1004.6) scale(0.13933,0.14058)" font-family="Liberation Sans" font-size="200" fill="#000">AOPPs</text>
<text transform="translate(561.3,1004.6) scale(0.13563,0.14058)" font-family="Liberation Sans" font-size="200" fill="#000">RAGE</text>
<text transform="translate(785.8,1004.6) scale(0.13915,0.14058)" font-family="Liberation Sans" font-size="200" fill="#000">Merge</text>
<text transform="translate(985.8,445.3) scale(0.18264,0.22536)" font-family="Liberation Sans" font-size="200" font-weight="bold" stroke="#000" stroke-width="3" fill="#000">D</text>
<linearGradient id="bg1" x1="0" x2="1" y1="0" y2="0"><stop offset="0" stop-color="#dedede"/><stop offset="0.5" stop-color="#e6e6e6"/><stop offset="1" stop-color="#dcdcdc"/></linearGradient>
<rect x="1022.5" y="584.9" width="320.1" height="47.6" fill="url(#bg1)" stroke="#1a1a1a" stroke-width="1.1"/>
<svg x="1023" y="585.4" width="319" height="46.6" viewBox="1023 585.4 319 46.6">
<rect x="1084" y="592" width="60" height="34" rx="17" fill="#555" opacity="0.22" filter="url(#bh)"/>
<rect x="1210" y="591" width="62" height="34" rx="17" fill="#555" opacity="0.22" filter="url(#bh)"/>
<rect x="1029" y="604.3" width="46" height="6" rx="3" fill="#909090" opacity="0.55" filter="url(#bb)"/>
<rect x="1087" y="600.4" width="53.6" height="16.2" rx="8.1" fill="#000" opacity="1" filter="url(#bb)"/>
<rect x="1214.2" y="599.4" width="54.2" height="15.6" rx="7.8" fill="#000" opacity="1" filter="url(#bb)"/>
</svg>
<rect x="1023.2" y="661.5" width="320.1" height="48.4" fill="#dfdfdf" stroke="#1a1a1a" stroke-width="1.1"/>
<g filter="url(#bb)"><path d="M1038.5 682 C1040 674 1056 674 1068 676.5 C1080 679 1088 682.5 1096 683 C1104 680 1120 679 1134 680 C1142 681 1143 690 1136 692.5 C1124 695 1108 694.5 1098 691.5 C1090 694 1080 698.5 1066 697.5 C1050 696.5 1038 692 1038.5 682 Z" fill="#000"/></g>
<rect x="1023.2" y="728.9" width="320.1" height="47.3" fill="#e4e4e4" stroke="#1a1a1a" stroke-width="1.1"/>
<g filter="url(#bb)"><path d="M1036 748.5 C1040 746 1050 749 1066 749 C1082 749 1094 746.5 1100 748 C1103 750 1100 756 1092 758 C1080 760.5 1056 760.5 1046 758 C1038 755.5 1034 752 1036 748.5 Z" fill="#000"/>
<path d="M1218.5 750 C1221 746 1234 745.5 1246 747 C1258 748.5 1272 750 1280 752.5 C1282 755 1276 757.5 1266 759.5 C1252 761.5 1234 761 1226 758 C1219 755.5 1216.5 753 1218.5 750 Z" fill="#000"/></g>
<text transform="translate(992.1,616.6) scale(0.11982,0.13143)" font-family="Liberation Sans" font-size="200" fill="#000">30</text>
<text transform="translate(992.1,694.3) scale(0.11982,0.13143)" font-family="Liberation Sans" font-size="200" fill="#000">90</text>
<text transform="translate(992.1,761) scale(0.11982,0.13143)" font-family="Liberation Sans" font-size="200" fill="#000">46</text>
<text transform="translate(1354.7,616.6) scale(0.13206,0.13333)" font-family="Liberation Sans" font-size="200" fill="#000">IB AOPPs</text>
<text transform="translate(1354.7,695) scale(0.13250,0.13333)" font-family="Liberation Sans" font-size="200" fill="#000">IB RANK</text>
<text transform="translate(1354.7,761) scale(0.13206,0.13333)" font-family="Liberation Sans" font-size="200" fill="#000">IB RAGE</text>
<text transform="translate(1024,860.4) rotate(-45) translate(0,0) scale(0.13371,0.12971)" font-family="Liberation Sans" font-size="200" fill="#000">Input</text>
<text transform="translate(1079.1,869.2) rotate(-45) translate(0,0) scale(0.13004,0.12971)" font-family="Liberation Sans" font-size="200" fill="#000">RANK</text>
<text transform="translate(1151.3,849.3) rotate(-45) translate(0,0) scale(0.12267,0.12971)" font-family="Liberation Sans" font-size="200" fill="#000">IgG</text>
<text transform="translate(1203.8,864.2) rotate(-45) translate(0,0) scale(0.12734,0.12971)" font-family="Liberation Sans" font-size="200" fill="#000">RAGE</text>
<text transform="translate(1283.3,849.3) rotate(-45) translate(0,0) scale(0.12267,0.12971)" font-family="Liberation Sans" font-size="200" fill="#000">IgG</text>
<svg x="99.8" y="1090.4" width="580.6" height="315.9" viewBox="99.8 1090.4 580.6 315.9">
<path d="M101.2 1100 L100.94 1101.51 L101.16 1104.75 L101.03 1105.93 L101.09 1109.3 L101.05 1111.48 L101.33 1112.6 L101.27 1115.37 L101.21 1118.57 L101.05 1119.02 L101.52 1121.92 L101.12 1124 L101.22 1127.33 L101.14 1128.21 L101.35 1131.02 L101.56 1133.75 L101.25 1134.82 L101.51 1138.44 L101.09 1140.19 L101.55 1142.25 L101.2 1144.72 L101.49 1145.84 L101.45 1148.1 L101.13 1150.52 L101.3 1152.84 L101.47 1155.84 L101.65 1158.3 L101.68 1160.17 L101.31 1161.28 L101.49 1164.15 L101.53 1165.55 L101.27 1169.25 L101.5 1171.05 L101.24 1172.73 L101.69 1175.39 L101.74 1176.78 L101.45 1180.08 L101.46 1182.26 L101.53 1183.27 L101.29 1187.03 L101.3 1187.82 L101.43 1190.97 L101.72 1192.75 L101.53 1195.52 L101.42 1196.98 L101.61 1199.66 L101.31 1200.93 L101.37 1204.24 L101.68 1206.9 L101.72 1207.81 L101.73 1211.34 L101.51 1211.79 L101.54 1214.49 L101.44 1216.27 L101.42 1219.96 L101.38 1221.72 L101.48 1223.17 L101.82 1225.57 L101.48 1228.06 L101.76 1230.39 L101.86 1232.38 L101.69 1235.16 L101.66 1237.37 L101.67 1238.53 L101.49 1241.9 L101.84 1244.4 L101.81 1245.96 L101.54 1248.66 L101.52 1250.1 L101.54 1252.23 L101.64 1254.52 L101.86 1256.94 L101.62 1259.57 L101.89 1261.87 L101.52 1263.69 L101.99 1265.26 L101.63 1268.47 L101.72 1269.94 L101.98 1272.12 L101.65 1274.02 L101.74 1277.1 L101.76 1279.44 L101.6 1280.71 L101.91 1283.34 L101.85 1286.37 L101.74 1287.22 L101.61 1289.97 L101.76 1292.16 L101.62 1293.52 L101.82 1297.09 L101.79 1299.58 L101.95 1300.87 L102.06 1302.78 L101.98 1306.09 L101.95 1307.35 L101.72 1310.02 L101.78 1311.86 L101.97 1315.1 L102.05 1316.55 L102.16 1318.38 L101.91 1321.25 L102.01 1322.64 L101.94 1325.93 L101.86 1327.93 L101.76 1330.59 L102.11 1331.66 L102.28 1334.72 L101.79 1335.94 L102.03 1339.5 L101.85 1340 L101.95 1342.2 L102.01 1345.3 L102.04 1346.8 L101.82 1350.2 L102.05 1351.82 L102.08 1354.4 L102.32 1356.87 L102.23 1358.2 L101.94 1359.96 L102.32 1362.11 L102.17 1365.85 L102.04 1367.13 L102.1 1370.33 L102.25 1372.35 L101.91 1374.37 L102.14 1375.99 L102.35 1378.8 L102.41 1381.01 L102.41 1382.66 L102.2 1385 L102.58 1387.79 L102.87 1388.9 L103.3 1392.49 L103.8 1393.43 L103.89 1395.89 L104.21 1399.48 L104.61 1400.59 L105 1403.2 L107.26 1403.03 L109.56 1402.86 L111.8 1402.68 L114.08 1402.66 L116.34 1402.48 L118.61 1402.33 L120.89 1402.18 L123.18 1401.88 L125.43 1401.87 L127.73 1401.65 L130 1401.5 L132.29 1401.33 L134.61 1400.91 L136.93 1400.75 L139.26 1400.59 L141.56 1400.23 L143.86 1400.15 L146.19 1400 L148.47 1399.68 L150.79 1399.35 L153.08 1399.28 L155.39 1398.97 L157.72 1398.87 L160 1398.5 L162.25 1397.98 L164.58 1397.68 L166.91 1397.49 L169.14 1397.31 L171.47 1396.68 L173.7 1396.5 L175.72 1395.12 L177.76 1394.12 L179.97 1393.49 L181.8 1393.3 L184.02 1391.59 L185.92 1391.1 L187.83 1389.44 L190 1389 L192.33 1387.42 L194.44 1387.2 L196.57 1385.55 L198.86 1385.12 L200.68 1384.21 L203.11 1382.24 L205.08 1380.88 L207.4 1380.4 L209.37 1379.4 L210.92 1376.57 L212.57 1375.36 L214.49 1373.08 L216.29 1372.84 L217.97 1370.46 L220 1369 L221.67 1366.73 L223.07 1364.91 L224.8 1364.87 L226.85 1362.72 L228.53 1360.37 L229.84 1359.69 L231.69 1358.12 L233.3 1355.7 L234.61 1353.73 L236.19 1352.76 L237.28 1349.83 L238.58 1348.55 L240.46 1346.75 L241.42 1345.16 L243 1343 L244.48 1340.4 L246.02 1339.52 L247.19 1337.06 L248.42 1335.4 L249.93 1333.09 L251.48 1331.98 L252.8 1329.8 L253.87 1328.41 L254.44 1325.72 L255.21 1322.97 L256.15 1321.72 L256.69 1318.55 L257.68 1316.93 L258.83 1314.1 L259.19 1312.08 L260.29 1310 L261.22 1307.37 L261.9 1305.2 L262.86 1303.56 L263.52 1300.5 L264.81 1299.71 L265.88 1296.33 L266.84 1294.21 L267.49 1291.88 L268.51 1290.18 L269.49 1289.08 L270.13 1286.42 L271.32 1283.61 L272.2 1281.9 L272.55 1280.49 L273.51 1277.73 L273.79 1276.02 L274.55 1273.04 L275.23 1270.8 L276.04 1268.64 L276.5 1266.99 L277.23 1263.71 L277.51 1262.91 L278.26 1259.67 L279.01 1257.01 L279.27 1254.72 L280 1253.3 L280.79 1251.08 L281.29 1248.81 L281.97 1247.1 L282.94 1244.32 L283.7 1241.52 L284.24 1239.52 L284.69 1238.06 L285.38 1235 L286.1 1233.35 L287.18 1231 L287.5 1229.67 L288.57 1227.89 L289.1 1224.8 L289.3 1221.94 L289.96 1221.18 L290.46 1218.73 L290.73 1215.73 L291.43 1213.04 L291.78 1211.86 L292.39 1209.37 L292.84 1207.66 L293.17 1204.06 L293.4 1201.46 L294 1200 L294.65 1197.95 L294.9 1196.31 L295.36 1193.27 L295.73 1190.53 L295.97 1188.82 L296.68 1187.21 L297 1184.55 L297.28 1182.35 L297.54 1180.13 L298.2 1178.2 L300.94 1177.38 L303.3 1175.6 L303.68 1173.35 L304.47 1170.57 L304.78 1169.02 L305.21 1167.35 L305.64 1165.05 L306.51 1161.94 L306.83 1160.54 L307.57 1157.11 L307.88 1154.65 L308.57 1153 L308.92 1151.25 L309.41 1148 L310.22 1147.09 L310.75 1144.25 L311.1 1141.9 L311.78 1140.35 L311.97 1137.14 L312.71 1135.72 L313.26 1133.58 L313.78 1131.7 L314.43 1128.86 L315.1 1127.08 L315.63 1123.78 L316.12 1122.21 L316.48 1120.49 L317.17 1118.46 L317.77 1116.31 L318.4 1113.3 L319.25 1115.49 L319.98 1117.17 L320.38 1120.6 L321.23 1122.67 L322.18 1125.17 L322.8 1127.6 L324.56 1125.44 L326.2 1122.4 L326.93 1123.97 L327.48 1127.39 L327.7 1128.48 L328.23 1130.76 L328.99 1134.67 L329.49 1135.65 L329.87 1139.18 L330.6 1140.6 L332.36 1137.96 L334.29 1136.12 L335.8 1134.1 L336.49 1136.37 L336.52 1138.03 L336.82 1141.41 L337.41 1143.5 L338.12 1145.16 L338.37 1147.98 L338.86 1149.58 L339.05 1151.69 L339.38 1154.56 L340.14 1157.06 L340.46 1159.23 L340.95 1161.69 L341.37 1163.62 L341.83 1165.02 L342.2 1167.8 L343.6 1170 L345.55 1171.07 L347.3 1172.1 L348.7 1174.3 L349.48 1176.49 L349.79 1178.01 L350.39 1180.3 L351.45 1183.01 L351.71 1185.23 L352.86 1187.94 L353.14 1189.58 L353.83 1191.32 L354.64 1193.13 L355.19 1196.94 L355.99 1198.64 L356.68 1201.36 L357.03 1203.54 L358.01 1204.91 L358.25 1207.17 L359.1 1209.3 L359.57 1212.43 L359.91 1214.17 L360.66 1216.19 L360.87 1218.98 L361.33 1221.13 L362.15 1222.77 L362.17 1224.54 L362.65 1226.63 L363.28 1229.56 L363.99 1230.85 L364.3 1233.9 L365.95 1235.15 L367.45 1236.92 L368.77 1240.52 L370.57 1240.9 L371.82 1244.4 L373.4 1245.6 L373.58 1247.7 L373.98 1249.59 L374.45 1251.49 L374.62 1255.17 L375.3 1256.67 L375.32 1258.01 L375.93 1261.06 L375.96 1263.87 L376.51 1264.79 L377 1268.13 L377.2 1269.59 L377.39 1271.69 L378.2 1274.72 L378.26 1276.75 L378.96 1277.93 L379.23 1280.07 L379.65 1283.36 L380 1284.66 L380.1 1287 L380.82 1289.75 L381.38 1290.96 L382.04 1294.7 L382.64 1297.26 L383.43 1299.17 L383.8 1301.3 L384.34 1303.5 L384.87 1305.17 L385.93 1307.75 L386.27 1310.73 L387.07 1311.4 L387.49 1314.46 L388.01 1317.06 L388.84 1319.39 L389.2 1320.39 L389.92 1323.16 L390.51 1325.34 L391.18 1326.71 L392.07 1329.76 L392.73 1331.9 L393.33 1334.25 L393.75 1337.02 L394.3 1339.28 L395 1340.6 L395.71 1343.55 L396.11 1344.95 L396.89 1347.6 L397.88 1349.81 L398.26 1350.54 L399.24 1352.92 L399.83 1355.75 L400.44 1358.1 L400.84 1359.67 L401.58 1362.38 L402.41 1365.04 L403 1366.02 L403.44 1368.33 L404.36 1370.91 L404.72 1372.17 L405.71 1375.37 L406.3 1377 L407.66 1378.32 L408.66 1380.85 L409.71 1383.24 L410.73 1385.07 L412.15 1385.99 L413.05 1389.72 L414.34 1390.34 L415.41 1393.5 L416.33 1394.82 L417.5 1396.7 L419.76 1398.23 L422.05 1398.81 L424.68 1400.07 L426.96 1400.35 L429.32 1401.8 L431.5 1402.3 L433.91 1402.47 L436.32 1402.66 L438.75 1402.88 L441.19 1402.98 L443.58 1403.28 L446.02 1403.62 L448.4 1403.7 L450.61 1403.7 L452.81 1403.7 L455.02 1403.71 L457.22 1403.71 L459.43 1403.71 L461.63 1403.71 L463.84 1403.71 L466.05 1403.72 L468.25 1403.72 L470.46 1403.72 L472.66 1403.72 L474.87 1403.72 L477.07 1403.72 L479.28 1403.73 L481.49 1403.73 L483.69 1403.73 L485.9 1403.73 L488.1 1403.73 L490.31 1403.74 L492.51 1403.74 L494.72 1403.74 L496.93 1403.74 L499.13 1403.74 L501.34 1403.74 L503.54 1403.75 L505.75 1403.75 L507.95 1403.75 L510.16 1403.75 L512.37 1403.76 L514.57 1403.76 L516.78 1403.76 L518.98 1403.76 L521.19 1403.76 L523.39 1403.76 L525.6 1403.77 L527.81 1403.77 L530.01 1403.77 L532.22 1403.77 L534.42 1403.78 L536.63 1403.78 L538.83 1403.78 L541.04 1403.78 L543.25 1403.78 L545.45 1403.78 L547.66 1403.78 L549.86 1403.79 L552.07 1403.79 L554.27 1403.79 L556.48 1403.79 L558.69 1403.8 L560.89 1403.8 L563.1 1403.8 L565.3 1403.8 L567.51 1403.8 L569.71 1403.81 L571.92 1403.81 L574.13 1403.81 L576.33 1403.81 L578.54 1403.81 L580.74 1403.81 L582.95 1403.81 L585.15 1403.82 L587.36 1403.82 L589.57 1403.82 L591.77 1403.82 L593.98 1403.83 L596.18 1403.83 L598.39 1403.83 L600.59 1403.83 L602.8 1403.83 L605.01 1403.83 L607.21 1403.84 L609.42 1403.84 L611.62 1403.84 L613.83 1403.84 L616.03 1403.84 L618.24 1403.85 L620.45 1403.85 L622.65 1403.85 L624.86 1403.85 L627.06 1403.85 L629.27 1403.86 L631.47 1403.86 L633.68 1403.86 L635.89 1403.86 L638.09 1403.86 L640.3 1403.87 L642.5 1403.87 L644.71 1403.87 L646.91 1403.87 L649.12 1403.87 L651.33 1403.88 L653.53 1403.88 L655.74 1403.88 L657.94 1403.88 L660.15 1403.88 L662.35 1403.89 L664.56 1403.89 L666.77 1403.89 L668.97 1403.89 L671.18 1403.89 L673.38 1403.89 L675.59 1403.9 L677.79 1403.9 L680 1403.9" fill="none" stroke="#808080" stroke-width="3.7" stroke-linejoin="round"/>
<path d="M99.8 1395 L100.64 1397.15 L101.83 1401.05 L103 1403 L105.22 1402.99 L107.43 1402.97 L109.66 1402.95 L111.87 1402.94 L114.09 1402.91 L116.31 1402.9 L118.52 1402.89 L120.75 1402.88 L122.96 1402.85 L125.18 1402.83 L127.4 1402.82 L129.61 1402.8 L131.83 1402.78 L134.05 1402.77 L136.27 1402.77 L138.48 1402.75 L140.71 1402.73 L142.92 1402.72 L145.14 1402.69 L147.36 1402.68 L149.58 1402.68 L151.79 1402.64 L154.01 1402.64 L156.23 1402.63 L158.44 1402.6 L160.67 1402.58 L162.88 1402.57 L165.1 1402.55 L167.32 1402.55 L169.54 1402.54 L171.75 1402.52 L173.97 1402.5 L176.19 1402.48 L178.41 1402.46 L180.63 1402.44 L182.85 1402.43 L185.06 1402.42 L187.28 1402.39 L189.5 1402.37 L191.71 1402.38 L193.93 1402.36 L196.15 1402.33 L198.37 1402.33 L200.59 1402.3 L202.8 1402.28 L205.02 1402.26 L207.24 1402.27 L209.46 1402.25 L211.68 1402.23 L213.9 1402.21 L216.11 1402.18 L218.33 1402.17 L220.55 1402.17 L222.77 1402.15 L224.99 1402.13 L227.2 1402.11 L229.42 1402.11 L231.64 1402.08 L233.86 1402.08 L236.07 1402.06 L238.29 1402.04 L240.51 1402.01 L242.73 1402.01 L244.95 1402 L247.16 1401.96 L249.38 1401.97 L251.6 1401.93 L253.81 1401.94 L256.04 1401.91 L258.25 1401.9 L260.47 1401.87 L262.69 1401.87 L264.91 1401.84 L267.12 1401.84 L269.34 1401.81 L271.56 1401.81 L273.78 1401.78 L276 1401.77 L278.21 1401.75 L280.43 1401.73 L282.65 1401.72 L284.87 1401.71 L287.08 1401.7 L289.31 1401.67 L291.52 1401.66 L293.74 1401.64 L295.95 1401.63 L298.18 1401.61 L300.39 1401.6 L302.61 1401.59 L304.83 1401.55 L307.05 1401.54 L309.27 1401.53 L311.48 1401.53 L313.7 1401.5 L315.86 1400.7 L317.8 1398.99 L320.01 1398.36 L321.86 1397.67 L323.87 1396.05 L326.08 1395.76 L327.91 1395.33 L330.14 1394.17 L332.2 1392.7 L333.9 1391.74 L336.1 1391 L337.56 1389.65 L339.04 1387.5 L340.38 1385.7 L341.77 1382.66 L343.17 1381.26 L344.32 1380 L346.14 1377.54 L347.46 1376.29 L348.87 1374.87 L350.29 1371.58 L351.65 1370.19 L353 1368.6 L353.66 1366.81 L354.22 1364.63 L355.34 1361.54 L355.99 1360.57 L356.45 1358.58 L356.97 1355.39 L358.17 1354.12 L358.42 1351.13 L359.27 1349.78 L360.26 1347.04 L360.77 1345.39 L361.43 1344.2 L361.89 1341.9 L362.93 1338.78 L363.29 1337.54 L364.2 1335 L364.88 1332.57 L364.99 1330.81 L365.77 1328.3 L366.13 1325.7 L366.48 1323.76 L367.3 1321.44 L367.5 1319.91 L368 1317.36 L368.77 1315.2 L369.17 1312.78 L369.64 1311.74 L370.1 1308.68 L370.37 1306.68 L371.07 1304.22 L371.57 1302.81 L371.87 1300.94 L372.6 1298.5 L373.27 1296.62 L373.41 1294.61 L374.1 1292.57 L374.52 1290 L374.94 1287.75 L375.03 1284.37 L375.53 1283.15 L375.84 1280.29 L376.15 1277.47 L376.67 1276.68 L376.98 1273.17 L377.59 1272.4 L377.91 1268.49 L378.24 1266.79 L378.63 1265.13 L379.08 1262.02 L379.51 1259.92 L379.94 1257.49 L380.41 1255.36 L381 1253.6 L381.42 1251.14 L381.54 1248.28 L382.25 1247.57 L382.64 1245.09 L382.71 1242.19 L382.94 1240.17 L383.41 1238.84 L383.64 1236.19 L384.27 1233.9 L384.56 1230.57 L384.66 1229.2 L385.26 1227.78 L385.7 1224.22 L385.71 1223 L385.99 1221.03 L386.38 1218.24 L387.14 1215.1 L387.09 1213.86 L387.77 1210.52 L387.98 1209.71 L388.5 1206.77 L388.43 1204.95 L389.07 1202.38 L389.4 1200.3 L389.83 1198.28 L390.15 1196.05 L390.58 1194.28 L391.08 1190.77 L391.46 1189 L391.65 1186.78 L391.97 1184.94 L392.43 1182.25 L392.73 1180.71 L393.16 1178.67 L393.37 1176.56 L394.2 1174.71 L394.39 1172.66 L394.68 1169.36 L395.19 1167.32 L395.39 1166.09 L395.9 1162.86 L396.12 1161.69 L396.74 1159.82 L397.17 1156.55 L397.53 1155.46 L397.8 1152.6 L398.55 1151.18 L398.7 1147.83 L399.26 1146.68 L400.09 1144.06 L400.37 1141.63 L401.18 1138.79 L401.83 1137.84 L402.38 1136.12 L402.72 1132.79 L403.2 1130.96 L403.86 1128.42 L404.24 1126.68 L404.9 1124.5 L406.08 1121.53 L407.22 1120.57 L408.05 1118.3 L409.27 1115.97 L410.06 1113.26 L411.11 1111.11 L412.12 1110.05 L413.3 1107.7 L414 1110.62 L414.84 1112.66 L415.48 1115.09 L416.6 1117.14 L417.35 1118.62 L417.78 1121.38 L418.99 1122.87 L419.67 1125.35 L420.3 1127.3 L422.3 1125.89 L424 1123 L424.91 1124.4 L425.63 1127.16 L426.35 1129.5 L427.24 1130.44 L428.09 1133.65 L429.07 1134.95 L429.79 1137.65 L430.86 1138.65 L431.5 1141.4 L433.17 1139.44 L435.01 1137.22 L437 1136 L438.03 1137.56 L439.03 1140.27 L440.39 1142.81 L441.79 1145.59 L442.7 1147 L445.35 1146.38 L448 1146 L449.06 1147.93 L450.05 1150.84 L451.14 1152.98 L452.17 1154.61 L453.27 1156.59 L454 1158.2 L456.63 1156.41 L459 1154 L460.29 1156.16 L461.01 1158.4 L461.93 1160.82 L463.15 1162.14 L464.26 1164.88 L465.2 1166.6 L466.1 1168.51 L466.89 1170.2 L467.67 1172.46 L468.61 1174.8 L469.26 1178.3 L470.35 1179.54 L470.83 1183.1 L471.88 1183.72 L472.77 1187.33 L473.6 1189 L474.49 1190.87 L475.29 1193.26 L476.36 1196.28 L476.8 1198.2 L477.97 1199.72 L478.45 1202.62 L479.55 1204.61 L480.34 1207.18 L481.27 1208.53 L482 1211.5 L482.79 1212.98 L483.6 1216.47 L484.69 1218.44 L485.45 1219.44 L486.15 1222.56 L487.45 1224.59 L487.97 1226.76 L489 1228.4 L489.68 1230.29 L489.93 1233.75 L490.24 1235.39 L491.02 1237.48 L491.56 1239.6 L491.62 1241.59 L492.17 1244.09 L492.67 1246.91 L493.27 1249.1 L493.72 1250.03 L493.96 1252.36 L494.72 1255.03 L495.24 1258.22 L495.72 1260.05 L496 1262 L496.36 1263.39 L497 1266.83 L497.71 1267.68 L497.76 1270.44 L498.56 1272.42 L499.1 1275.35 L499.68 1277.8 L499.82 1279.97 L500.27 1281.52 L501.15 1282.78 L501.37 1285.95 L501.96 1287.06 L502.26 1290.1 L502.8 1291.43 L503.37 1294.27 L503.77 1296.05 L504.5 1298.5 L505.03 1300.22 L505.93 1302.76 L506.59 1305.76 L507.33 1306.67 L507.83 1308.66 L508.13 1311.71 L509.04 1313.02 L509.56 1316.18 L510.37 1317.25 L511.15 1319.25 L511.56 1322.48 L512.11 1323.82 L512.9 1326.6 L513.51 1329.53 L513.92 1330.3 L514.6 1334.04 L515.05 1335.57 L515.98 1338.41 L516.3 1340.25 L517.06 1342.71 L517.93 1344.41 L518.37 1345.71 L518.8 1349.34 L519.58 1350.36 L519.93 1353.57 L520.86 1355.46 L521.3 1357.4 L522.17 1358.98 L522.69 1362.28 L523.52 1363.52 L524.04 1366.49 L524.9 1367.37 L525.41 1369.59 L526.12 1372.08 L526.64 1373.38 L527.73 1376.26 L528.04 1378.4 L529.08 1380.31 L529.7 1382.7 L530.74 1385.37 L532.27 1386.71 L533.39 1389.01 L534.54 1390.4 L535.63 1392.22 L536.82 1393.94 L538.1 1396.7 L540.51 1397.61 L542.38 1398.69 L545.04 1400.57 L546.99 1400.92 L549.4 1402.9 L551.61 1402.91 L553.83 1402.92 L556.04 1402.94 L558.25 1402.96 L560.47 1402.96 L562.68 1402.98 L564.9 1402.98 L567.11 1402.99 L569.32 1403 L571.54 1403.02 L573.75 1403.04 L575.96 1403.04 L578.18 1403.05 L580.39 1403.06 L582.6 1403.08 L584.82 1403.09 L587.03 1403.1 L589.24 1403.11 L591.46 1403.12 L593.67 1403.13 L595.88 1403.14 L598.1 1403.16 L600.31 1403.16 L602.53 1403.18 L604.74 1403.19 L606.95 1403.21 L609.17 1403.22 L611.38 1403.23 L613.59 1403.25 L615.81 1403.25 L618.02 1403.27 L620.23 1403.28 L622.45 1403.29 L624.66 1403.31 L626.87 1403.32 L629.09 1403.32 L631.3 1403.34 L633.51 1403.36 L635.73 1403.36 L637.94 1403.38 L640.15 1403.39 L642.37 1403.41 L644.58 1403.42 L646.79 1403.43 L649.01 1403.43 L651.23 1403.45 L653.44 1403.46 L655.65 1403.47 L657.87 1403.48 L660.08 1403.49 L662.29 1403.5 L664.51 1403.52 L666.72 1403.53 L668.93 1403.54 L671.15 1403.55 L673.36 1403.56 L675.57 1403.57 L677.79 1403.59 L680 1403.6" fill="none" stroke="#10a4ac" stroke-width="3.7" stroke-linejoin="round"/>
<path d="M99.8 1360 L100.01 1362.55 L100.31 1364.22 L100.39 1367.64 L100.7 1368.69 L100.73 1371.77 L100.81 1374.71 L101 1376.09 L101.39 1378.74 L101.21 1380.47 L101.49 1382.32 L101.71 1385.86 L101.79 1388.37 L102.22 1390.16 L102.26 1391.69 L102.09 1395.55 L102.5 1397 L103.55 1398.58 L105.05 1401.65 L106 1403.3 L108.21 1403.29 L110.42 1403.28 L112.63 1403.27 L114.84 1403.26 L117.05 1403.25 L119.26 1403.25 L121.47 1403.24 L123.68 1403.23 L125.89 1403.22 L128.1 1403.21 L130.31 1403.2 L132.52 1403.2 L134.73 1403.19 L136.94 1403.18 L139.15 1403.17 L141.36 1403.16 L143.57 1403.15 L145.78 1403.14 L147.99 1403.14 L150.2 1403.13 L152.41 1403.11 L154.62 1403.11 L156.83 1403.1 L159.04 1403.1 L161.25 1403.08 L163.46 1403.07 L165.67 1403.07 L167.88 1403.05 L170.09 1403.05 L172.3 1403.04 L174.51 1403.03 L176.72 1403.02 L178.93 1403.02 L181.14 1403.01 L183.35 1403 L185.56 1402.99 L187.77 1402.98 L189.98 1402.98 L192.19 1402.97 L194.39 1402.95 L196.6 1402.95 L198.82 1402.93 L201.02 1402.93 L203.23 1402.92 L205.45 1402.91 L207.66 1402.9 L209.86 1402.9 L212.07 1402.89 L214.29 1402.87 L216.49 1402.86 L218.7 1402.86 L220.91 1402.85 L223.12 1402.85 L225.33 1402.84 L227.54 1402.83 L229.75 1402.81 L231.96 1402.81 L234.17 1402.8 L236.38 1402.79 L238.59 1402.78 L240.8 1402.77 L243.01 1402.76 L245.22 1402.75 L247.43 1402.74 L249.64 1402.74 L251.85 1402.73 L254.06 1402.72 L256.27 1402.71 L258.48 1402.7 L260.69 1402.7 L262.9 1402.69 L265.11 1402.68 L267.32 1402.67 L269.53 1402.66 L271.74 1402.65 L273.95 1402.65 L276.16 1402.64 L278.37 1402.63 L280.58 1402.61 L282.79 1402.61 L285 1402.6 L287.34 1401.96 L289.63 1401.18 L291.85 1400.71 L294.02 1400.66 L296.35 1400.06 L298.59 1399.44 L301 1398.81 L303.12 1398.29 L305.55 1397.83 L307.71 1396.98 L310 1396.5 L311.97 1395.92 L314.11 1394.25 L316.19 1393.24 L318.45 1392.72 L320.5 1391.71 L322.85 1390.34 L324.73 1389.97 L327 1389 L328.36 1387.82 L329.32 1384.41 L330.63 1384.1 L331.79 1381.34 L332.65 1379.51 L334.01 1378.32 L335 1375.51 L336.04 1373.64 L337.31 1371.25 L338.41 1370.46 L339.43 1367.34 L340.61 1366.5 L341.75 1364.52 L343 1362 L344.06 1360.59 L344.83 1357.28 L345.47 1356.33 L346.2 1353.85 L347.37 1352.36 L347.92 1348.81 L348.58 1347.09 L349.69 1344.94 L350.67 1343.52 L351.4 1341.76 L352.07 1339.35 L353 1337 L353.42 1334.44 L353.79 1333.17 L354.72 1329.63 L355.12 1327.51 L355.46 1325.79 L356.22 1323.82 L356.51 1321.51 L356.87 1319.13 L357.26 1316.54 L358.03 1315.66 L358.59 1312.63 L359.26 1310.12 L359.46 1308.41 L359.83 1307.36 L360.62 1303.69 L360.83 1302.73 L361.5 1300 L361.86 1297.39 L362.24 1295.19 L362.82 1292.91 L363.25 1290.21 L363.64 1288.9 L363.95 1287.16 L364.71 1284.53 L364.85 1281.4 L365.39 1279.37 L365.57 1277.56 L366.01 1275.5 L366.74 1272.12 L367.1 1270.19 L367.36 1268.9 L368.13 1265.92 L368.44 1263.72 L368.96 1261.16 L369.24 1258.75 L369.61 1257.69 L370 1255 L370.57 1253.27 L370.73 1250.4 L371.12 1248.64 L371.46 1246.55 L371.88 1244.75 L372.17 1242.43 L372.58 1239.33 L372.96 1237.09 L373.33 1235.81 L373.71 1233.65 L373.95 1230.71 L374.09 1228.75 L374.76 1226.04 L374.74 1224.55 L375.47 1221.35 L375.41 1218.97 L375.98 1218.06 L376.16 1215.77 L376.41 1212.52 L377.03 1211.3 L377.35 1208.96 L377.62 1206.2 L378.06 1203.31 L378.4 1202 L378.61 1199.52 L379.22 1197.03 L379.37 1196.25 L379.96 1193 L380.39 1191.33 L380.78 1188.84 L381.04 1185.8 L381.31 1184.12 L381.58 1181.86 L382.29 1179.4 L382.24 1177.39 L382.64 1174.62 L383.41 1173.35 L383.3 1171.11 L383.75 1168.81 L384.54 1167.49 L384.61 1164.93 L385.03 1161.46 L385.4 1160 L385.81 1158.36 L386.48 1156 L387.06 1153.18 L387.38 1151.77 L387.96 1149.67 L388.4 1146.51 L388.6 1144.81 L388.93 1142.05 L389.53 1139.67 L389.9 1138.27 L390.43 1135 L391.16 1134.4 L391.32 1131.73 L391.71 1128.7 L392.4 1127 L393.6 1125.21 L395.2 1123.48 L396.64 1121.31 L398.14 1118.95 L399.17 1116.14 L400.7 1114.7 L402.66 1116.71 L404.31 1118.38 L406 1119 L406.5 1121 L406.5 1123.22 L407.23 1126.23 L407.07 1126.82 L407.64 1130.63 L408.2 1132.67 L408.1 1133.72 L408.81 1136.32 L409 1138.6 L410.57 1140.9 L412.07 1141.51 L414 1143 L416.26 1142.29 L418.37 1140.67 L420.3 1140 L421.5 1138.75 L422.43 1135.64 L424.07 1133.04 L425.11 1131.98 L426 1130.3 L427.3 1127.3 L428.63 1129.06 L429.91 1132.84 L430.81 1133.73 L432 1137 L434.63 1135.83 L437 1134.4 L438.33 1135.96 L439.39 1139.59 L440.72 1140.77 L441.71 1143.6 L443 1146 L444.78 1148.15 L446.83 1147.64 L448.4 1149.8 L450.75 1149.12 L453.13 1148.88 L455.4 1148.4 L456.31 1151.24 L457.03 1152 L457.26 1155.19 L458.18 1157.3 L458.87 1158.75 L459.73 1160.76 L460.3 1162.92 L461.09 1164.43 L461.68 1167.44 L462.4 1169.4 L464.6 1171.52 L466.53 1173.03 L468.81 1173.39 L470.8 1175 L471.53 1176.86 L472.28 1178.37 L473.11 1181.08 L473.34 1182.7 L474.21 1185.14 L475.18 1187.45 L475.92 1189.39 L476.4 1191.9 L476.83 1195 L477.61 1197.27 L477.72 1198 L478.54 1200.77 L478.73 1202.62 L479.36 1205.3 L480.05 1208.82 L480.29 1210.76 L481.03 1213.18 L481.76 1215.56 L482 1217.1 L482.14 1219.77 L482.82 1221.37 L482.76 1224.3 L483.41 1226.54 L483.82 1228.74 L483.77 1231.36 L484.6 1232.54 L484.84 1235.84 L484.99 1237 L485.42 1240.04 L485.65 1242.14 L486.28 1243.8 L486.59 1245.62 L486.75 1249.12 L486.99 1250.37 L487.26 1252.76 L487.65 1255.09 L487.91 1257.66 L488.23 1259.31 L488.7 1262.72 L488.93 1263.65 L489.54 1266.62 L489.52 1269.56 L489.9 1271.2 L490.4 1273.2 L490.65 1275.96 L491.1 1277.77 L491.72 1280.07 L491.84 1281.52 L492.38 1284.09 L492.83 1285.43 L492.87 1287.48 L493.66 1289.96 L494.01 1292.64 L494.51 1295.13 L494.84 1296.33 L495.25 1299.01 L495.18 1302.03 L495.67 1303.83 L495.93 1305.61 L496.56 1307.8 L497.14 1309.68 L497.58 1311.62 L497.99 1314.01 L498.22 1317.34 L498.61 1319.37 L498.9 1320.9 L499.17 1323.89 L499.64 1325.51 L500.56 1327.82 L501 1329.68 L501.63 1331.14 L502.09 1334.33 L502.19 1335.86 L502.82 1337.44 L503.54 1340.86 L503.98 1341.53 L504.46 1345.29 L504.95 1347.44 L505.57 1349.18 L505.95 1350.6 L506.46 1352.77 L506.68 1354.95 L507.3 1357.4 L508.13 1358.68 L508.98 1361.21 L509.95 1362.86 L511.16 1366.42 L511.88 1368.33 L513.1 1369.2 L513.87 1372.32 L514.59 1374.99 L515.86 1376.44 L516.65 1379.08 L517.33 1381.27 L518.5 1382.7 L520.07 1384.21 L521.48 1386.51 L522.95 1388.89 L524.67 1390.88 L526.52 1392.56 L527.62 1393.44 L529.46 1396.56 L531.01 1397.38 L532.5 1399.5 L534.97 1399.96 L537.34 1400.44 L539.82 1401.03 L542.09 1401.53 L544.55 1401.73 L546.98 1402.27 L549.4 1402.9 L551.62 1402.91 L553.83 1402.91 L556.04 1402.93 L558.25 1402.94 L560.47 1402.94 L562.68 1402.96 L564.9 1402.95 L567.11 1402.96 L569.32 1402.98 L571.54 1402.98 L573.75 1402.99 L575.96 1403 L578.18 1403.02 L580.39 1403.02 L582.6 1403.03 L584.82 1403.03 L587.03 1403.05 L589.25 1403.06 L591.46 1403.06 L593.67 1403.07 L595.88 1403.07 L598.1 1403.08 L600.31 1403.09 L602.53 1403.1 L604.74 1403.12 L606.95 1403.12 L609.17 1403.13 L611.38 1403.14 L613.59 1403.15 L615.81 1403.15 L618.02 1403.16 L620.23 1403.18 L622.45 1403.17 L624.66 1403.19 L626.87 1403.2 L629.09 1403.2 L631.3 1403.21 L633.52 1403.23 L635.73 1403.23 L637.94 1403.24 L640.16 1403.25 L642.37 1403.25 L644.58 1403.27 L646.8 1403.27 L649.01 1403.28 L651.22 1403.3 L653.44 1403.3 L655.65 1403.31 L657.86 1403.32 L660.08 1403.32 L662.29 1403.33 L664.51 1403.34 L666.72 1403.35 L668.93 1403.36 L671.15 1403.37 L673.36 1403.37 L675.57 1403.39 L677.79 1403.39 L680 1403.4" fill="none" stroke="#10f010" stroke-width="3.3" stroke-linejoin="round"/>
<path d="M99.8 1370 L100.04 1372.49 L100.44 1375.38 L100.68 1376.76 L100.94 1379.2 L100.82 1380.94 L101.16 1383.38 L101.25 1386.53 L101.75 1389.12 L101.6 1390.21 L101.92 1393.43 L102.46 1396.21 L102.5 1398 L104.48 1400.86 L106 1403.4 L108.2 1403.37 L110.4 1403.35 L112.61 1403.34 L114.81 1403.32 L117.01 1403.29 L119.22 1403.28 L121.42 1403.27 L123.62 1403.23 L125.82 1403.23 L128.03 1403.19 L130.23 1403.17 L132.43 1403.15 L134.63 1403.15 L136.83 1403.12 L139.03 1403.09 L141.24 1403.07 L143.44 1403.05 L145.64 1403.04 L147.85 1403.01 L150.05 1402.99 L152.25 1402.99 L154.46 1402.97 L156.66 1402.94 L158.86 1402.92 L161.06 1402.89 L163.27 1402.88 L165.47 1402.85 L167.67 1402.84 L169.87 1402.81 L172.08 1402.78 L174.28 1402.77 L176.48 1402.76 L178.68 1402.74 L180.88 1402.72 L183.09 1402.68 L185.29 1402.68 L187.49 1402.66 L189.7 1402.62 L191.9 1402.61 L194.1 1402.58 L196.31 1402.58 L198.51 1402.56 L200.71 1402.53 L202.91 1402.51 L205.11 1402.49 L207.32 1402.47 L209.52 1402.45 L211.73 1402.42 L213.93 1402.42 L216.13 1402.38 L218.33 1402.38 L220.53 1402.35 L222.74 1402.33 L224.93 1402.3 L227.14 1402.29 L229.34 1402.26 L231.55 1402.25 L233.75 1402.24 L235.95 1402.21 L238.15 1402.2 L240.36 1402.16 L242.56 1402.14 L244.76 1402.13 L246.96 1402.09 L249.16 1402.07 L251.37 1402.05 L253.57 1402.03 L255.78 1402.03 L257.98 1402.01 L260.18 1401.99 L262.38 1401.97 L264.58 1401.94 L266.78 1401.92 L268.99 1401.91 L271.19 1401.87 L273.4 1401.86 L275.6 1401.84 L277.8 1401.82 L280 1401.8 L282.07 1401.27 L284.24 1400.61 L286.4 1400.44 L288.65 1399.61 L290.81 1398.97 L293.02 1398.61 L295.08 1398.21 L297.3 1397.76 L299.32 1397.55 L301.56 1396.64 L303.74 1396.58 L305.9 1396 L308 1395.3 L310.05 1393.86 L312.03 1393.79 L314.22 1391.95 L316.59 1390.52 L318.75 1390.14 L320.53 1389.46 L322.86 1387.3 L324.9 1386.9 L325.99 1385.37 L326.98 1382.79 L328.39 1380.53 L329.17 1378.59 L330.39 1377.27 L331.38 1374.73 L332.4 1374.01 L333.74 1372.19 L334.59 1370.55 L336 1367.97 L337.18 1365.15 L338.16 1363.66 L338.95 1362.57 L340.3 1360.2 L340.86 1358.52 L341.81 1356.62 L342.51 1353.87 L343.83 1351.86 L344.45 1349.73 L345.25 1347.42 L345.89 1345.13 L347.02 1343.08 L347.76 1342.09 L348.7 1339.83 L349.5 1337.37 L350.1 1335 L350.62 1332.14 L350.87 1330.35 L351.59 1328.54 L351.84 1326.56 L352.52 1324.07 L352.88 1322.62 L353.76 1320.42 L353.89 1316.96 L354.85 1315.89 L355.34 1313.36 L355.76 1310.69 L355.87 1309.57 L356.69 1306.83 L357.12 1305.17 L357.46 1301.9 L358.08 1300.23 L358.6 1298.5 L359.27 1295.69 L359.46 1293.51 L359.82 1291.23 L360.13 1289.96 L360.83 1287.57 L361.39 1285.85 L361.55 1283.46 L362.06 1281.04 L362.24 1279.08 L362.9 1275.37 L362.95 1273.56 L363.72 1271.25 L363.99 1269.77 L364.34 1266.24 L364.86 1264.56 L365.4 1261.87 L365.93 1261.21 L366.29 1258.12 L366.42 1255.03 L367 1253.6 L367.45 1252.18 L367.6 1249.74 L368.3 1247.51 L368.41 1245.09 L368.66 1242.48 L368.95 1240.8 L369.32 1238.66 L369.92 1235.33 L369.93 1233.93 L370.42 1231.6 L371.05 1228.79 L371.01 1227.09 L371.66 1224.82 L371.64 1222.43 L372.32 1221.04 L372.48 1217.77 L372.88 1216.24 L373.19 1214.12 L373.68 1211.62 L373.78 1209.85 L374.33 1206.87 L374.64 1205.51 L375.28 1203.03 L375.4 1200.3 L376.02 1197.83 L376.4 1196.32 L376.65 1194.34 L376.7 1190.59 L377.05 1190.02 L377.61 1186.11 L378.06 1185.33 L378.2 1182.57 L378.58 1180.38 L378.97 1177.84 L379.52 1176.35 L380.09 1173.28 L380.45 1171.24 L380.52 1169.14 L380.82 1167.06 L381.47 1165.59 L381.92 1162.44 L381.93 1159.84 L382.4 1158.2 L382.91 1155.66 L383.1 1153.34 L383.96 1151.81 L384.33 1148.87 L384.92 1146.9 L385.1 1144.3 L385.61 1142.31 L386.04 1140.14 L386.57 1137.72 L386.91 1135.32 L387.5 1134.37 L387.74 1132.08 L388.46 1128.12 L388.9 1126.35 L389.4 1124.5 L390.18 1122.9 L391.61 1121.01 L392.47 1118.8 L393.84 1116 L394.68 1113.15 L395.81 1111.47 L396.86 1108.77 L397.8 1107.1 L399.9 1108.11 L402.37 1110.5 L404.9 1111.9 L405.27 1114.3 L405.97 1116.02 L406.16 1119.08 L406.34 1121.55 L407.05 1123.05 L407.65 1125.68 L407.95 1128.39 L408.22 1129.2 L408.77 1132.49 L409.1 1134.4 L410.3 1135.83 L412.05 1137.75 L413.11 1141.09 L414.95 1143.24 L416.17 1145.49 L417.5 1147 L418.29 1148.55 L419.4 1150.99 L420.16 1153.44 L420.96 1155.11 L421.66 1157.6 L422.89 1159.06 L423.52 1161.52 L424.26 1164.81 L425.2 1165.83 L426.09 1168.97 L427.07 1170.94 L427.92 1173.6 L428.7 1175 L431.53 1174.33 L434.32 1174.11 L437.1 1173.6 L439.11 1175 L440.82 1177.66 L442.75 1179.25 L444.79 1179.69 L446.52 1181.66 L448.4 1183.5 L449.68 1185.13 L450.25 1188.32 L451.48 1189.63 L452.67 1192.29 L453.42 1194.8 L454.67 1196.72 L455.53 1198.77 L456.8 1200.3 L457.32 1202.92 L457.94 1205.46 L458.89 1206.7 L459.38 1209.06 L460.3 1211.71 L461.23 1214.38 L461.6 1216.84 L462.44 1218.41 L463.31 1221.23 L463.8 1222.7 L465.29 1221.11 L466.65 1217.95 L468 1215.7 L468.45 1218.17 L469.39 1220.48 L469.5 1221.66 L470.37 1225.1 L471.05 1227.17 L471.72 1228.89 L471.98 1231.66 L472.66 1234.25 L473.25 1235.26 L473.61 1237.65 L474.49 1240.64 L475 1242.4 L475.96 1244.29 L476.6 1247.04 L477.1 1248.08 L477.95 1250.72 L478.93 1254 L479.87 1255.3 L480.56 1257.34 L481.48 1259 L482 1262 L482.67 1264.96 L483.24 1265.62 L483.61 1269.03 L484.02 1270.7 L484.56 1273.25 L485.2 1274.15 L485.55 1276.96 L486.11 1278.69 L486.69 1281.03 L486.81 1283.03 L487.23 1284.78 L487.81 1288.48 L488.18 1289.9 L488.9 1291.52 L489.3 1293.6 L489.91 1297.06 L490.4 1298.5 L491.12 1300.38 L491.4 1303.47 L492.17 1304.55 L492.89 1307.16 L493.57 1308.72 L493.94 1311.77 L494.53 1313.44 L495.47 1317 L495.62 1319.07 L496.5 1320.84 L497.34 1322.31 L497.67 1324.17 L498.39 1326.93 L498.9 1329.4 L499.32 1332.14 L500.16 1334.37 L500.63 1336.5 L500.91 1338.41 L501.63 1340.86 L502.16 1343.72 L502.65 1344.58 L503.19 1346.81 L504.18 1348.69 L504.51 1351.61 L504.93 1354.81 L505.7 1355.38 L506.07 1359.24 L506.8 1361.41 L507.3 1363 L508.21 1364.72 L509.11 1367.68 L510.39 1369.96 L511.5 1371.35 L512.57 1372.66 L513.61 1375.34 L514.45 1376.76 L515.52 1379.11 L516.52 1380.81 L517.69 1382.92 L518.5 1385.5 L519.92 1387.13 L521.46 1388.26 L522.54 1391.1 L524.23 1392.17 L525.53 1393.82 L526.94 1396.02 L528.23 1398.04 L529.7 1399.5 L532.01 1400.57 L534.13 1401.57 L536.31 1402.47 L538.83 1402.43 L540.9 1403.7 L543.11 1403.7 L545.32 1403.7 L547.52 1403.7 L549.73 1403.71 L551.94 1403.71 L554.15 1403.71 L556.36 1403.71 L558.56 1403.71 L560.77 1403.71 L562.98 1403.71 L565.19 1403.72 L567.4 1403.72 L569.6 1403.72 L571.81 1403.72 L574.02 1403.72 L576.23 1403.72 L578.44 1403.73 L580.64 1403.73 L582.85 1403.73 L585.06 1403.73 L587.27 1403.73 L589.47 1403.73 L591.68 1403.74 L593.89 1403.74 L596.1 1403.74 L598.31 1403.74 L600.51 1403.74 L602.72 1403.75 L604.93 1403.75 L607.14 1403.75 L609.35 1403.75 L611.55 1403.75 L613.76 1403.75 L615.97 1403.75 L618.18 1403.75 L620.39 1403.76 L622.59 1403.76 L624.8 1403.76 L627.01 1403.76 L629.22 1403.76 L631.43 1403.77 L633.63 1403.77 L635.84 1403.77 L638.05 1403.77 L640.26 1403.77 L642.46 1403.77 L644.67 1403.77 L646.88 1403.78 L649.09 1403.78 L651.3 1403.78 L653.5 1403.78 L655.71 1403.78 L657.92 1403.78 L660.13 1403.79 L662.34 1403.79 L664.54 1403.79 L666.75 1403.79 L668.96 1403.79 L671.17 1403.79 L673.38 1403.8 L675.58 1403.8 L677.79 1403.8 L680 1403.8" fill="none" stroke="#ff0000" stroke-width="3.9" stroke-linejoin="round"/>
<rect x="99.8" y="1307.1" width="307.9" height="3.6" fill="#000"/>
<rect x="407.7" y="1322.8" width="272.7" height="3.6" fill="#000"/>
<rect x="405.9" y="1301.3" width="3.6" height="30.3" fill="#000"/>
<rect x="99.8" y="1301.7" width="1.9" height="14.4" fill="#000"/>
<rect x="678.6" y="1318.5" width="1.8" height="12" fill="#555"/>
</svg>
<rect x="99.8" y="1090.4" width="580.6" height="314.4" fill="none" stroke="#000" stroke-width="1.2"/>
<rect x="83.9" y="1103.3" width="16.1" height="4.6" fill="#000"/>
<rect x="92.8" y="1119.67" width="7.2" height="2.1" fill="#000"/>
<rect x="92.8" y="1134.8" width="7.2" height="2.1" fill="#000"/>
<rect x="92.8" y="1149.92" width="7.2" height="2.1" fill="#000"/>
<rect x="83.9" y="1163.8" width="16.1" height="4.6" fill="#000"/>
<rect x="92.8" y="1179.77" width="7.2" height="2.1" fill="#000"/>
<rect x="92.8" y="1194.5" width="7.2" height="2.1" fill="#000"/>
<rect x="92.8" y="1209.23" width="7.2" height="2.1" fill="#000"/>
<rect x="83.9" y="1222.7" width="16.1" height="4.6" fill="#000"/>
<rect x="92.8" y="1239.1" width="7.2" height="2.1" fill="#000"/>
<rect x="92.8" y="1254.25" width="7.2" height="2.1" fill="#000"/>
<rect x="92.8" y="1269.4" width="7.2" height="2.1" fill="#000"/>
<rect x="83.9" y="1283.3" width="16.1" height="4.6" fill="#000"/>
<rect x="92.8" y="1299.3" width="7.2" height="2.1" fill="#000"/>
<rect x="92.8" y="1314.05" width="7.2" height="2.1" fill="#000"/>
<rect x="92.8" y="1328.8" width="7.2" height="2.1" fill="#000"/>
<rect x="83.9" y="1342.3" width="16.1" height="4.6" fill="#000"/>
<rect x="92.8" y="1358.62" width="7.2" height="2.1" fill="#000"/>
<rect x="92.8" y="1373.7" width="7.2" height="2.1" fill="#000"/>
<rect x="92.8" y="1388.78" width="7.2" height="2.1" fill="#000"/>
<rect x="83.9" y="1402.6" width="16.1" height="4.6" fill="#000"/>
<rect x="99.5" y="1405.2" width="4.8" height="8.6" fill="#000"/>
<rect x="194.9" y="1405.2" width="4.8" height="8.6" fill="#000"/>
<rect x="292.3" y="1405.2" width="4.8" height="8.6" fill="#000"/>
<rect x="389.8" y="1405.2" width="4.8" height="8.6" fill="#000"/>
<rect x="487.5" y="1405.2" width="4.8" height="8.6" fill="#000"/>
<rect x="584.8" y="1405.2" width="4.8" height="8.6" fill="#000"/>
<rect x="128.22" y="1405.2" width="1.8" height="3.8" fill="#000"/>
<rect x="145.37" y="1405.2" width="1.8" height="3.8" fill="#000"/>
<rect x="157.54" y="1405.2" width="1.8" height="3.8" fill="#000"/>
<rect x="166.08" y="1405.2" width="3.6" height="6" fill="#000"/>
<rect x="174.69" y="1405.2" width="1.8" height="3.8" fill="#000"/>
<rect x="181.21" y="1405.2" width="1.8" height="3.8" fill="#000"/>
<rect x="186.86" y="1405.2" width="1.8" height="3.8" fill="#000"/>
<rect x="191.84" y="1405.2" width="1.8" height="3.8" fill="#000"/>
<rect x="225.62" y="1405.2" width="1.8" height="3.8" fill="#000"/>
<rect x="242.77" y="1405.2" width="1.8" height="3.8" fill="#000"/>
<rect x="254.94" y="1405.2" width="1.8" height="3.8" fill="#000"/>
<rect x="263.48" y="1405.2" width="3.6" height="6" fill="#000"/>
<rect x="272.09" y="1405.2" width="1.8" height="3.8" fill="#000"/>
<rect x="278.61" y="1405.2" width="1.8" height="3.8" fill="#000"/>
<rect x="284.26" y="1405.2" width="1.8" height="3.8" fill="#000"/>
<rect x="289.24" y="1405.2" width="1.8" height="3.8" fill="#000"/>
<rect x="323.02" y="1405.2" width="1.8" height="3.8" fill="#000"/>
<rect x="340.17" y="1405.2" width="1.8" height="3.8" fill="#000"/>
<rect x="352.34" y="1405.2" width="1.8" height="3.8" fill="#000"/>
<rect x="360.88" y="1405.2" width="3.6" height="6" fill="#000"/>
<rect x="369.49" y="1405.2" width="1.8" height="3.8" fill="#000"/>
<rect x="376.01" y="1405.2" width="1.8" height="3.8" fill="#000"/>
<rect x="381.66" y="1405.2" width="1.8" height="3.8" fill="#000"/>
<rect x="386.64" y="1405.2" width="1.8" height="3.8" fill="#000"/>
<rect x="420.42" y="1405.2" width="1.8" height="3.8" fill="#000"/>
<rect x="437.57" y="1405.2" width="1.8" height="3.8" fill="#000"/>
<rect x="449.74" y="1405.2" width="1.8" height="3.8" fill="#000"/>
<rect x="458.28" y="1405.2" width="3.6" height="6" fill="#000"/>
<rect x="466.89" y="1405.2" width="1.8" height="3.8" fill="#000"/>
<rect x="473.41" y="1405.2" width="1.8" height="3.8" fill="#000"/>
<rect x="479.06" y="1405.2" width="1.8" height="3.8" fill="#000"/>
<rect x="484.04" y="1405.2" width="1.8" height="3.8" fill="#000"/>
<rect x="517.82" y="1405.2" width="1.8" height="3.8" fill="#000"/>
<rect x="534.97" y="1405.2" width="1.8" height="3.8" fill="#000"/>
<rect x="547.14" y="1405.2" width="1.8" height="3.8" fill="#000"/>
<rect x="555.68" y="1405.2" width="3.6" height="6" fill="#000"/>
<rect x="564.29" y="1405.2" width="1.8" height="3.8" fill="#000"/>
<rect x="570.81" y="1405.2" width="1.8" height="3.8" fill="#000"/>
<rect x="576.46" y="1405.2" width="1.8" height="3.8" fill="#000"/>
<rect x="581.44" y="1405.2" width="1.8" height="3.8" fill="#000"/>
<rect x="615.22" y="1405.2" width="1.8" height="3.8" fill="#000"/>
<rect x="632.37" y="1405.2" width="1.8" height="3.8" fill="#000"/>
<rect x="644.54" y="1405.2" width="1.8" height="3.8" fill="#000"/>
<rect x="653.08" y="1405.2" width="3.6" height="6" fill="#000"/>
<rect x="661.69" y="1405.2" width="1.8" height="3.8" fill="#000"/>
<rect x="668.21" y="1405.2" width="1.8" height="3.8" fill="#000"/>
<rect x="673.86" y="1405.2" width="1.8" height="3.8" fill="#000"/>
<rect x="678.84" y="1405.2" width="1.8" height="3.8" fill="#000"/>
<text transform="translate(19.4,1066.7) scale(0.17218,0.21087)" font-family="Liberation Sans" font-size="200" font-weight="bold" stroke="#000" stroke-width="3" fill="#000">E</text>
<text transform="translate(328.3,1076.6) scale(0.14251,0.14275)" font-family="Liberation Sans" font-size="200" fill="#000">293T cells</text>
<text transform="translate(32,1111.51) scale(0.12275,0.14648)" font-family="Liberation Sans" font-size="200" fill="#000">100</text>
<text transform="translate(45.2,1176.21) scale(0.12523,0.14437)" font-family="Liberation Sans" font-size="200" fill="#000">80</text>
<text transform="translate(44.8,1235.41) scale(0.12703,0.14718)" font-family="Liberation Sans" font-size="200" fill="#000">60</text>
<text transform="translate(44.3,1295.71) scale(0.12928,0.14507)" font-family="Liberation Sans" font-size="200" fill="#000">40</text>
<text transform="translate(44.8,1356.51) scale(0.12703,0.14648)" font-family="Liberation Sans" font-size="200" fill="#000">20</text>
<text transform="translate(60.3,1410.41) scale(0.11441,0.14718)" font-family="Liberation Sans" font-size="200" fill="#000">0</text>
<text transform="translate(20.24,1364.9) rotate(-90) scale(0.14941,0.13476)" font-family="Liberation Sans" font-size="200" fill="#000">Counts(% of total)</text>
<text transform="translate(79.6,1445.9) scale(0.12117,0.14786)" font-family="Liberation Sans" font-size="200" fill="#000">10</text>
<text transform="translate(108.6,1437.5) scale(0.07117,0.09286)" font-family="Liberation Sans" font-size="200" fill="#000">0</text>
<text transform="translate(188.1,1445.9) scale(0.12117,0.14786)" font-family="Liberation Sans" font-size="200" fill="#000">10</text>
<text transform="translate(218,1437.5) scale(0.04324,0.09286)" font-family="Liberation Sans" font-size="200" fill="#000">1</text>
<text transform="translate(284,1445.9) scale(0.12117,0.14786)" font-family="Liberation Sans" font-size="200" fill="#000">10</text>
<text transform="translate(313,1437.5) scale(0.07027,0.09286)" font-family="Liberation Sans" font-size="200" fill="#000">2</text>
<text transform="translate(382,1445.9) scale(0.12117,0.14786)" font-family="Liberation Sans" font-size="200" fill="#000">10</text>
<text transform="translate(411,1437.5) scale(0.07027,0.09286)" font-family="Liberation Sans" font-size="200" fill="#000">3</text>
<text transform="translate(480.3,1445.9) scale(0.12117,0.14786)" font-family="Liberation Sans" font-size="200" fill="#000">10</text>
<text transform="translate(509.3,1437.5) scale(0.07387,0.09286)" font-family="Liberation Sans" font-size="200" fill="#000">4</text>
<text transform="translate(576.5,1445.9) scale(0.12117,0.14786)" font-family="Liberation Sans" font-size="200" fill="#000">10</text>
<text transform="translate(605.5,1437.5) scale(0.07027,0.09286)" font-family="Liberation Sans" font-size="200" fill="#000">5</text>
<rect x="100.25" y="1470.15" width="572.5" height="3.1" fill="#000"/>
<rect x="100.25" y="1613.45" width="572.5" height="3.1" fill="#000"/>
<rect x="100.25" y="1471.7" width="3.1" height="143.3" fill="#000"/>
<rect x="669.65" y="1471.7" width="3.1" height="143.3" fill="#000"/>
<rect x="170.65" y="1471.7" width="3.1" height="143.3" fill="#000"/>
<rect x="482.95" y="1471.7" width="3.1" height="143.3" fill="#000"/>
<rect x="101.8" y="1498.65" width="569.4" height="3.1" fill="#000"/>
<rect x="101.8" y="1527.65" width="569.4" height="3.1" fill="#000"/>
<rect x="101.8" y="1556.15" width="569.4" height="3.1" fill="#000"/>
<rect x="101.8" y="1584.85" width="569.4" height="3.1" fill="#000"/>
<text transform="translate(190.4,1490) scale(0.09052,0.09714)" font-family="Liberation Sans" font-size="200" fill="#000">Sample name</text>
<text transform="translate(190.4,1520) scale(0.09085,0.10071)" font-family="Liberation Sans" font-size="200" fill="#000">Control</text>
<text transform="translate(189.9,1547.9) scale(0.09070,0.09714)" font-family="Liberation Sans" font-size="200" fill="#000">AOPPs</text>
<text transform="translate(190.4,1575.8) scale(0.09091,0.09357)" font-family="Liberation Sans" font-size="200" fill="#000">Overexpress RANK+AOPPs</text>
<text transform="translate(190.4,1603.5) scale(0.09087,0.09214)" font-family="Liberation Sans" font-size="200" fill="#000">Overexpress RAGE+AOPPs</text>
<text transform="translate(588,1492.4) scale(0.08966,0.10576)" font-family="Liberation Sans" font-size="200" fill="#000">%parent</text>
<text transform="translate(558.2,1522.5) scale(0.08975,0.09429)" font-family="Liberation Sans" font-size="200" fill="#000">0.86±0.34</text>
<text transform="translate(548.8,1549.2) scale(0.09020,0.09429)" font-family="Liberation Sans" font-size="200" fill="#000">56.66±1.95</text>
<text transform="translate(548.8,1577.3) scale(0.09020,0.09429)" font-family="Liberation Sans" font-size="200" fill="#000">64.99±2.68</text>
<text transform="translate(550.1,1605.3) scale(0.08890,0.09429)" font-family="Liberation Sans" font-size="200" fill="#000">73.17±2.94</text>
<path d="M648.5 1543.9 L648.5 1538 M648.5 1543.9 L654.84 1542.08 M648.5 1543.9 L642.16 1542.08 M648.5 1543.9 L644.58 1548.67 M648.5 1543.9 L652.42 1548.67 " stroke="#000" stroke-width="2.3" fill="none"/>
<text transform="translate(641.9,1575.6) scale(0.09640,0.08759)" font-family="Liberation Sans" font-size="200" fill="#000">#</text>
<text transform="translate(641,1603.9) scale(0.09279,0.08759)" font-family="Liberation Sans" font-size="200" fill="#000">#</text>
<rect x="121.2" y="1504.2" width="14.1" height="17" fill="#fff" stroke="#808080" stroke-width="3.4"/>
<rect x="121.2" y="1532.6" width="14.1" height="17.7" fill="#fff" stroke="#ff0000" stroke-width="3.4"/>
<rect x="121.2" y="1561.2" width="14.1" height="17.9" fill="#fff" stroke="#10f010" stroke-width="3.4"/>
<rect x="121.2" y="1589.8" width="14.1" height="17.7" fill="#fff" stroke="#10a4ac" stroke-width="3.4"/>
<svg x="888.3" y="1087.9" width="607.3" height="321.8" viewBox="888.3 1087.9 607.3 321.8">
<path d="M1100 1406.9 L1102.42 1406.83 L1104.84 1406.84 L1107.27 1406.78 L1109.69 1406.71 L1112.12 1406.68 L1114.54 1406.65 L1116.96 1406.58 L1119.37 1406.52 L1121.8 1406.5 L1124.16 1405.97 L1126.46 1405.92 L1128.67 1405.7 L1130.98 1405.42 L1133.45 1404.7 L1135.74 1404.69 L1137.95 1404.33 L1140.26 1404.15 L1142.68 1403.87 L1144.89 1403.14 L1147.31 1402.99 L1149.6 1402.6 L1151.75 1402.5 L1154.14 1401.6 L1156.2 1401.48 L1158.5 1401.05 L1160.75 1400.41 L1162.86 1399.78 L1165.2 1399.85 L1167.42 1399.44 L1169.68 1399.13 L1171.9 1398.4 L1174.12 1397.57 L1176.1 1396.65 L1178.23 1397.01 L1180.7 1396.26 L1182.59 1395.54 L1184.76 1395.21 L1187.12 1394.43 L1189.27 1393.41 L1191.4 1392.9 L1193.54 1392.93 L1194.93 1390.4 L1197.18 1389.87 L1198.8 1388.1 L1201.1 1386.48 L1202.6 1385.9 L1203.56 1384.4 L1204.8 1382.96 L1206.02 1381.05 L1207.25 1378.96 L1208.72 1376.57 L1209.49 1373.11 L1210.9 1372 L1211.93 1369.3 L1213.83 1367.13 L1214.9 1366.57 L1216.23 1364.09 L1217.69 1363.12 L1219.3 1360.8 L1219.63 1359.82 L1220.63 1356.81 L1221.22 1353.98 L1222.18 1352.73 L1222.69 1348.21 L1223.13 1348.31 L1223.8 1344.92 L1224.43 1341.78 L1225.12 1341.08 L1225.24 1338.1 L1226.2 1335.8 L1226.91 1333.13 L1227.61 1332.33 L1228.43 1328.45 L1228.47 1327.59 L1229.47 1325.25 L1230.31 1321.54 L1230.72 1319.32 L1231.52 1318.04 L1231.72 1315.26 L1232.64 1312.29 L1233.2 1310.7 L1233.51 1308.4 L1233.99 1306.23 L1235.22 1304.86 L1235.09 1302.63 L1236.17 1300.09 L1236.19 1298 L1236.88 1295.88 L1237.54 1292.51 L1237.98 1291.59 L1238.8 1288.4 L1238.8 1287.14 L1239.25 1283.03 L1239.58 1281.8 L1239.31 1280.33 L1239.72 1276.02 L1240.33 1275.62 L1240.25 1271.99 L1240.58 1270.8 L1240.93 1268.32 L1241.05 1266.69 L1240.98 1263.06 L1241.43 1262.32 L1241.9 1260.35 L1241.83 1257.76 L1241.79 1254.69 L1241.98 1253.62 L1242.93 1250.97 L1242.96 1247.96 L1243.21 1244.99 L1243.1 1243.45 L1243.7 1240.76 L1243.37 1238.32 L1244.13 1236.68 L1244.39 1234.44 L1244.3 1232.7 L1244.94 1229.68 L1245.36 1229.48 L1245.72 1226.52 L1246.1 1224.87 L1246.53 1220.98 L1246.81 1220.07 L1246.79 1216.25 L1247.6 1214.81 L1247.68 1213.67 L1248.02 1209.79 L1248.55 1208.29 L1248.6 1206.48 L1249.47 1203.09 L1249.77 1202.19 L1249.9 1199.3 L1250.14 1196.27 L1250.48 1194.28 L1250.38 1193.53 L1250.62 1189.33 L1251.29 1189.45 L1251.09 1185.68 L1251.5 1184.36 L1251.31 1181.86 L1251.71 1180.36 L1252.07 1178.18 L1252.33 1175.2 L1252.23 1171.79 L1252.65 1170 L1252.78 1167.9 L1252.94 1166.05 L1253.85 1164.58 L1253.8 1162.68 L1254.11 1159.54 L1254.12 1155.88 L1254.69 1155.77 L1254.84 1153 L1255.07 1151.48 L1255.42 1148.76 L1254.9 1146.99 L1255.5 1143.6 L1255.85 1141.28 L1256.05 1138.62 L1256.04 1137.33 L1256.79 1133.75 L1257.33 1133.68 L1257.58 1130.54 L1257.51 1128.17 L1257.8 1127.24 L1258.53 1124.9 L1258.52 1121.7 L1258.95 1118.93 L1258.85 1118.55 L1259.22 1114.5 L1259.7 1112.9 L1260.07 1109.61 L1260.48 1107.58 L1261.1 1105.15 L1261.46 1103.42 L1261.6 1101.8 L1265.2 1101.8 L1265.92 1105.01 L1266.56 1105.8 L1267.08 1108.16 L1267.2 1111.5 L1268.48 1108.12 L1270 1107.3 L1270.22 1108.48 L1270.49 1112.96 L1270.89 1114.49 L1270.58 1117.64 L1271.02 1119.81 L1271.07 1120.39 L1271.92 1123.82 L1271.56 1125.34 L1272.06 1127.07 L1272.03 1128.91 L1272.48 1132.04 L1272.58 1134.47 L1272.81 1136.5 L1273.36 1138.15 L1273.06 1141.19 L1273.6 1143.6 L1273.7 1145.79 L1274.41 1149.26 L1274.65 1151.45 L1274.46 1152.21 L1274.63 1154.32 L1275.01 1156.44 L1275.34 1160.51 L1275.75 1162.66 L1276.02 1164.52 L1276.4 1166.36 L1276.86 1168.62 L1276.8 1169.93 L1276.75 1172.7 L1277.26 1174.17 L1277.95 1176.13 L1277.82 1178.98 L1278.06 1182.77 L1278.76 1183.88 L1278.83 1187.42 L1278.77 1188.38 L1279.2 1190.9 L1279.44 1193.98 L1279.63 1196.33 L1279.82 1197.97 L1280.46 1198.49 L1280.51 1202.77 L1280.86 1202.95 L1281.2 1206.41 L1281.49 1208.29 L1282.15 1211.14 L1282.05 1212.76 L1282.59 1214.42 L1282.66 1217.98 L1282.64 1218.58 L1282.9 1222.14 L1283.78 1224.32 L1283.93 1224.88 L1284.01 1228.2 L1284.28 1229.85 L1284.7 1232.7 L1284.93 1234.29 L1285.02 1237.47 L1285.32 1239.41 L1285.94 1242.68 L1286.51 1244.06 L1286.29 1247.02 L1287.18 1249.12 L1287.72 1251.03 L1287.58 1253.44 L1287.69 1255.97 L1288.04 1258.38 L1288.74 1260.71 L1288.74 1263.08 L1289.66 1266.08 L1289.85 1266.22 L1290.18 1268.57 L1290.3 1271.7 L1291.17 1272.67 L1290.92 1275.82 L1291.47 1279.43 L1292.64 1279.82 L1293.09 1282.24 L1293.55 1283.84 L1294.14 1286.86 L1294.09 1289.04 L1294.41 1290.17 L1295.28 1293.81 L1296.19 1295.8 L1296.17 1297.31 L1296.43 1301.2 L1297.3 1302.3 L1298.37 1304.02 L1299.33 1307.46 L1300.16 1309.18 L1301.26 1312.74 L1302.08 1313.15 L1302.8 1316.3 L1303.32 1318.9 L1304.27 1320.77 L1304.47 1321.87 L1304.7 1324.62 L1305.74 1326.71 L1306.36 1330.05 L1306.55 1331.97 L1307.54 1332.92 L1307.94 1337.03 L1308.4 1338.6 L1309.7 1340.33 L1310.37 1343.73 L1311.05 1345.82 L1312.33 1348.44 L1313 1348.42 L1314.01 1352.06 L1315.26 1354.43 L1315.9 1356.86 L1316.8 1358.1 L1318.11 1360.48 L1318.7 1361 L1319.98 1363.1 L1320.83 1367.72 L1321.8 1369.03 L1323.21 1370.17 L1324.14 1373.72 L1325.1 1374.8 L1326.88 1375.96 L1328.69 1378.42 L1329.7 1380.36 L1331.72 1382.12 L1333.36 1383.5 L1334.61 1384.98 L1336.3 1385.9 L1338.53 1387.36 L1340.32 1388.53 L1342.6 1389.27 L1344.66 1389.91 L1346.79 1389.9 L1348.82 1391.73 L1350.79 1392.8 L1353 1392.9 L1355.46 1393.16 L1357.88 1393.31 L1360.33 1393.4 L1362.7 1393.62 L1365.21 1393.79 L1367.62 1393.96 L1370.03 1394.17 L1372.5 1394.3 L1374.89 1394.3 L1377.27 1394.3 L1379.66 1394.3 L1382.04 1394.3 L1384.43 1394.3 L1386.81 1394.3 L1389.2 1394.3 L1391.5 1394.53 L1393.9 1394.89 L1396.44 1395.45 L1398.75 1395.59 L1401.06 1395.95 L1403.56 1396.67 L1405.9 1397 L1408.36 1397.69 L1410.59 1398.09 L1413.01 1399.27 L1415.51 1399.76 L1417.88 1400.5 L1420.3 1400.06 L1422.6 1401.2 L1424.85 1401.3 L1427.5 1402.08 L1429.74 1403.09 L1432.05 1403.36 L1434.65 1403.85 L1437.02 1404.77 L1439.3 1405.4 L1442.11 1405.79 L1444.87 1406.48 L1447.6 1406.8" fill="none" stroke="#ff0000" stroke-width="3.7" stroke-linejoin="round"/>
<path d="M1070 1406.8 L1072.28 1406.57 L1074.53 1406.5 L1076.83 1406.49 L1079.12 1406.23 L1081.36 1406.1 L1083.62 1406.09 L1085.88 1405.9 L1088.19 1405.86 L1090.44 1405.76 L1092.75 1405.51 L1095 1405.5 L1097.3 1405.28 L1099.43 1404.54 L1101.8 1404.31 L1103.85 1403.79 L1106.24 1403.78 L1108.46 1403.51 L1110.64 1403.32 L1112.84 1402.67 L1115.17 1402.36 L1117.41 1401.97 L1119.61 1401.24 L1121.8 1401.2 L1123.53 1399.63 L1125.36 1398.42 L1127.31 1397.46 L1129.62 1396.6 L1131.36 1395.16 L1133.22 1395.83 L1135.42 1393.98 L1137.01 1393.2 L1138.93 1391.29 L1141.46 1390.84 L1143.08 1389.88 L1145.22 1389.03 L1146.9 1387.3 L1148.43 1384.52 L1150.23 1383.57 L1151.89 1383.76 L1154.14 1380.57 L1155.71 1379.22 L1157.65 1377.82 L1158.88 1375.7 L1160.8 1374.8 L1161.68 1371.95 L1162.53 1371.37 L1163.21 1367.38 L1164.51 1365.9 L1164.63 1362.47 L1165.48 1361.75 L1166.84 1358.99 L1167.1 1356.65 L1168.66 1354.81 L1169.1 1352.5 L1170.67 1351.45 L1171.12 1349.1 L1172.84 1346.64 L1173.72 1344.92 L1174.8 1342.4 L1176.26 1341.77 L1177.5 1338.6 L1178.31 1335.72 L1178.54 1333.23 L1179.38 1332.76 L1179.42 1329.89 L1180.18 1326.35 L1180.82 1325.09 L1181.35 1322.8 L1181.26 1319.99 L1181.79 1319.3 L1182.98 1316.77 L1183.06 1312.49 L1184.02 1312.54 L1183.92 1309.07 L1184.43 1307.52 L1185.49 1303.6 L1185.8 1302.3 L1186.22 1300.23 L1186.5 1298.88 L1187.07 1294.97 L1187.6 1294.12 L1187.78 1290.84 L1188.84 1289.52 L1188.85 1286.98 L1189.04 1284.03 L1189.65 1282.78 L1190.01 1279.63 L1190.33 1278.5 L1190.89 1277.02 L1191.83 1272.65 L1191.79 1272.01 L1192.21 1268.42 L1193.21 1267.37 L1193.29 1265.73 L1194 1261.99 L1194.2 1260.6 L1194.41 1258.15 L1195.19 1255.98 L1195.95 1254.24 L1196.68 1250.48 L1196.75 1248.84 L1197.63 1246.33 L1197.63 1244.59 L1198.34 1241.87 L1198.73 1241.28 L1199.41 1238.85 L1200.01 1234.48 L1200.89 1234.25 L1201.39 1232.21 L1201.82 1227.97 L1202.06 1225.82 L1202.6 1224.3 L1203.02 1220.88 L1203.51 1221.02 L1203.92 1218.22 L1204.56 1215.01 L1205.46 1214.22 L1205.64 1211.23 L1205.83 1207.86 L1206.97 1206.32 L1207.13 1204.49 L1207.25 1201.79 L1208.1 1199.3 L1208.57 1197.89 L1208.77 1195.85 L1209.17 1191.51 L1210.04 1190.46 L1210.23 1186.69 L1211.2 1184.69 L1211.44 1183.34 L1211.77 1180.92 L1212.32 1179.51 L1212.54 1176.61 L1213.03 1173.45 L1213.7 1171.4 L1214.76 1168.71 L1215.4 1167.72 L1216.13 1164.79 L1217.78 1164.02 L1217.98 1159.82 L1219.05 1159.53 L1220.45 1157.22 L1220.98 1153.18 L1222 1151.9 L1223.19 1150.26 L1223.95 1148.83 L1224.92 1144.12 L1225.98 1142.71 L1226.79 1142.21 L1227.31 1137.9 L1228.23 1136.87 L1229.29 1134.84 L1230.4 1132.4 L1231.62 1129.54 L1232.6 1127.61 L1233.54 1127.19 L1234.87 1122.99 L1235.59 1121.38 L1236.31 1120.58 L1237.86 1117.17 L1238.8 1115.7 L1240.36 1114.08 L1241.49 1110.93 L1242.59 1111.45 L1244.3 1108.7 L1246.02 1106.52 L1247.36 1104.31 L1248.5 1101.8 L1250.98 1102.46 L1254 1105 L1254.48 1108.15 L1255.5 1110.16 L1256.21 1110.58 L1256.34 1112.41 L1257.39 1116.55 L1257.73 1117.98 L1258.16 1120.9 L1259.35 1123.13 L1259.7 1124 L1260.55 1127.17 L1260.55 1128.97 L1261.4 1131.65 L1262.38 1133.66 L1263 1134.28 L1263.59 1136.05 L1264.27 1140.18 L1264.37 1142.25 L1265.2 1143.6 L1265.45 1145.32 L1265.99 1147.35 L1265.67 1149.48 L1266.19 1153.45 L1266.96 1154.16 L1266.99 1156.7 L1267.54 1159.28 L1267.78 1160.41 L1268.09 1162.8 L1268.36 1165.26 L1267.97 1167.92 L1268.74 1169.84 L1268.92 1172.58 L1269.03 1174.97 L1269.4 1177 L1269.54 1179.84 L1269.67 1182.69 L1270.42 1184.45 L1270.91 1186.62 L1270.94 1187.35 L1271.5 1190.32 L1271.56 1193.96 L1272.21 1194.83 L1272.22 1197.41 L1272.62 1199.41 L1272.73 1202.03 L1273.7 1204.99 L1274 1207.12 L1273.86 1209.24 L1273.95 1210.86 L1274.62 1213.91 L1275 1216 L1275.49 1218.14 L1275.7 1219.71 L1276.1 1223.72 L1276.72 1224.05 L1276.54 1227.17 L1277.34 1228.93 L1277.86 1232.24 L1278.12 1233.1 L1278.13 1234.8 L1278.53 1238.2 L1279.38 1239.38 L1279.41 1243.06 L1279.61 1245.46 L1280.22 1246.51 L1280.6 1249.4 L1281.18 1250.44 L1281.71 1254.75 L1281.67 1256.18 L1282.18 1259.89 L1282.91 1259.86 L1283.15 1264.26 L1283.77 1266.46 L1284.4 1269.27 L1284.8 1271.5 L1285.49 1272.94 L1285.81 1274.99 L1286.1 1277.3 L1286.82 1279.59 L1287.34 1282.27 L1287.48 1283.17 L1287.77 1286.32 L1288.64 1288.19 L1289 1289.71 L1289.04 1291.91 L1289.66 1294.16 L1290.33 1295.86 L1290.56 1299.47 L1291.39 1300 L1291.63 1303.41 L1292.1 1304.7 L1292.57 1308.69 L1293.17 1310.31 L1293.84 1312.66 L1293.94 1312.85 L1294.5 1316.3 L1295.02 1319.1 L1296.05 1321.76 L1296.35 1323.36 L1297.09 1325.12 L1297.47 1326.26 L1298.28 1327.91 L1298.84 1331.73 L1299.53 1332.54 L1300.22 1334.58 L1300.98 1336.45 L1301.44 1339.99 L1301.79 1342.33 L1302.8 1344.1 L1303.76 1345.86 L1304.94 1347.5 L1306.31 1349.22 L1307.98 1351.21 L1309.22 1354.24 L1310.07 1354.15 L1311.14 1357.19 L1313.15 1358.55 L1314 1360.8 L1315.35 1363.39 L1316.59 1365.17 L1318.05 1365.59 L1318.56 1367.32 L1319.88 1370.52 L1321.45 1371.2 L1322.79 1374.48 L1323.61 1375.92 L1325.1 1377.5 L1326.89 1378.1 L1328.55 1381.91 L1329.59 1381.07 L1331.35 1384.36 L1333.46 1385.23 L1334.87 1386 L1336.3 1388.7 L1338.47 1389.58 L1340.3 1390.5 L1342.72 1390.95 L1344.48 1392.2 L1346.86 1391.98 L1348.79 1392.71 L1350.92 1393.37 L1353 1394.3 L1355.33 1395.56 L1357.15 1396.54 L1359.56 1397.1 L1361.76 1397.27 L1363.94 1398.85 L1365.89 1399.37 L1368.18 1399.64 L1370.3 1400.79 L1372.5 1401.2 L1374.6 1401.99 L1376.93 1401.75 L1379.11 1402.36 L1381.16 1403.17 L1383.3 1403.09 L1385.6 1403.7 L1387.59 1404.74 L1389.79 1405.29 L1392 1405.4 L1394.27 1405.5 L1396.45 1405.9 L1398.71 1406 L1401 1406.19 L1403.27 1406.32 L1405.5 1406.55 L1407.71 1406.53 L1410 1406.8" fill="none" stroke="#10bcf8" stroke-width="3.7" stroke-linejoin="round"/>
<path d="M890 1406.5 L892.21 1406.5 L894.42 1406.49 L896.62 1406.49 L898.83 1406.49 L901.04 1406.49 L903.25 1406.49 L905.45 1406.48 L907.66 1406.48 L909.87 1406.48 L912.08 1406.47 L914.29 1406.47 L916.49 1406.47 L918.7 1406.47 L920.91 1406.46 L923.12 1406.46 L925.33 1406.46 L927.53 1406.46 L929.74 1406.45 L931.95 1406.45 L934.16 1406.45 L936.36 1406.45 L938.57 1406.44 L940.78 1406.44 L942.99 1406.44 L945.2 1406.43 L947.4 1406.43 L949.61 1406.43 L951.82 1406.43 L954.03 1406.42 L956.23 1406.42 L958.44 1406.42 L960.65 1406.42 L962.86 1406.41 L965.06 1406.41 L967.27 1406.41 L969.48 1406.41 L971.69 1406.4 L973.9 1406.4 L976.1 1406.4 L978.31 1406.4 L980.52 1406.4 L982.73 1406.39 L984.94 1406.39 L987.14 1406.39 L989.35 1406.38 L991.56 1406.38 L993.77 1406.38 L995.97 1406.38 L998.18 1406.37 L1000.39 1406.37 L1002.6 1406.37 L1004.8 1406.36 L1007.01 1406.36 L1009.22 1406.36 L1011.43 1406.36 L1013.64 1406.35 L1015.84 1406.35 L1018.05 1406.35 L1020.26 1406.34 L1022.47 1406.34 L1024.68 1406.34 L1026.88 1406.34 L1029.09 1406.34 L1031.3 1406.33 L1033.51 1406.33 L1035.71 1406.33 L1037.92 1406.32 L1040.13 1406.32 L1042.34 1406.32 L1044.55 1406.32 L1046.75 1406.32 L1048.96 1406.31 L1051.17 1406.31 L1053.38 1406.31 L1055.58 1406.31 L1057.79 1406.3 L1060 1406.3 L1062.23 1406.2 L1064.45 1406.07 L1066.67 1405.97 L1068.89 1405.89 L1071.13 1405.84 L1073.34 1405.75 L1075.56 1405.63 L1077.78 1405.51 L1080 1405.4 L1082.28 1405.27 L1084.67 1404.86 L1086.99 1404.11 L1089.24 1404.19 L1091.66 1403.85 L1094.01 1403.17 L1096.35 1403.01 L1098.63 1402.61 L1100.89 1402.24 L1103.24 1401.8 L1105.55 1401.52 L1107.9 1401.2 L1109.96 1400.03 L1112.28 1399.54 L1114.27 1399.29 L1116.52 1398.15 L1118.53 1397.81 L1120.64 1396.68 L1122.83 1396.55 L1124.92 1395.34 L1127.16 1393.96 L1129.17 1394.19 L1131.52 1392.66 L1133.45 1392.76 L1135.7 1391.5 L1137.82 1390.93 L1140.05 1389.42 L1141.96 1389.45 L1143.92 1387.66 L1146.3 1387.6 L1148.23 1385.74 L1150.45 1385.11 L1152.4 1384.5 L1154.42 1382.39 L1155.93 1381.65 L1157.94 1379.4 L1159.83 1377.95 L1161.72 1376.71 L1163.6 1374.8 L1164.55 1373.15 L1165.96 1371.44 L1167.03 1369.13 L1168.17 1367.2 L1169.64 1364.89 L1170.7 1363.7 L1171.9 1360.8 L1172.94 1358.01 L1174.04 1355.99 L1175.49 1355.62 L1176.19 1353.26 L1177.32 1351.76 L1178.57 1348.22 L1179.82 1346.32 L1181.1 1346.06 L1182.05 1342.74 L1183.1 1341.3 L1184.13 1338.29 L1184.59 1336.73 L1185.43 1335.78 L1186.65 1333.57 L1187.51 1330.31 L1188.14 1328.99 L1189.31 1326.94 L1190 1324.6 L1190.33 1322.94 L1190.82 1320.33 L1191.52 1318.14 L1191.73 1315.73 L1192.01 1313.16 L1192.82 1310.99 L1192.77 1309.39 L1193.29 1305.57 L1193.98 1304.77 L1194.14 1301.86 L1194.79 1298.96 L1195.33 1296.95 L1195.8 1295.19 L1196.14 1292.39 L1196.72 1289.68 L1197 1288.4 L1197.26 1285.38 L1197.5 1282.97 L1198.13 1280.86 L1198.26 1279.36 L1198.97 1276.67 L1199.33 1275.16 L1199.87 1273.43 L1200.28 1270.3 L1200.59 1268 L1200.6 1265.98 L1200.82 1264.35 L1201.23 1261.91 L1201.59 1259.31 L1202.08 1258.12 L1202.6 1255 L1202.85 1252.49 L1203.22 1249.8 L1203.79 1247.93 L1203.93 1245.72 L1204.35 1244.45 L1204.63 1240.89 L1205.07 1239.55 L1205.4 1236.41 L1205.81 1235.88 L1206.5 1232.62 L1206.59 1229.85 L1207.1 1228.72 L1207.22 1226.31 L1207.49 1223.46 L1208.1 1221.6 L1208.27 1219.99 L1208.76 1217.22 L1208.95 1215.1 L1209.27 1212.32 L1209.77 1211.19 L1209.8 1208.21 L1210.42 1205.24 L1210.62 1203.34 L1210.57 1201.5 L1211.12 1199.24 L1211.35 1197.43 L1211.89 1195.36 L1211.79 1193.27 L1212.26 1190.41 L1212.66 1187.62 L1213.11 1187.15 L1212.85 1184.62 L1213.18 1182.98 L1213.7 1179.8 L1214.02 1178.03 L1214.25 1175.58 L1214.47 1173.61 L1214.96 1170.09 L1215.41 1168.49 L1215.53 1165.56 L1216.08 1164.05 L1216.62 1160.97 L1217.04 1159.16 L1217.49 1156.92 L1217.52 1154.63 L1217.65 1153.5 L1218.3 1150.9 L1218.39 1148.1 L1218.82 1145.41 L1219.3 1143.6 L1219.63 1141.66 L1220.06 1139.61 L1220.77 1137.2 L1221.05 1135.73 L1221.55 1132.33 L1221.86 1130.84 L1221.76 1128.89 L1222.68 1126.85 L1222.74 1124.32 L1223.43 1121.56 L1223.7 1119.24 L1224.27 1117.33 L1224.25 1114.95 L1224.8 1112.9 L1226.15 1110.43 L1227.3 1108.72 L1228.59 1106.22 L1229.75 1103.66 L1231.3 1101.8 L1232.59 1103.84 L1234.25 1105.7 L1235.59 1109 L1237.4 1110.1 L1237.45 1111.32 L1237.89 1113.58 L1238.11 1117.53 L1238.02 1118.85 L1238.71 1120.58 L1238.51 1122.42 L1239.06 1126.03 L1239.12 1127.4 L1239.68 1129.4 L1239.79 1132.72 L1239.8 1134.87 L1239.95 1137.3 L1240.42 1138.95 L1240.7 1141.25 L1240.94 1142.81 L1240.86 1146.19 L1241.12 1147.12 L1241.56 1149.4 L1241.6 1151.9 L1241.84 1154.24 L1241.93 1156.98 L1242.54 1157.59 L1242.51 1160.29 L1243.01 1163.5 L1243.52 1165.58 L1243.76 1167.32 L1243.67 1169.2 L1244.35 1170.75 L1244.34 1172.93 L1244.68 1175.75 L1245.06 1177.65 L1245.39 1179.73 L1245.83 1183.37 L1245.89 1185.67 L1246.33 1187.22 L1246.6 1189.19 L1246.59 1192.3 L1247.1 1193.7 L1247.22 1196.68 L1247.59 1198.26 L1248.01 1200.11 L1248.51 1203.31 L1248.43 1204.52 L1249.01 1207.95 L1248.98 1208.56 L1249.36 1211.45 L1249.59 1213.96 L1249.61 1216.11 L1250.29 1218.31 L1250.16 1220.57 L1250.99 1223.03 L1251.03 1224.64 L1251.13 1227.03 L1251.86 1228.65 L1251.93 1231.62 L1251.89 1233.29 L1252.28 1235.21 L1252.46 1238.92 L1252.87 1240.83 L1253.25 1242.75 L1253.51 1244.01 L1253.56 1246.42 L1254.1 1249.4 L1254.76 1252.03 L1255.31 1254.24 L1255.34 1256.24 L1256.06 1257.86 L1256.38 1261.12 L1256.72 1261.82 L1257.6 1264.67 L1257.9 1268.16 L1258.12 1268.97 L1258.67 1271.23 L1259.23 1272.94 L1259.88 1277.12 L1259.99 1278.14 L1260.56 1280.98 L1261.1 1282.8 L1261.6 1285.76 L1262.48 1286.79 L1262.53 1289.71 L1263.05 1291.56 L1263.68 1294.62 L1264.36 1296.87 L1265.03 1298.92 L1265.63 1301.24 L1266.22 1303.51 L1266.57 1304.48 L1267.03 1308 L1267.51 1310.13 L1268.02 1310.86 L1268.99 1314.52 L1269.4 1316.3 L1270.34 1318.31 L1271.04 1321.32 L1271.53 1322.36 L1272.19 1325 L1273.38 1327.12 L1274.18 1330.24 L1275.02 1331.76 L1275.79 1335.04 L1276 1336.3 L1276.81 1338.69 L1277.8 1341.3 L1278.77 1344.41 L1279.86 1345.26 L1280.62 1347.8 L1281.2 1349.53 L1282.41 1352.15 L1283.46 1353.9 L1284.54 1357.3 L1285.06 1357.9 L1286.1 1360.8 L1287.05 1362.45 L1288.33 1364.57 L1289.52 1367.09 L1290.29 1367.86 L1291.66 1370.55 L1292.97 1373 L1293.87 1374.73 L1294.94 1376.42 L1296.38 1378.81 L1297.3 1380.3 L1298.86 1382.38 L1301.05 1384.35 L1302.58 1384.2 L1304.58 1387.79 L1306.46 1388.58 L1308.4 1390.1 L1310.71 1390.71 L1313.24 1391.15 L1315.45 1391.98 L1317.84 1392.11 L1320.24 1392.97 L1322.63 1394.09 L1325.1 1394.3 L1327.33 1394.3 L1329.56 1394.3 L1331.79 1394.3 L1334.02 1394.3 L1336.25 1394.3 L1338.48 1394.3 L1340.71 1394.3 L1342.94 1394.3 L1345.17 1394.3 L1347.4 1394.3 L1349.72 1394.68 L1351.97 1394.82 L1354.3 1394.96 L1356.51 1395.46 L1358.81 1395.56 L1361.08 1395.6 L1363.38 1396.12 L1365.65 1396.13 L1367.89 1396.35 L1370.26 1396.8 L1372.5 1397 L1374.77 1398.17 L1376.66 1398.61 L1378.88 1399.08 L1381.05 1400.13 L1383.27 1400.39 L1385.61 1402.08 L1387.68 1402.91 L1389.85 1402.82 L1392 1404 L1394.44 1404.42 L1396.75 1404.57 L1399.21 1405.07 L1401.62 1405.45 L1403.89 1406.07 L1406.35 1406.64 L1408.7 1406.8 L1410.91 1406.8 L1413.13 1406.8 L1415.34 1406.8 L1417.55 1406.8 L1419.76 1406.8 L1421.98 1406.8 L1424.19 1406.8 L1426.4 1406.8 L1428.62 1406.8 L1430.83 1406.8 L1433.04 1406.8 L1435.25 1406.8 L1437.47 1406.8 L1439.68 1406.8 L1441.89 1406.8 L1444.11 1406.8 L1446.32 1406.8 L1448.53 1406.8 L1450.74 1406.8 L1452.96 1406.8 L1455.17 1406.8 L1457.38 1406.8 L1459.59 1406.8 L1461.81 1406.8 L1464.02 1406.8 L1466.23 1406.8 L1468.45 1406.8 L1470.66 1406.8 L1472.87 1406.8 L1475.08 1406.8 L1477.3 1406.8 L1479.51 1406.8 L1481.72 1406.8 L1483.94 1406.8 L1486.15 1406.8 L1488.36 1406.8 L1490.57 1406.8 L1492.79 1406.8 L1495 1406.8" fill="none" stroke="#ff9a32" stroke-width="3.6" stroke-linejoin="round"/>
<path d="M889.3 1089 L889.18 1091.69 L889.79 1092.59 L888.95 1094.45 L888.81 1096.87 L888.87 1101.6 L889.97 1104.9 L889.17 1106.14 L889.58 1108.3 L888.77 1113.08 L889.5 1112.37 L888.78 1114.81 L889.95 1117.37 L889.52 1123.67 L888.74 1123.61 L889.33 1128.46 L888.95 1128.07 L889.04 1129.65 L889.6 1135.54 L889.29 1134.62 L889.66 1140.2 L889.59 1140.92 L889.82 1144.75 L889.51 1146.86 L889.04 1149 L889.79 1152.51 L889.2 1155.62 L889.86 1154.71 L888.96 1158.01 L888.78 1162.85 L889.61 1164.43 L890.08 1166.12 L889.03 1167.55 L889.22 1173.25 L889.58 1172.33 L889.35 1174.79 L889.61 1177.63 L889.03 1182.43 L889.9 1184.83 L889.18 1187.45 L889.16 1187.15 L889.17 1192.66 L889.64 1192.99 L889.92 1198.3 L889.19 1201.38 L889.17 1199.95 L889.5 1205.98 L889.62 1207.08 L889.48 1208.44 L889.23 1211.47 L889.56 1216.35 L888.94 1215.82 L890.1 1220.11 L888.95 1221.67 L889.72 1226.25 L888.97 1228.71 L889.88 1228.48 L889.57 1233.39 L889.19 1235.35 L889.62 1235.1 L889.24 1239.1 L889.07 1243.94 L889.22 1243.32 L889.68 1247.13 L889.32 1248.75 L889.56 1253.82 L889.01 1256.35 L890.15 1257.85 L889.97 1259.03 L890.19 1263.12 L889.83 1264.34 L889.22 1267.92 L889.9 1267.4 L889.35 1272.25 L889.22 1272.97 L889.19 1274.97 L889.11 1279.13 L889.61 1282.73 L889.36 1282.99 L890.17 1287.72 L889.86 1290.48 L889.39 1292.57 L889.39 1295.33 L890.05 1295.04 L890.03 1297.99 L889 1300.32 L889.73 1306.27 L890.21 1305.7 L889.56 1311.65 L890.17 1313.65 L889.33 1313.73 L889.2 1316.19 L889.55 1321.05 L889.89 1320.81 L889.25 1324.54 L890.2 1327.14 L890.07 1330.6 L890.19 1332.27 L889.53 1334.6 L890.1 1336.32 L889.3 1341.29 L889.68 1342.94 L889.28 1342.8 L889.35 1347.02 L889.1 1348.84 L890.31 1352.07 L889.07 1356.19 L889.47 1355.92 L889.92 1360.6 L889.51 1363.31 L890.24 1364.18 L889.74 1365.22 L889.87 1368.99 L889.96 1373.55 L889.55 1375.66 L890.35 1375.97 L890.16 1379.84 L890.36 1380.56 L889.62 1383.46 L889.46 1389.18 L889.82 1389.34 L890.4 1390.51 L889.16 1396.16 L889.87 1398.96 L889.8 1400 L891 1404.45 L892.2 1405 L894.72 1404.75 L897.33 1404.73 L899.77 1404.37 L902.31 1404.52 L904.93 1404.13 L907.49 1404.26 L910 1404 L912.53 1404.31 L914.99 1404.64 L917.48 1405.06 L920.02 1405.13 L922.59 1405.6 L925 1405.5 L927.76 1404.45 L930.51 1405.04 L933.13 1403.61 L935.91 1403.06 L938.88 1402.97 L941.5 1402.4 L944.16 1402.52 L946.92 1402.49 L949.57 1402.6 L952.32 1402.85 L955 1403 L957.14 1401.64 L959.75 1401.6 L962.39 1400.48 L964.8 1398.82 L967.4 1399.1 L969.86 1398.84 L972.45 1398.37 L974.84 1397.28 L977.58 1397.68 L980 1397 L982.82 1397.35 L985.12 1395.29 L987.76 1393.56 L991.06 1391.81 L993.3 1390.7 L996.74 1393.08 L1000 1393 L1002.21 1390 L1005.05 1390.07 L1006.45 1386.46 L1008.9 1385.6 L1013 1388 L1013.63 1383.62 L1016.15 1383.14 L1017.15 1379.18 L1018.49 1378.67 L1019.3 1375.2 L1022.99 1376.55 L1026 1378 L1028.62 1376.07 L1029.66 1375.33 L1032.2 1371.3 L1032.59 1370.36 L1033.57 1365.26 L1034.18 1362.34 L1034.24 1358.1 L1034.9 1359.07 L1036.1 1354.5 L1037.52 1354.97 L1039.22 1360.24 L1041.15 1364.05 L1042.6 1364.8 L1043.12 1364.21 L1043.4 1358.12 L1044.75 1357.68 L1045.38 1355.7 L1046.27 1349.66 L1046.79 1349.89 L1047.34 1345.3 L1048.57 1343.91 L1049.1 1341.5 L1051.04 1345.99 L1051.45 1344.44 L1053 1349 L1055.17 1346.25 L1058.2 1344.1 L1058.84 1341.39 L1059.12 1338.4 L1060.29 1338 L1060.64 1335.06 L1061.72 1333.27 L1062.85 1328.3 L1063.62 1326.68 L1064.53 1322.73 L1064.57 1322.51 L1065.28 1319.54 L1066.39 1316.47 L1067.5 1314.27 L1068.02 1314.83 L1068.5 1310.4 L1071.57 1311.6 L1075 1311.7 L1074.77 1309 L1074.9 1308.6 L1075.35 1304.29 L1076.42 1300.18 L1075.44 1300.09 L1075.6 1295.1 L1076.08 1292.1 L1076.39 1289.81 L1077.37 1289.31 L1076.38 1287.87 L1076.85 1285.96 L1076.79 1280.13 L1077.6 1279.3 L1077.55 1283.32 L1078.41 1286.53 L1077.57 1286.52 L1078.55 1291.05 L1078.78 1290.42 L1077.71 1294.43 L1078.89 1298.28 L1078.45 1300.85 L1078.61 1304.11 L1078.52 1306.34 L1078.46 1308.22 L1078.79 1309.71 L1078.85 1310.95 L1078.74 1316.36 L1079.4 1318.2 L1079.88 1316.3 L1079.83 1313.41 L1080.57 1312.56 L1080.3 1308.92 L1081.12 1306.75 L1081.19 1301.45 L1081.64 1300.32 L1081.81 1298.54 L1081.37 1292.98 L1082.39 1293.01 L1081.64 1287.69 L1082.44 1287.76 L1082.8 1284.5 L1082.77 1282.7 L1083.53 1279.84 L1083.9 1275.36 L1084.2 1274.7 L1085.3 1269.33 L1085.09 1270.04 L1085.75 1267.8 L1087.16 1264.62 L1087 1260.6 L1086.98 1256.38 L1088.35 1255.27 L1087.76 1251.42 L1088.56 1249.57 L1089.3 1248.2 L1088.9 1251.74 L1089.15 1252.43 L1090.21 1257.05 L1090.55 1257.38 L1089.95 1261.65 L1090.6 1263.7 L1091.44 1262.16 L1091.78 1258.14 L1092.19 1257.72 L1092.49 1251.77 L1093.2 1248.7 L1092.55 1247.26 L1093.47 1247.63 L1094.38 1242.68 L1094.6 1240 L1095.46 1238.3 L1095.19 1237.11 L1095.8 1232.6 L1097.92 1229.6 L1099.81 1225.45 L1100.9 1224.8 L1103 1229 L1103.79 1226.23 L1103.58 1225.56 L1103.79 1221.04 L1103.84 1219.58 L1104.77 1216.97 L1104.33 1215.3 L1105.06 1209.4 L1104.98 1206.89 L1105.2 1206.05 L1106.3 1204.3 L1106.88 1203.02 L1106.72 1199.88 L1107.4 1195.81 L1107.6 1193.48 L1107.78 1191.99 L1108.28 1188.12 L1107.49 1183.6 L1108.61 1183.44 L1109.09 1178.98 L1109.35 1180.02 L1109.2 1173.5 L1109.77 1170.89 L1110.21 1171.56 L1109.96 1169.41 L1110.25 1166.5 L1110.44 1163.49 L1110.49 1159.25 L1111.3 1157.4 L1114.5 1157.32 L1117.8 1156.1 L1118.51 1151.78 L1118.32 1152.47 L1119.29 1148.2 L1118.49 1147.05 L1118.82 1143.65 L1119.26 1138.75 L1119.16 1137.7 L1119.48 1136.11 L1120.69 1133.94 L1120.65 1130.91 L1121.42 1126.96 L1121.35 1123.74 L1121.75 1124.81 L1121.57 1120.87 L1121.62 1119.67 L1121.78 1113.8 L1122.53 1113.48 L1122.98 1107.92 L1123.4 1105.3 L1123.5 1104.6 L1123.47 1109.22 L1123.91 1107.62 L1123.73 1111.4 L1123.84 1116.13 L1124.16 1118.35 L1124.72 1121.84 L1124.64 1120.61 L1125.23 1125.69 L1124.62 1127.9 L1124.97 1132.78 L1125.7 1134.55 L1125.99 1136.27 L1126.48 1136.32 L1126.2 1141 L1126.6 1139.23 L1127.17 1137.85 L1127.73 1134.58 L1128.65 1131.24 L1129.68 1130.72 L1130.43 1125.5 L1130.45 1122.18 L1131 1121.3 L1131.85 1119.13 L1131.94 1116.05 L1132.27 1112 L1132.87 1111.5 L1132.85 1106.87 L1133.61 1106.5 L1134.36 1104.32 L1134.72 1098.56 L1135.04 1095.26 L1135.81 1094.48 L1136.3 1092 L1136.28 1095.24 L1136.64 1096.4 L1136.88 1098.24 L1136.96 1101.89 L1137.21 1106.41 L1136.94 1105.73 L1137.27 1107.89 L1136.61 1111.34 L1137.68 1114.66 L1137.67 1117.81 L1137.63 1118.22 L1138.19 1122.69 L1137.18 1125.81 L1138.33 1127.98 L1138.14 1128.9 L1137.62 1132.5 L1137.56 1136.37 L1137.63 1138.28 L1138.63 1139.47 L1138.5 1143.6 L1139.33 1141.49 L1139.18 1139.51 L1139.11 1135.53 L1139.34 1134.4 L1139.2 1128.81 L1140.12 1127.46 L1140.29 1128.12 L1139.31 1125.2 L1139.87 1122.47 L1140.61 1117.35 L1140.81 1114.05 L1141.13 1113.7 L1141.41 1110.62 L1141.22 1107.33 L1140.83 1103.69 L1141.3 1103.2 L1143.94 1103.46 L1146.3 1101.8 L1146.34 1102.44 L1146.04 1105.63 L1147.06 1108.63 L1146.84 1113.66 L1147.27 1112.63 L1147.75 1118.05 L1146.88 1117.78 L1147.98 1121.35 L1147.63 1123.98 L1148.08 1127.19 L1148.14 1131.86 L1147.54 1132.07 L1148.2 1135.2 L1149.2 1133.87 L1150.08 1129.14 L1150.53 1127.11 L1151 1124 L1151.7 1125.06 L1150.9 1127.6 L1151.44 1132.59 L1152.07 1133.14 L1151.54 1136.17 L1152.99 1137.32 L1153.14 1141.21 L1152.97 1143.57 L1153.65 1148.05 L1153.51 1149.26 L1153.62 1150.59 L1153.91 1156.06 L1153.41 1156.66 L1154.19 1159.46 L1155.07 1162.21 L1154.6 1162.56 L1154.62 1168.57 L1155.28 1170.53 L1155.9 1173.69 L1156.09 1176.58 L1155.8 1177 L1156.67 1175.06 L1156.45 1169.41 L1157.32 1168.54 L1156.8 1165.25 L1157.71 1164.26 L1157.41 1158.79 L1158 1157.5 L1158.28 1158.43 L1158.94 1164.23 L1159.07 1163.7 L1160.18 1166.42 L1159.58 1170.52 L1160.64 1172.37 L1160.3 1174.73 L1161.7 1180.28 L1161.26 1181.63 L1162.38 1184.8 L1161.76 1183.88 L1162.25 1188.81 L1162.81 1192.95 L1163.6 1193.7 L1163.52 1196.01 L1163.62 1200.53 L1163.99 1200.29 L1164.34 1202.52 L1164.3 1207.68 L1164.56 1208.02 L1164.72 1211.64 L1165.61 1215.79 L1165.23 1218.48 L1165.61 1218.4 L1166.9 1223.16 L1167.14 1222.66 L1166.39 1225.96 L1166.88 1229.57 L1166.75 1232.03 L1166.94 1233.43 L1167.92 1235.69 L1168.39 1240.38 L1168.51 1241.58 L1168.48 1244.39 L1169.29 1249.07 L1169.1 1249.4 L1169.27 1253.54 L1170.51 1254.71 L1170.64 1258.29 L1171.88 1259.76 L1171.17 1262.69 L1171.93 1263.11 L1172.98 1266.38 L1173.77 1269.52 L1174.43 1270.6 L1175.09 1275.91 L1174.42 1276.67 L1176.13 1281.6 L1176.1 1282.8 L1175.95 1286.67 L1176.87 1287.67 L1177.79 1289.04 L1177.99 1292.23 L1178.72 1297.56 L1179.25 1296.88 L1178.55 1300.56 L1179.06 1302.21 L1180.04 1307.11 L1180.5 1310.77 L1181.17 1313.21 L1181.43 1313.12 L1181.7 1316.3 L1183.69 1318.91 L1184.63 1319.18 L1185.3 1320.78 L1186.73 1324.2 L1188.6 1327.4 L1189.55 1331.11 L1190.69 1332.4 L1191.88 1336.11 L1193.54 1340.65 L1194.2 1341.3 L1194.54 1343.4 L1195.5 1347.02 L1196.11 1347.61 L1197.55 1350.78 L1198.02 1354.73 L1197.79 1355.61 L1199.15 1360.26 L1200.43 1360.47 L1199.92 1365.74 L1201.75 1365.13 L1201.77 1368.28 L1202.6 1372 L1205.13 1370.57 L1208 1370 L1209.32 1372.21 L1210.52 1374.13 L1212.38 1377.59 L1213.7 1380.3 L1214.54 1381.33 L1215.35 1386.81 L1215.85 1386.34 L1216.97 1388.93 L1217.9 1392.9 L1218.23 1389.3 L1219.86 1388.48 L1219.86 1385.61 L1220.56 1383.13 L1221.51 1379.18 L1222 1377.5 L1222.89 1381.92 L1224.6 1382.13 L1225.58 1383.4 L1226.07 1387.76 L1227.6 1388.7 L1228.83 1386.25 L1231.02 1384.09 L1232 1381 L1234.02 1383.66 L1236 1386 L1237.73 1384.16 L1240 1380 L1240.81 1383.94 L1242.52 1386.44 L1243.41 1387.03 L1244.3 1391.5 L1246.78 1389.45 L1248.69 1387.55 L1250 1386 L1252.29 1383.5 L1253.54 1381.3 L1255.5 1380.3 L1257.5 1382.69 L1258.48 1382.48 L1260.86 1384.64 L1262 1389 L1264.36 1389.25 L1267.09 1389.93 L1269.4 1391.5 L1272 1391.48 L1273.82 1388.95 L1276 1387 L1278.58 1388.64 L1280.97 1388.39 L1283.04 1391.79 L1286.1 1392.9 L1288.39 1394.42 L1291.49 1395.93 L1294 1396 L1296.89 1396.62 L1299.76 1397.57 L1302.8 1398.4 L1304.91 1397.71 L1306.17 1395.28 L1308.4 1391.5 L1310.81 1393.35 L1312.24 1397.15 L1314.2 1395.65 L1316 1399 L1319.22 1399.54 L1321.89 1400.91 L1325.1 1401.2 L1327.35 1400.98 L1330 1397 L1331.44 1398.19 L1332.74 1402.39 L1334.36 1401.79 L1336.3 1405.4 L1338.95 1404.65 L1341.9 1402 L1345.31 1406.56 L1347.4 1406.8 L1349.9 1406.8 L1352.4 1406.79 L1354.9 1406.79 L1357.41 1406.78 L1359.91 1406.79 L1362.41 1406.78 L1364.91 1406.78 L1367.41 1406.77 L1369.92 1406.77 L1372.42 1406.76 L1374.92 1406.76 L1377.42 1406.76 L1379.92 1406.76 L1382.43 1406.75 L1384.92 1406.75 L1387.43 1406.74 L1389.93 1406.74 L1392.43 1406.74 L1394.93 1406.74 L1397.44 1406.73 L1399.94 1406.72 L1402.44 1406.73 L1404.94 1406.72 L1407.44 1406.72 L1409.94 1406.72 L1412.44 1406.71 L1414.95 1406.71 L1417.45 1406.7 L1419.95 1406.7 L1422.45 1406.7 L1424.95 1406.69 L1427.45 1406.7 L1429.96 1406.69 L1432.46 1406.68 L1434.96 1406.68 L1437.46 1406.68 L1439.96 1406.67 L1442.46 1406.68 L1444.96 1406.66 L1447.47 1406.66 L1449.97 1406.66 L1452.47 1406.66 L1454.97 1406.66 L1457.48 1406.65 L1459.97 1406.65 L1462.48 1406.64 L1464.98 1406.64 L1467.48 1406.63 L1469.98 1406.63 L1472.48 1406.63 L1474.99 1406.63 L1477.49 1406.62 L1479.99 1406.62 L1482.49 1406.61 L1484.99 1406.61 L1487.5 1406.61 L1490 1406.61 L1492.5 1406.6 L1495 1406.6" fill="none" stroke="#66f030" stroke-width="3.1" stroke-linejoin="round"/>
<rect x="888.3" y="1360" width="353.3" height="3.6" fill="#000"/>
<rect x="1241.6" y="1375.7" width="254" height="3.6" fill="#000"/>
<rect x="1239.8" y="1353" width="3.6" height="33" fill="#000"/>
<rect x="888.3" y="1353.9" width="2" height="15.5" fill="#000"/>
<rect x="1493.8" y="1371" width="1.8" height="13" fill="#555"/>
</svg>
<rect x="888.3" y="1087.9" width="607.3" height="320.3" fill="none" stroke="#000" stroke-width="1.2"/>
<rect x="889.1" y="1089" width="1.7" height="318" fill="#66f030"/>
<rect x="871.7" y="1100.7" width="16.8" height="4.6" fill="#000"/>
<rect x="881.1" y="1117.3" width="7.4" height="2.1" fill="#000"/>
<rect x="881.1" y="1132.65" width="7.4" height="2.1" fill="#000"/>
<rect x="881.1" y="1148" width="7.4" height="2.1" fill="#000"/>
<rect x="871.7" y="1162.1" width="16.8" height="4.6" fill="#000"/>
<rect x="881.1" y="1178.48" width="7.4" height="2.1" fill="#000"/>
<rect x="881.1" y="1193.6" width="7.4" height="2.1" fill="#000"/>
<rect x="881.1" y="1208.73" width="7.4" height="2.1" fill="#000"/>
<rect x="871.7" y="1222.6" width="16.8" height="4.6" fill="#000"/>
<rect x="881.1" y="1239.2" width="7.4" height="2.1" fill="#000"/>
<rect x="881.1" y="1254.55" width="7.4" height="2.1" fill="#000"/>
<rect x="881.1" y="1269.9" width="7.4" height="2.1" fill="#000"/>
<rect x="871.7" y="1284" width="16.8" height="4.6" fill="#000"/>
<rect x="881.1" y="1300.3" width="7.4" height="2.1" fill="#000"/>
<rect x="881.1" y="1315.35" width="7.4" height="2.1" fill="#000"/>
<rect x="881.1" y="1330.4" width="7.4" height="2.1" fill="#000"/>
<rect x="871.7" y="1344.2" width="16.8" height="4.6" fill="#000"/>
<rect x="881.1" y="1360.75" width="7.4" height="2.1" fill="#000"/>
<rect x="881.1" y="1376.05" width="7.4" height="2.1" fill="#000"/>
<rect x="881.1" y="1391.35" width="7.4" height="2.1" fill="#000"/>
<rect x="871.7" y="1405.4" width="16.8" height="4.6" fill="#000"/>
<rect x="881.1" y="1087.3" width="7.4" height="2" fill="#000"/>
<rect x="888.2" y="1408.4" width="4.8" height="8.8" fill="#000"/>
<rect x="997.4" y="1408.4" width="4.8" height="8.8" fill="#000"/>
<rect x="1108.8" y="1408.4" width="4.8" height="8.8" fill="#000"/>
<rect x="1220.2" y="1408.4" width="4.8" height="8.8" fill="#000"/>
<rect x="1331.9" y="1408.4" width="4.8" height="8.8" fill="#000"/>
<rect x="1443.3" y="1408.4" width="4.8" height="8.8" fill="#000"/>
<rect x="921.33" y="1408.4" width="1.8" height="3.8" fill="#000"/>
<rect x="940.95" y="1408.4" width="1.8" height="3.8" fill="#000"/>
<rect x="954.87" y="1408.4" width="1.8" height="3.8" fill="#000"/>
<rect x="964.77" y="1408.4" width="3.6" height="6" fill="#000"/>
<rect x="974.49" y="1408.4" width="1.8" height="3.8" fill="#000"/>
<rect x="981.94" y="1408.4" width="1.8" height="3.8" fill="#000"/>
<rect x="988.4" y="1408.4" width="1.8" height="3.8" fill="#000"/>
<rect x="994.1" y="1408.4" width="1.8" height="3.8" fill="#000"/>
<rect x="1032.73" y="1408.4" width="1.8" height="3.8" fill="#000"/>
<rect x="1052.35" y="1408.4" width="1.8" height="3.8" fill="#000"/>
<rect x="1066.27" y="1408.4" width="1.8" height="3.8" fill="#000"/>
<rect x="1076.17" y="1408.4" width="3.6" height="6" fill="#000"/>
<rect x="1085.89" y="1408.4" width="1.8" height="3.8" fill="#000"/>
<rect x="1093.34" y="1408.4" width="1.8" height="3.8" fill="#000"/>
<rect x="1099.8" y="1408.4" width="1.8" height="3.8" fill="#000"/>
<rect x="1105.5" y="1408.4" width="1.8" height="3.8" fill="#000"/>
<rect x="1144.13" y="1408.4" width="1.8" height="3.8" fill="#000"/>
<rect x="1163.75" y="1408.4" width="1.8" height="3.8" fill="#000"/>
<rect x="1177.67" y="1408.4" width="1.8" height="3.8" fill="#000"/>
<rect x="1187.57" y="1408.4" width="3.6" height="6" fill="#000"/>
<rect x="1197.29" y="1408.4" width="1.8" height="3.8" fill="#000"/>
<rect x="1204.74" y="1408.4" width="1.8" height="3.8" fill="#000"/>
<rect x="1211.2" y="1408.4" width="1.8" height="3.8" fill="#000"/>
<rect x="1216.9" y="1408.4" width="1.8" height="3.8" fill="#000"/>
<rect x="1255.53" y="1408.4" width="1.8" height="3.8" fill="#000"/>
<rect x="1275.15" y="1408.4" width="1.8" height="3.8" fill="#000"/>
<rect x="1289.07" y="1408.4" width="1.8" height="3.8" fill="#000"/>
<rect x="1298.97" y="1408.4" width="3.6" height="6" fill="#000"/>
<rect x="1308.69" y="1408.4" width="1.8" height="3.8" fill="#000"/>
<rect x="1316.14" y="1408.4" width="1.8" height="3.8" fill="#000"/>
<rect x="1322.6" y="1408.4" width="1.8" height="3.8" fill="#000"/>
<rect x="1328.3" y="1408.4" width="1.8" height="3.8" fill="#000"/>
<rect x="1366.93" y="1408.4" width="1.8" height="3.8" fill="#000"/>
<rect x="1386.55" y="1408.4" width="1.8" height="3.8" fill="#000"/>
<rect x="1400.47" y="1408.4" width="1.8" height="3.8" fill="#000"/>
<rect x="1410.37" y="1408.4" width="3.6" height="6" fill="#000"/>
<rect x="1420.09" y="1408.4" width="1.8" height="3.8" fill="#000"/>
<rect x="1427.54" y="1408.4" width="1.8" height="3.8" fill="#000"/>
<rect x="1434" y="1408.4" width="1.8" height="3.8" fill="#000"/>
<rect x="1439.7" y="1408.4" width="1.8" height="3.8" fill="#000"/>
<rect x="1478.33" y="1408.4" width="1.8" height="3.8" fill="#000"/>
<text transform="translate(788.5,1066.7) scale(0.17049,0.21087)" font-family="Liberation Sans" font-size="200" font-weight="bold" stroke="#000" stroke-width="3" fill="#000">F</text>
<text transform="translate(1162.3,1076.2) scale(0.13880,0.13986)" font-family="Liberation Sans" font-size="200" fill="#000">BMMs</text>
<text transform="translate(817,1115.11) scale(0.13443,0.14507)" font-family="Liberation Sans" font-size="200" fill="#000">100</text>
<text transform="translate(831.4,1170.41) scale(0.13739,0.14718)" font-family="Liberation Sans" font-size="200" fill="#000">80</text>
<text transform="translate(831.2,1238.71) scale(0.13829,0.14648)" font-family="Liberation Sans" font-size="200" fill="#000">60</text>
<text transform="translate(830.3,1299.31) scale(0.14234,0.14718)" font-family="Liberation Sans" font-size="200" fill="#000">40</text>
<text transform="translate(831.2,1359.91) scale(0.13829,0.14718)" font-family="Liberation Sans" font-size="200" fill="#000">20</text>
<text transform="translate(848.6,1414) scale(0.11982,0.14859)" font-family="Liberation Sans" font-size="200" fill="#000">0</text>
<text transform="translate(804.17,1377.1) rotate(-90) scale(0.14803,0.15080)" font-family="Liberation Sans" font-size="200" fill="#000">Counts(% of total)</text>
<text transform="translate(869.6,1449.2) scale(0.12844,0.14857)" font-family="Liberation Sans" font-size="200" fill="#000">10</text>
<text transform="translate(900.34,1441.5) scale(0.07544,0.09856)" font-family="Liberation Sans" font-size="200" fill="#000">0</text>
<text transform="translate(988.3,1449.2) scale(0.12844,0.14857)" font-family="Liberation Sans" font-size="200" fill="#000">10</text>
<text transform="translate(1019.99,1441.5) scale(0.04584,0.09856)" font-family="Liberation Sans" font-size="200" fill="#000">1</text>
<text transform="translate(1104.1,1449.2) scale(0.12844,0.14857)" font-family="Liberation Sans" font-size="200" fill="#000">10</text>
<text transform="translate(1134.84,1441.5) scale(0.07449,0.09856)" font-family="Liberation Sans" font-size="200" fill="#000">2</text>
<text transform="translate(1217.4,1449.2) scale(0.12844,0.14857)" font-family="Liberation Sans" font-size="200" fill="#000">10</text>
<text transform="translate(1248.14,1441.5) scale(0.07449,0.09856)" font-family="Liberation Sans" font-size="200" fill="#000">3</text>
<text transform="translate(1335,1449.2) scale(0.12844,0.14857)" font-family="Liberation Sans" font-size="200" fill="#000">10</text>
<text transform="translate(1365.74,1441.5) scale(0.07831,0.09856)" font-family="Liberation Sans" font-size="200" fill="#000">4</text>
<text transform="translate(1449.1,1449.2) scale(0.12844,0.14857)" font-family="Liberation Sans" font-size="200" fill="#000">10</text>
<text transform="translate(1479.84,1441.5) scale(0.07449,0.09856)" font-family="Liberation Sans" font-size="200" fill="#000">5</text>
<rect x="884.15" y="1471.55" width="612" height="3.3" fill="#000"/>
<rect x="884.15" y="1614.95" width="612" height="3.3" fill="#000"/>
<rect x="884.15" y="1473.2" width="3.3" height="143.4" fill="#000"/>
<rect x="1492.85" y="1473.2" width="3.3" height="143.4" fill="#000"/>
<rect x="959.45" y="1473.2" width="3.3" height="143.4" fill="#000"/>
<rect x="1304.35" y="1475.7" width="3.3" height="144.3" fill="#000"/>
<rect x="885.8" y="1499.95" width="608.7" height="3.3" fill="#000"/>
<rect x="885.8" y="1529.35" width="608.7" height="3.3" fill="#000"/>
<rect x="885.8" y="1557.95" width="608.7" height="3.3" fill="#000"/>
<rect x="885.8" y="1586.45" width="608.7" height="3.3" fill="#000"/>
<text transform="translate(982.9,1492.7) scale(0.09976,0.10143)" font-family="Liberation Sans" font-size="200" fill="#000">Sample name</text>
<text transform="translate(983.4,1522.1) scale(0.09782,0.10357)" font-family="Liberation Sans" font-size="200" fill="#000">RSA</text>
<text transform="translate(982.9,1550.1) scale(0.09924,0.10286)" font-family="Liberation Sans" font-size="200" fill="#000">AOPPs</text>
<text transform="translate(983.4,1577.6) scale(0.09940,0.10286)" font-family="Liberation Sans" font-size="200" fill="#000">KO RANK+AOPPs</text>
<text transform="translate(983.4,1605.7) scale(0.09947,0.09929)" font-family="Liberation Sans" font-size="200" fill="#000">KO RAGE+AOPPs</text>
<text transform="translate(1400.5,1493.7) scale(0.09866,0.10072)" font-family="Liberation Sans" font-size="200" fill="#000">%parent</text>
<text transform="translate(1376.9,1522.5) scale(0.09212,0.08929)" font-family="Liberation Sans" font-size="200" fill="#000">3.86±0.51</text>
<text transform="translate(1365.4,1549.6) scale(0.09430,0.09143)" font-family="Liberation Sans" font-size="200" fill="#000">84.50±3.53</text>
<text transform="translate(1365.4,1577.3) scale(0.09658,0.09000)" font-family="Liberation Sans" font-size="200" fill="#000">54.72±1.58#</text>
<text transform="translate(1365.4,1605.3) scale(0.09478,0.08929)" font-family="Liberation Sans" font-size="200" fill="#000">39.46±2.04#</text>
<path d="M1469 1545.9 L1469 1540.6 M1469 1545.9 L1474.65 1544.26 M1469 1545.9 L1463.35 1544.26 M1469 1545.9 L1465.51 1550.19 M1469 1545.9 L1472.49 1550.19 " stroke="#000" stroke-width="2.2" fill="none"/>
<rect x="907.3" y="1505.3" width="15" height="17.6" fill="#fff" stroke="#66f030" stroke-width="4"/>
<rect x="907.3" y="1534.3" width="15" height="17.9" fill="#fff" stroke="#ff0000" stroke-width="4"/>
<rect x="907.3" y="1563.3" width="15" height="17.9" fill="#fff" stroke="#10bcf8" stroke-width="4"/>
<rect x="907.3" y="1592" width="15" height="17.3" fill="#fff" stroke="#ff9a32" stroke-width="4"/>
</svg></body></html>
